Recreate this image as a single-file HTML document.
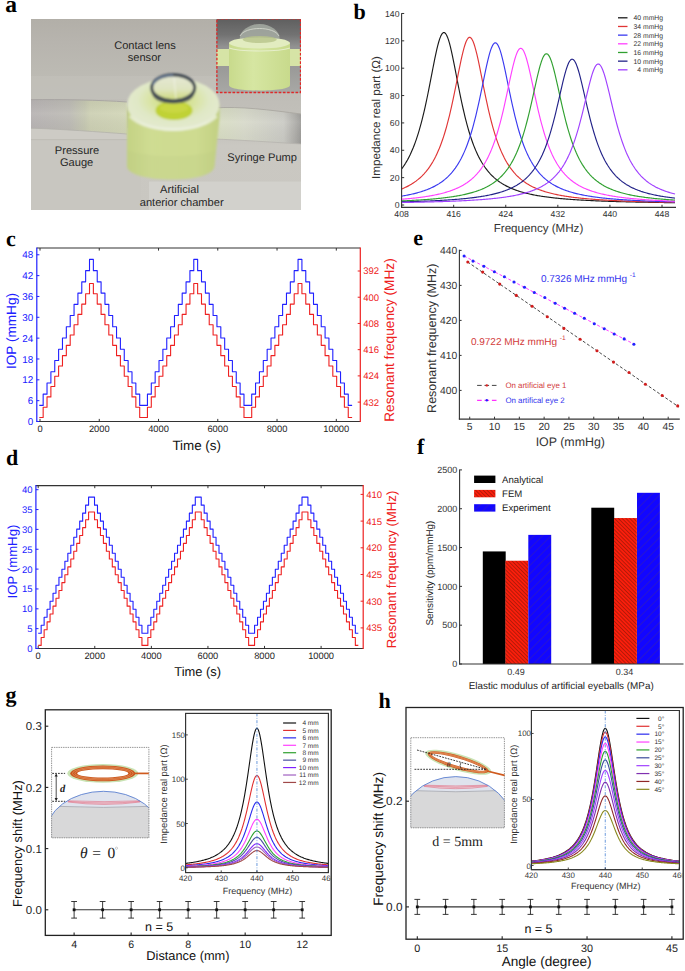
<!DOCTYPE html><html><head><meta charset="utf-8"><style>html,body{margin:0;padding:0;background:#fff;overflow:hidden}svg{display:block}</style></head><body>
<svg width="685" height="971" viewBox="0 0 685 971" text-rendering="geometricPrecision">
<rect x="0" y="0" width="685" height="971" fill="#fff"/>
<text x="5.3" y="12.3" font-size="23.5" text-anchor="start" fill="#000" font-weight="bold" font-family='"Liberation Serif", serif'>a</text>
<defs>
<linearGradient id="abg" x1="0" y1="0" x2="0" y2="1">
 <stop offset="0" stop-color="#b2afa8"/><stop offset="0.12" stop-color="#b7b4ae"/><stop offset="0.28" stop-color="#bcbab3"/><stop offset="0.4" stop-color="#bfbdb7"/>
 <stop offset="0.6" stop-color="#c4c2bc"/><stop offset="0.66" stop-color="#cac8c2"/><stop offset="1" stop-color="#c9c7c1"/></linearGradient>
<linearGradient id="atubeL" x1="0" y1="0" x2="1" y2="0">
 <stop offset="0" stop-color="#b8b4b4"/><stop offset="0.4" stop-color="#bdbbb5"/><stop offset="0.56" stop-color="#c6c8b2"/><stop offset="0.62" stop-color="#cdd0b4"/><stop offset="1" stop-color="#d2d6b8"/></linearGradient>
<linearGradient id="atubeR" x1="0" y1="0" x2="1" y2="0">
 <stop offset="0" stop-color="#d8dec2"/><stop offset="0.35" stop-color="#d8dacb"/><stop offset="0.8" stop-color="#cbcbc5"/><stop offset="0.93" stop-color="#b0afab"/><stop offset="1" stop-color="#9e9d9a"/></linearGradient>
<linearGradient id="atubeV" x1="0" y1="0" x2="0" y2="1">
 <stop offset="0" stop-color="#000" stop-opacity="0.04"/><stop offset="0.4" stop-color="#fff" stop-opacity="0.06"/><stop offset="1" stop-color="#000" stop-opacity="0.03"/></linearGradient>
<linearGradient id="acyl" x1="0" y1="0" x2="1" y2="0">
 <stop offset="0" stop-color="#c4d284"/><stop offset="0.25" stop-color="#cfdc92"/><stop offset="0.75" stop-color="#cedb90"/><stop offset="1" stop-color="#c2d082"/></linearGradient>
<radialGradient id="atop" cx="0.5" cy="0.42" r="0.6">
 <stop offset="0" stop-color="#cadb60"/><stop offset="0.3" stop-color="#d6e294"/><stop offset="0.65" stop-color="#e0e8c6"/><stop offset="1" stop-color="#e4ead2"/></radialGradient>
<linearGradient id="ainbg" x1="0" y1="0" x2="0" y2="1">
 <stop offset="0" stop-color="#5e5e5e"/><stop offset="0.22" stop-color="#727272"/><stop offset="0.38" stop-color="#929292"/><stop offset="0.7" stop-color="#9c9c9a"/><stop offset="1" stop-color="#a9a9a6"/></linearGradient>
<linearGradient id="aincyl" x1="0" y1="0" x2="1" y2="0">
 <stop offset="0" stop-color="#c8da8c"/><stop offset="0.4" stop-color="#d6e6a2"/><stop offset="1" stop-color="#c8da8c"/></linearGradient>
<linearGradient id="alens" x1="0" y1="0" x2="0" y2="1">
 <stop offset="0" stop-color="#e4e7d4"/><stop offset="0.55" stop-color="#dfe4c0"/><stop offset="1" stop-color="#ccd978"/></linearGradient>
<filter id="asoft" x="-5%" y="-5%" width="110%" height="110%"><feGaussianBlur stdDeviation="0.8"/></filter>
<filter id="asoft2" x="-5%" y="-5%" width="110%" height="110%"><feGaussianBlur stdDeviation="0.5"/></filter>
<clipPath id="aclip"><rect x="31" y="19" width="270" height="191"/></clipPath>
<clipPath id="aclip2"><rect x="216.5" y="18.5" width="84.5" height="74.5"/></clipPath>
</defs>
<g clip-path="url(#aclip)">
<rect x="31" y="19" width="270" height="191" fill="url(#abg)"/>
<rect x="31" y="129" width="110" height="81" fill="#c8c6c0"/>
<rect x="31" y="128" width="100" height="11.6" fill="#cdcbc5"/>
<rect x="31" y="139.3" width="100" height="0.8" fill="#bbb9b3"/>
<rect x="31" y="76" width="186" height="23" fill="#c3c1bb" opacity="0.6"/>
<g filter="url(#asoft2)">
<path d="M31,99.7 C60,99.3 100,100 127,102 L127,134 C100,132 60,129 31,128.2 Z" fill="url(#atubeL)"/>
<path d="M31,99.7 C60,99.3 100,100 127,102 L127,134 C100,132 60,129 31,128.2 Z" fill="url(#atubeV)"/>
<path d="M31,99.7 C60,99.3 100,100 127,102" fill="none" stroke="#a6a3a0" stroke-width="0.9"/>
<path d="M31,128.2 C60,129 100,132 127,134" fill="none" stroke="#b4b2ac" stroke-width="0.8"/>
<path d="M214,108 C240,106 270,110 301,114 L301,144 C270,142 240,140 214,139 Z" fill="url(#atubeR)"/>
<path d="M214,108 C240,106 270,110 301,114 L301,144 C270,142 240,140 214,139 Z" fill="url(#atubeV)"/>
<path d="M214,108 C240,106 270,110 301,114" fill="none" stroke="#aaa8a2" stroke-width="0.9"/>
<path d="M214,139 C240,140 270,142 301,144" fill="none" stroke="#b6b4ae" stroke-width="0.8"/>
</g>
<g filter="url(#asoft)">
<path d="M127,104 L127,166 C127,175 150,179.5 172,179.5 C194,179.5 214,175 214.5,166 L219.5,118 L219.5,104 Z" fill="url(#acyl)"/>
<path d="M127,150 L127,166 C127,175 150,179.5 172,179.5 C194,179.5 214,175 214.5,166 L215.5,150 C200,158 146,158 127,150 Z" fill="#b8c880" opacity="0.2"/>
<ellipse cx="173.3" cy="104.5" rx="46.2" ry="26.5" fill="url(#atop)"/>
<path d="M130,116 C146,134 200,134 216.5,116" fill="none" stroke="#eef2e0" stroke-width="3" opacity="0.75"/>
<ellipse cx="174" cy="110.5" rx="18.5" ry="9.5" fill="#c0d234"/>
<ellipse cx="174" cy="108" rx="14" ry="5" fill="#cad846" opacity="0.8"/>
<path d="M151.8,89 C152,97 160,103 173.2,103 C186.4,103 194.4,97 194.6,89 Z" fill="#c6d65a"/>
<ellipse cx="173.2" cy="87.8" rx="21.4" ry="12.8" fill="url(#alens)"/>
<path d="M151.9,91 C153.5,99.5 162,102.6 173.2,102.6 C184.4,102.6 192.9,99.5 194.5,91" fill="none" stroke="#5a6062" stroke-width="1.7"/>
<ellipse cx="173.2" cy="87.8" rx="21.5" ry="12.9" fill="none" stroke="#3e4650" stroke-width="3.1"/>
<path d="M153,85 C155,78 165,75.3 173,75.3" fill="none" stroke="#7088a8" stroke-width="1.6" opacity="0.9"/>
<path d="M174,77 L176,99" stroke="#f6f8f0" stroke-width="0.8" opacity="0.85"/>
</g>
<g filter="url(#asoft2)">
<rect x="149" y="181.6" width="152" height="29" fill="#d2d1cc"/>
</g>
<g clip-path="url(#aclip2)">
<rect x="216" y="18" width="86" height="76" fill="url(#ainbg)"/>
<g filter="url(#asoft2)">
<rect x="216" y="49" width="14" height="17" fill="#d6e4a6"/>
<rect x="288" y="49" width="14" height="17" fill="#d6e4a6"/>
<ellipse cx="259.7" cy="39" rx="20" ry="15" fill="#a6aba2" opacity="0.85"/>
<path d="M240,36 C245,26 274,26 279,36" fill="none" stroke="#d8dcd2" stroke-width="0.8"/>
<path d="M229,43 L229,85 C229,89 245,90.5 259.5,90.5 C274,90.5 290,89 290,85 L290,43 Z" fill="url(#aincyl)"/>
<ellipse cx="259.5" cy="43" rx="30.5" ry="5.5" fill="#e2ecc0"/>
<ellipse cx="259.7" cy="39.5" rx="17" ry="3.5" fill="#b8c48a" opacity="0.8"/>
<path d="M229,48 C240,52 279,52 290,48" fill="none" stroke="#f0f4e0" stroke-width="1.2" opacity="0.7"/>
</g></g>
<rect x="216.9" y="18.9" width="83.6" height="73.6" fill="none" stroke="#e02828" stroke-width="1.3" stroke-dasharray="2.6,1.6"/>
</g>
<text x="145" y="48.8" font-size="11.1" text-anchor="middle" fill="#262626" font-family='"Liberation Sans", sans-serif'>Contact lens</text>
<text x="144.4" y="60.8" font-size="11.1" text-anchor="middle" fill="#262626" font-family='"Liberation Sans", sans-serif'>sensor</text>
<text x="77" y="154.4" font-size="11.1" text-anchor="middle" fill="#262626" font-family='"Liberation Sans", sans-serif'>Pressure</text>
<text x="76.6" y="166" font-size="11.1" text-anchor="middle" fill="#262626" font-family='"Liberation Sans", sans-serif'>Gauge</text>
<text x="262.2" y="160.9" font-size="11.1" text-anchor="middle" fill="#262626" font-family='"Liberation Sans", sans-serif'>Syringe Pump</text>
<text x="179.5" y="193.3" font-size="11.1" text-anchor="middle" fill="#262626" font-family='"Liberation Sans", sans-serif'>Artificial</text>
<text x="181.7" y="206.3" font-size="11.1" text-anchor="middle" fill="#262626" font-family='"Liberation Sans", sans-serif'>anterior chamber</text>
<text x="353.5" y="19" font-size="22" text-anchor="start" fill="#000" font-weight="bold" font-family='"Liberation Serif", serif'>b</text>
<line x1="401.6" y1="13.3" x2="401.6" y2="207.6" stroke="#333" stroke-width="1.1"/>
<line x1="401" y1="207.4" x2="676" y2="207.4" stroke="#333" stroke-width="1.1"/>
<line x1="401.6" y1="205" x2="404.2" y2="205" stroke="#333" stroke-width="1"/>
<text x="399.5" y="208.1" font-size="8.7" text-anchor="end" fill="#333" font-family='"Liberation Sans", sans-serif'>0</text>
<line x1="401.6" y1="177.64" x2="404.2" y2="177.64" stroke="#333" stroke-width="1"/>
<text x="399.5" y="180.74" font-size="8.7" text-anchor="end" fill="#333" font-family='"Liberation Sans", sans-serif'>20</text>
<line x1="401.6" y1="150.28" x2="404.2" y2="150.28" stroke="#333" stroke-width="1"/>
<text x="399.5" y="153.38" font-size="8.7" text-anchor="end" fill="#333" font-family='"Liberation Sans", sans-serif'>40</text>
<line x1="401.6" y1="122.92" x2="404.2" y2="122.92" stroke="#333" stroke-width="1"/>
<text x="399.5" y="126.02" font-size="8.7" text-anchor="end" fill="#333" font-family='"Liberation Sans", sans-serif'>60</text>
<line x1="401.6" y1="95.56" x2="404.2" y2="95.56" stroke="#333" stroke-width="1"/>
<text x="399.5" y="98.66" font-size="8.7" text-anchor="end" fill="#333" font-family='"Liberation Sans", sans-serif'>80</text>
<line x1="401.6" y1="68.2" x2="404.2" y2="68.2" stroke="#333" stroke-width="1"/>
<text x="399.5" y="71.3" font-size="8.7" text-anchor="end" fill="#333" font-family='"Liberation Sans", sans-serif'>100</text>
<line x1="401.6" y1="40.84" x2="404.2" y2="40.84" stroke="#333" stroke-width="1"/>
<text x="399.5" y="43.94" font-size="8.7" text-anchor="end" fill="#333" font-family='"Liberation Sans", sans-serif'>120</text>
<line x1="401.6" y1="13.48" x2="404.2" y2="13.48" stroke="#333" stroke-width="1"/>
<text x="399.5" y="16.58" font-size="8.7" text-anchor="end" fill="#333" font-family='"Liberation Sans", sans-serif'>140</text>
<line x1="401.6" y1="207.4" x2="401.6" y2="204.8" stroke="#333" stroke-width="1"/>
<text x="401.6" y="217.2" font-size="8.7" text-anchor="middle" fill="#333" font-family='"Liberation Sans", sans-serif'>408</text>
<line x1="453.68" y1="207.4" x2="453.68" y2="204.8" stroke="#333" stroke-width="1"/>
<text x="453.68" y="217.2" font-size="8.7" text-anchor="middle" fill="#333" font-family='"Liberation Sans", sans-serif'>416</text>
<line x1="505.76" y1="207.4" x2="505.76" y2="204.8" stroke="#333" stroke-width="1"/>
<text x="505.76" y="217.2" font-size="8.7" text-anchor="middle" fill="#333" font-family='"Liberation Sans", sans-serif'>424</text>
<line x1="557.84" y1="207.4" x2="557.84" y2="204.8" stroke="#333" stroke-width="1"/>
<text x="557.84" y="217.2" font-size="8.7" text-anchor="middle" fill="#333" font-family='"Liberation Sans", sans-serif'>432</text>
<line x1="609.92" y1="207.4" x2="609.92" y2="204.8" stroke="#333" stroke-width="1"/>
<text x="609.92" y="217.2" font-size="8.7" text-anchor="middle" fill="#333" font-family='"Liberation Sans", sans-serif'>440</text>
<line x1="662" y1="207.4" x2="662" y2="204.8" stroke="#333" stroke-width="1"/>
<text x="662" y="217.2" font-size="8.7" text-anchor="middle" fill="#333" font-family='"Liberation Sans", sans-serif'>448</text>
<text x="538.5" y="231.9" font-size="11.6" text-anchor="middle" fill="#333" font-family='"Liberation Sans", sans-serif'>Frequency (MHz)</text>
<text x="379.5" y="117.5" font-size="11.6" text-anchor="middle" fill="#333" transform="rotate(-90 379.5 117.5)" font-family='"Liberation Sans", sans-serif'>Impedance real part (&#937;)</text>
<clipPath id="bclip"><rect x="402" y="10" width="274" height="197"/></clipPath>
<g clip-path="url(#bclip)">
<polyline points="401.6,169 402.58,167.67 403.55,166.28 404.53,164.81 405.51,163.27 406.48,161.64 407.46,159.93 408.44,158.12 409.41,156.22 410.39,154.21 411.36,152.09 412.34,149.85 413.32,147.49 414.29,145 415.27,142.37 416.25,139.6 417.22,136.68 418.2,133.61 419.18,130.37 420.15,126.96 421.13,123.38 422.11,119.63 423.08,115.7 424.06,111.59 425.04,107.31 426.01,102.86 426.99,98.25 427.97,93.5 428.94,88.63 429.92,83.65 430.89,78.62 431.87,73.55 432.85,68.5 433.82,63.53 434.8,58.68 435.78,54.04 436.75,49.66 437.73,45.63 438.71,42.02 439.68,38.91 440.66,36.35 441.64,34.4 442.61,33.12 443.59,32.53 444.57,32.65 445.54,33.47 446.52,34.98 447.5,37.14 448.47,39.89 449.45,43.18 450.42,46.93 451.4,51.09 452.38,55.56 453.35,60.28 454.33,65.17 455.31,70.18 456.28,75.24 457.26,80.3 458.24,85.32 459.21,90.26 460.19,95.1 461.17,99.8 462.14,104.36 463.12,108.75 464.1,112.98 465.07,117.03 466.05,120.9 467.03,124.59 468,128.12 468.98,131.47 469.95,134.65 470.93,137.67 471.91,140.54 472.88,143.26 473.86,145.84 474.84,148.29 475.81,150.61 476.79,152.8 477.77,154.89 478.74,156.86 479.72,158.73 480.7,160.51 481.67,162.19 482.65,163.79 483.63,165.31 484.6,166.75 485.58,168.12 486.56,169.42 487.53,170.66 488.51,171.84 489.48,172.96 490.46,174.03 491.44,175.05 492.41,176.02 493.39,176.94 494.37,177.83 495.34,178.67 496.32,179.48 497.3,180.25 498.27,180.99 499.25,181.69 500.23,182.37 501.2,183.01 502.18,183.63 503.16,184.23 504.13,184.8 505.11,185.34 506.09,185.87 507.06,186.37 508.04,186.85 509.01,187.32 509.99,187.77 510.97,188.2 511.94,188.61 512.92,189.01 513.9,189.39 514.87,189.76 515.85,190.12 516.83,190.47 517.8,190.8 518.78,191.12 519.76,191.43 520.73,191.73 521.71,192.01 522.69,192.29 523.66,192.56 524.64,192.82 525.62,193.08 526.59,193.32 527.57,193.56 528.54,193.79 529.52,194.01 530.5,194.22 531.47,194.43 532.45,194.63 533.43,194.83 534.4,195.02 535.38,195.2 536.36,195.38 537.33,195.56 538.31,195.72 539.29,195.89 540.26,196.05 541.24,196.2 542.22,196.35 543.19,196.5 544.17,196.64 545.15,196.78 546.12,196.92 547.1,197.05 548.07,197.17 549.05,197.3 550.03,197.42 551,197.54 551.98,197.65 552.96,197.76 553.93,197.87 554.91,197.98 555.89,198.08 556.86,198.19 557.84,198.28 558.82,198.38 559.79,198.47 560.77,198.57 561.75,198.66 562.72,198.74 563.7,198.83 564.68,198.91 565.65,198.99 566.63,199.07 567.6,199.15 568.58,199.23 569.56,199.3 570.53,199.38 571.51,199.45 572.49,199.52 573.46,199.58 574.44,199.65 575.42,199.72 576.39,199.78 577.37,199.84 578.35,199.9 579.32,199.96 580.3,200.02 581.28,200.08 582.25,200.14 583.23,200.19 584.21,200.25 585.18,200.3 586.16,200.35 587.13,200.4 588.11,200.45 589.09,200.5 590.06,200.55 591.04,200.6 592.02,200.64 592.99,200.69 593.97,200.73 594.95,200.77 595.92,200.82 596.9,200.86 597.88,200.9 598.85,200.94 599.83,200.98 600.81,201.02 601.78,201.06 602.76,201.1 603.74,201.13 604.71,201.17 605.69,201.2 606.66,201.24 607.64,201.27 608.62,201.31 609.59,201.34 610.57,201.37 611.55,201.41 612.52,201.44 613.5,201.47 614.48,201.5 615.45,201.53 616.43,201.56 617.41,201.59 618.38,201.61 619.36,201.64 620.34,201.67 621.31,201.7 622.29,201.72 623.27,201.75 624.24,201.78 625.22,201.8 626.19,201.83 627.17,201.85 628.15,201.88 629.12,201.9 630.1,201.92 631.08,201.95 632.05,201.97 633.03,201.99 634.01,202.01 634.98,202.04 635.96,202.06 636.94,202.08 637.91,202.1 638.89,202.12 639.87,202.14 640.84,202.16 641.82,202.18 642.8,202.2 643.77,202.22 644.75,202.24 645.72,202.26 646.7,202.27 647.68,202.29 648.65,202.31 649.63,202.33 650.61,202.34 651.58,202.36 652.56,202.38 653.54,202.39 654.51,202.41 655.49,202.43 656.47,202.44 657.44,202.46 658.42,202.47 659.4,202.49 660.37,202.5 661.35,202.52 662.33,202.53 663.3,202.55 664.28,202.56 665.25,202.58 666.23,202.59 667.21,202.6 668.18,202.62 669.16,202.63 670.14,202.64 671.11,202.66 672.09,202.67 673.07,202.68 674.04,202.7 675.02,202.71" fill="none" stroke="#1a1a1a" stroke-width="1.15" stroke-linejoin="round"/>
<polyline points="401.6,189.05 402.58,188.64 403.55,188.22 404.53,187.79 405.51,187.34 406.48,186.87 407.46,186.38 408.44,185.87 409.41,185.34 410.39,184.78 411.36,184.21 412.34,183.6 413.32,182.97 414.29,182.32 415.27,181.63 416.25,180.92 417.22,180.17 418.2,179.38 419.18,178.56 420.15,177.7 421.13,176.8 422.11,175.86 423.08,174.87 424.06,173.83 425.04,172.74 426.01,171.6 426.99,170.39 427.97,169.13 428.94,167.79 429.92,166.39 430.89,164.92 431.87,163.36 432.85,161.73 433.82,160 434.8,158.18 435.78,156.26 436.75,154.24 437.73,152.1 438.71,149.85 439.68,147.47 440.66,144.96 441.64,142.32 442.61,139.53 443.59,136.59 444.57,133.49 445.54,130.24 446.52,126.81 447.5,123.22 448.47,119.46 449.45,115.52 450.42,111.41 451.4,107.14 452.38,102.71 453.35,98.14 454.33,93.44 455.31,88.64 456.28,83.76 457.26,78.83 458.24,73.92 459.21,69.05 460.19,64.29 461.17,59.7 462.14,55.36 463.12,51.32 464.1,47.67 465.07,44.47 466.05,41.79 467.03,39.7 468,38.24 468.98,37.44 469.95,37.32 470.93,37.89 471.91,39.14 472.88,41.03 473.86,43.52 474.84,46.55 475.81,50.06 476.79,53.97 477.77,58.22 478.74,62.74 479.72,67.45 480.7,72.29 481.67,77.19 482.65,82.12 483.63,87.02 484.6,91.85 485.58,96.59 486.56,101.2 487.53,105.68 488.51,110.01 489.48,114.17 490.46,118.16 491.44,121.99 492.41,125.64 493.39,129.11 494.37,132.43 495.34,135.57 496.32,138.57 497.3,141.4 498.27,144.1 499.25,146.65 500.23,149.07 501.2,151.36 502.18,153.54 503.16,155.6 504.13,157.55 505.11,159.4 506.09,161.16 507.06,162.83 508.04,164.41 509.01,165.91 509.99,167.34 510.97,168.69 511.94,169.98 512.92,171.2 513.9,172.37 514.87,173.47 515.85,174.53 516.83,175.54 517.8,176.49 518.78,177.41 519.76,178.28 520.73,179.11 521.71,179.91 522.69,180.67 523.66,181.4 524.64,182.09 525.62,182.76 526.59,183.4 527.57,184.01 528.54,184.59 529.52,185.15 530.5,185.69 531.47,186.21 532.45,186.71 533.43,187.18 534.4,187.64 535.38,188.08 536.36,188.5 537.33,188.91 538.31,189.31 539.29,189.68 540.26,190.05 541.24,190.4 542.22,190.74 543.19,191.06 544.17,191.38 545.15,191.68 546.12,191.98 547.1,192.26 548.07,192.54 549.05,192.8 550.03,193.06 551,193.31 551.98,193.55 552.96,193.78 553.93,194 554.91,194.22 555.89,194.43 556.86,194.64 557.84,194.83 558.82,195.03 559.79,195.21 560.77,195.39 561.75,195.57 562.72,195.74 563.7,195.91 564.68,196.07 565.65,196.22 566.63,196.38 567.6,196.52 568.58,196.67 569.56,196.81 570.53,196.94 571.51,197.07 572.49,197.2 573.46,197.33 574.44,197.45 575.42,197.57 576.39,197.68 577.37,197.8 578.35,197.91 579.32,198.01 580.3,198.12 581.28,198.22 582.25,198.32 583.23,198.42 584.21,198.51 585.18,198.6 586.16,198.69 587.13,198.78 588.11,198.87 589.09,198.95 590.06,199.03 591.04,199.11 592.02,199.19 592.99,199.27 593.97,199.34 594.95,199.41 595.92,199.49 596.9,199.56 597.88,199.62 598.85,199.69 599.83,199.76 600.81,199.82 601.78,199.88 602.76,199.94 603.74,200 604.71,200.06 605.69,200.12 606.66,200.18 607.64,200.23 608.62,200.28 609.59,200.34 610.57,200.39 611.55,200.44 612.52,200.49 613.5,200.54 614.48,200.59 615.45,200.63 616.43,200.68 617.41,200.73 618.38,200.77 619.36,200.81 620.34,200.86 621.31,200.9 622.29,200.94 623.27,200.98 624.24,201.02 625.22,201.06 626.19,201.09 627.17,201.13 628.15,201.17 629.12,201.21 630.1,201.24 631.08,201.28 632.05,201.31 633.03,201.34 634.01,201.38 634.98,201.41 635.96,201.44 636.94,201.47 637.91,201.5 638.89,201.53 639.87,201.56 640.84,201.59 641.82,201.62 642.8,201.65 643.77,201.68 644.75,201.7 645.72,201.73 646.7,201.76 647.68,201.78 648.65,201.81 649.63,201.84 650.61,201.86 651.58,201.88 652.56,201.91 653.54,201.93 654.51,201.96 655.49,201.98 656.47,202 657.44,202.02 658.42,202.05 659.4,202.07 660.37,202.09 661.35,202.11 662.33,202.13 663.3,202.15 664.28,202.17 665.25,202.19 666.23,202.21 667.21,202.23 668.18,202.25 669.16,202.27 670.14,202.29 671.11,202.3 672.09,202.32 673.07,202.34 674.04,202.36 675.02,202.37" fill="none" stroke="#e03535" stroke-width="1.15" stroke-linejoin="round"/>
<polyline points="401.6,196.12 402.58,195.96 403.55,195.8 404.53,195.62 405.51,195.45 406.48,195.27 407.46,195.08 408.44,194.88 409.41,194.68 410.39,194.48 411.36,194.26 412.34,194.04 413.32,193.82 414.29,193.58 415.27,193.34 416.25,193.09 417.22,192.83 418.2,192.56 419.18,192.28 420.15,192 421.13,191.7 422.11,191.39 423.08,191.07 424.06,190.74 425.04,190.39 426.01,190.04 426.99,189.67 427.97,189.28 428.94,188.88 429.92,188.47 430.89,188.04 431.87,187.59 432.85,187.12 433.82,186.63 434.8,186.13 435.78,185.6 436.75,185.05 437.73,184.47 438.71,183.88 439.68,183.25 440.66,182.6 441.64,181.91 442.61,181.2 443.59,180.45 444.57,179.67 445.54,178.85 446.52,178 447.5,177.1 448.47,176.16 449.45,175.17 450.42,174.13 451.4,173.04 452.38,171.89 453.35,170.69 454.33,169.42 455.31,168.09 456.28,166.69 457.26,165.21 458.24,163.66 459.21,162.02 460.19,160.29 461.17,158.46 462.14,156.54 463.12,154.51 464.1,152.37 465.07,150.11 466.05,147.73 467.03,145.21 468,142.56 468.98,139.77 469.95,136.83 470.93,133.73 471.91,130.47 472.88,127.05 473.86,123.47 474.84,119.72 475.81,115.8 476.79,111.72 477.77,107.48 478.74,103.11 479.72,98.6 480.7,93.98 481.67,89.28 482.65,84.53 483.63,79.77 484.6,75.04 485.58,70.4 486.56,65.9 487.53,61.61 488.51,57.6 489.48,53.93 490.46,50.68 491.44,47.92 492.41,45.7 493.39,44.08 494.37,43.09 495.34,42.76 496.32,43.09 497.3,44.08 498.27,45.7 499.25,47.92 500.23,50.68 501.2,53.93 502.18,57.6 503.16,61.61 504.13,65.9 505.11,70.4 506.09,75.04 507.06,79.77 508.04,84.53 509.01,89.28 509.99,93.98 510.97,98.6 511.94,103.11 512.92,107.48 513.9,111.72 514.87,115.8 515.85,119.72 516.83,123.47 517.8,127.05 518.78,130.47 519.76,133.73 520.73,136.83 521.71,139.77 522.69,142.56 523.66,145.21 524.64,147.73 525.62,150.11 526.59,152.37 527.57,154.51 528.54,156.54 529.52,158.46 530.5,160.29 531.47,162.02 532.45,163.66 533.43,165.21 534.4,166.69 535.38,168.09 536.36,169.42 537.33,170.69 538.31,171.89 539.29,173.04 540.26,174.13 541.24,175.17 542.22,176.16 543.19,177.1 544.17,178 545.15,178.85 546.12,179.67 547.1,180.45 548.07,181.2 549.05,181.91 550.03,182.6 551,183.25 551.98,183.88 552.96,184.47 553.93,185.05 554.91,185.6 555.89,186.13 556.86,186.63 557.84,187.12 558.82,187.59 559.79,188.04 560.77,188.47 561.75,188.88 562.72,189.28 563.7,189.67 564.68,190.04 565.65,190.39 566.63,190.74 567.6,191.07 568.58,191.39 569.56,191.7 570.53,192 571.51,192.28 572.49,192.56 573.46,192.83 574.44,193.09 575.42,193.34 576.39,193.58 577.37,193.82 578.35,194.04 579.32,194.26 580.3,194.48 581.28,194.68 582.25,194.88 583.23,195.08 584.21,195.27 585.18,195.45 586.16,195.62 587.13,195.8 588.11,195.96 589.09,196.12 590.06,196.28 591.04,196.43 592.02,196.58 592.99,196.73 593.97,196.87 594.95,197 595.92,197.14 596.9,197.27 597.88,197.39 598.85,197.51 599.83,197.63 600.81,197.75 601.78,197.86 602.76,197.97 603.74,198.08 604.71,198.18 605.69,198.28 606.66,198.38 607.64,198.48 608.62,198.57 609.59,198.67 610.57,198.76 611.55,198.84 612.52,198.93 613.5,199.01 614.48,199.1 615.45,199.18 616.43,199.25 617.41,199.33 618.38,199.4 619.36,199.48 620.34,199.55 621.31,199.62 622.29,199.68 623.27,199.75 624.24,199.82 625.22,199.88 626.19,199.94 627.17,200 628.15,200.06 629.12,200.12 630.1,200.18 631.08,200.23 632.05,200.29 633.03,200.34 634.01,200.4 634.98,200.45 635.96,200.5 636.94,200.55 637.91,200.6 638.89,200.64 639.87,200.69 640.84,200.74 641.82,200.78 642.8,200.82 643.77,200.87 644.75,200.91 645.72,200.95 646.7,200.99 647.68,201.03 648.65,201.07 649.63,201.11 650.61,201.15 651.58,201.18 652.56,201.22 653.54,201.26 654.51,201.29 655.49,201.33 656.47,201.36 657.44,201.39 658.42,201.43 659.4,201.46 660.37,201.49 661.35,201.52 662.33,201.55 663.3,201.58 664.28,201.61 665.25,201.64 666.23,201.67 667.21,201.7 668.18,201.72 669.16,201.75 670.14,201.78 671.11,201.8 672.09,201.83 673.07,201.85 674.04,201.88 675.02,201.9" fill="none" stroke="#3a3af0" stroke-width="1.15" stroke-linejoin="round"/>
<polyline points="401.6,199.27 402.58,199.19 403.55,199.11 404.53,199.03 405.51,198.94 406.48,198.85 407.46,198.76 408.44,198.67 409.41,198.58 410.39,198.48 411.36,198.39 412.34,198.28 413.32,198.18 414.29,198.07 415.27,197.97 416.25,197.85 417.22,197.74 418.2,197.62 419.18,197.5 420.15,197.37 421.13,197.25 422.11,197.12 423.08,196.98 424.06,196.84 425.04,196.7 426.01,196.55 426.99,196.4 427.97,196.24 428.94,196.08 429.92,195.91 430.89,195.74 431.87,195.57 432.85,195.39 433.82,195.2 434.8,195.01 435.78,194.81 436.75,194.6 437.73,194.39 438.71,194.17 439.68,193.94 440.66,193.71 441.64,193.47 442.61,193.21 443.59,192.96 444.57,192.69 445.54,192.41 446.52,192.12 447.5,191.82 448.47,191.51 449.45,191.19 450.42,190.86 451.4,190.52 452.38,190.16 453.35,189.79 454.33,189.4 455.31,189 456.28,188.58 457.26,188.15 458.24,187.7 459.21,187.23 460.19,186.74 461.17,186.23 462.14,185.7 463.12,185.14 464.1,184.56 465.07,183.96 466.05,183.33 467.03,182.67 468,181.98 468.98,181.26 469.95,180.5 470.93,179.71 471.91,178.88 472.88,178.02 473.86,177.11 474.84,176.15 475.81,175.15 476.79,174.1 477.77,172.99 478.74,171.83 479.72,170.6 480.7,169.32 481.67,167.96 482.65,166.53 483.63,165.03 484.6,163.44 485.58,161.77 486.56,160.01 487.53,158.15 488.51,156.19 489.48,154.13 490.46,151.94 491.44,149.64 492.41,147.21 493.39,144.65 494.37,141.95 495.34,139.11 496.32,136.12 497.3,132.97 498.27,129.67 499.25,126.2 500.23,122.58 501.2,118.79 502.18,114.85 503.16,110.76 504.13,106.53 505.11,102.18 506.09,97.72 507.06,93.18 508.04,88.59 509.01,83.99 509.99,79.42 510.97,74.93 511.94,70.58 512.92,66.44 513.9,62.56 514.87,59.02 515.85,55.89 516.83,53.22 517.8,51.07 518.78,49.51 519.76,48.55 520.73,48.23 521.71,48.55 522.69,49.51 523.66,51.07 524.64,53.22 525.62,55.89 526.59,59.02 527.57,62.56 528.54,66.44 529.52,70.58 530.5,74.93 531.47,79.42 532.45,83.99 533.43,88.59 534.4,93.18 535.38,97.72 536.36,102.18 537.33,106.53 538.31,110.76 539.29,114.85 540.26,118.79 541.24,122.58 542.22,126.2 543.19,129.67 544.17,132.97 545.15,136.12 546.12,139.11 547.1,141.95 548.07,144.65 549.05,147.21 550.03,149.64 551,151.94 551.98,154.13 552.96,156.19 553.93,158.15 554.91,160.01 555.89,161.77 556.86,163.44 557.84,165.03 558.82,166.53 559.79,167.96 560.77,169.32 561.75,170.6 562.72,171.83 563.7,172.99 564.68,174.1 565.65,175.15 566.63,176.15 567.6,177.11 568.58,178.02 569.56,178.88 570.53,179.71 571.51,180.5 572.49,181.26 573.46,181.98 574.44,182.67 575.42,183.33 576.39,183.96 577.37,184.56 578.35,185.14 579.32,185.7 580.3,186.23 581.28,186.74 582.25,187.23 583.23,187.7 584.21,188.15 585.18,188.58 586.16,189 587.13,189.4 588.11,189.79 589.09,190.16 590.06,190.52 591.04,190.86 592.02,191.19 592.99,191.51 593.97,191.82 594.95,192.12 595.92,192.41 596.9,192.69 597.88,192.96 598.85,193.21 599.83,193.47 600.81,193.71 601.78,193.94 602.76,194.17 603.74,194.39 604.71,194.6 605.69,194.81 606.66,195.01 607.64,195.2 608.62,195.39 609.59,195.57 610.57,195.74 611.55,195.91 612.52,196.08 613.5,196.24 614.48,196.4 615.45,196.55 616.43,196.7 617.41,196.84 618.38,196.98 619.36,197.12 620.34,197.25 621.31,197.37 622.29,197.5 623.27,197.62 624.24,197.74 625.22,197.85 626.19,197.97 627.17,198.07 628.15,198.18 629.12,198.28 630.1,198.39 631.08,198.48 632.05,198.58 633.03,198.67 634.01,198.76 634.98,198.85 635.96,198.94 636.94,199.03 637.91,199.11 638.89,199.19 639.87,199.27 640.84,199.34 641.82,199.42 642.8,199.49 643.77,199.57 644.75,199.64 645.72,199.7 646.7,199.77 647.68,199.84 648.65,199.9 649.63,199.96 650.61,200.03 651.58,200.09 652.56,200.14 653.54,200.2 654.51,200.26 655.49,200.31 656.47,200.37 657.44,200.42 658.42,200.47 659.4,200.52 660.37,200.57 661.35,200.62 662.33,200.67 663.3,200.72 664.28,200.76 665.25,200.81 666.23,200.85 667.21,200.9 668.18,200.94 669.16,200.98 670.14,201.02 671.11,201.06 672.09,201.1 673.07,201.14 674.04,201.18 675.02,201.21" fill="none" stroke="#ff40ff" stroke-width="1.15" stroke-linejoin="round"/>
<polyline points="401.6,200.94 402.58,200.9 403.55,200.85 404.53,200.81 405.51,200.76 406.48,200.72 407.46,200.67 408.44,200.62 409.41,200.57 410.39,200.52 411.36,200.47 412.34,200.41 413.32,200.36 414.29,200.3 415.27,200.25 416.25,200.19 417.22,200.13 418.2,200.07 419.18,200.01 420.15,199.95 421.13,199.88 422.11,199.82 423.08,199.75 424.06,199.68 425.04,199.61 426.01,199.54 426.99,199.46 427.97,199.39 428.94,199.31 429.92,199.23 430.89,199.15 431.87,199.07 432.85,198.98 433.82,198.9 434.8,198.81 435.78,198.71 436.75,198.62 437.73,198.52 438.71,198.43 439.68,198.32 440.66,198.22 441.64,198.11 442.61,198 443.59,197.89 444.57,197.77 445.54,197.65 446.52,197.53 447.5,197.41 448.47,197.28 449.45,197.14 450.42,197.01 451.4,196.87 452.38,196.72 453.35,196.57 454.33,196.42 455.31,196.26 456.28,196.1 457.26,195.93 458.24,195.75 459.21,195.57 460.19,195.39 461.17,195.2 462.14,195 463.12,194.8 464.1,194.59 465.07,194.37 466.05,194.15 467.03,193.92 468,193.68 468.98,193.43 469.95,193.18 470.93,192.91 471.91,192.64 472.88,192.35 473.86,192.06 474.84,191.75 475.81,191.44 476.79,191.11 477.77,190.77 478.74,190.41 479.72,190.05 480.7,189.66 481.67,189.27 482.65,188.85 483.63,188.42 484.6,187.98 485.58,187.51 486.56,187.03 487.53,186.52 488.51,185.99 489.48,185.44 490.46,184.87 491.44,184.27 492.41,183.64 493.39,182.98 494.37,182.3 495.34,181.58 496.32,180.83 497.3,180.04 498.27,179.22 499.25,178.35 500.23,177.45 501.2,176.49 502.18,175.5 503.16,174.44 504.13,173.34 505.11,172.18 506.09,170.96 507.06,169.67 508.04,168.32 509.01,166.9 509.99,165.39 510.97,163.81 511.94,162.14 512.92,160.38 513.9,158.52 514.87,156.56 515.85,154.49 516.83,152.31 517.8,150.01 518.78,147.58 519.76,145.02 520.73,142.32 521.71,139.48 522.69,136.5 523.66,133.36 524.64,130.07 525.62,126.62 526.59,123.02 527.57,119.27 528.54,115.37 529.52,111.33 530.5,107.17 531.47,102.9 532.45,98.54 533.43,94.12 534.4,89.68 535.38,85.26 536.36,80.9 537.33,76.65 538.31,72.58 539.29,68.75 540.26,65.22 541.24,62.05 542.22,59.32 543.19,57.08 544.17,55.37 545.15,54.25 546.12,53.73 547.1,53.84 548.07,54.56 549.05,55.88 550.03,57.77 551,60.18 551.98,63.06 552.96,66.36 553.93,69.99 554.91,73.91 555.89,78.05 556.86,82.34 557.84,86.73 558.82,91.16 559.79,95.6 560.77,100 561.75,104.33 562.72,108.57 563.7,112.69 564.68,116.69 565.65,120.54 566.63,124.24 567.6,127.79 568.58,131.18 569.56,134.42 570.53,137.51 571.51,140.45 572.49,143.24 573.46,145.89 574.44,148.4 575.42,150.79 576.39,153.05 577.37,155.19 578.35,157.22 579.32,159.15 580.3,160.98 581.28,162.71 582.25,164.35 583.23,165.9 584.21,167.38 585.18,168.78 586.16,170.11 587.13,171.37 588.11,172.57 589.09,173.72 590.06,174.8 591.04,175.83 592.02,176.82 592.99,177.75 593.97,178.65 594.95,179.5 595.92,180.31 596.9,181.08 597.88,181.82 598.85,182.53 599.83,183.2 600.81,183.85 601.78,184.47 602.76,185.06 603.74,185.63 604.71,186.17 605.69,186.69 606.66,187.19 607.64,187.67 608.62,188.13 609.59,188.57 610.57,188.99 611.55,189.4 612.52,189.79 613.5,190.17 614.48,190.53 615.45,190.88 616.43,191.22 617.41,191.54 618.38,191.86 619.36,192.16 620.34,192.45 621.31,192.73 622.29,193 623.27,193.26 624.24,193.52 625.22,193.76 626.19,194 627.17,194.23 628.15,194.45 629.12,194.66 630.1,194.87 631.08,195.07 632.05,195.26 633.03,195.45 634.01,195.63 634.98,195.81 635.96,195.98 636.94,196.15 637.91,196.31 638.89,196.47 639.87,196.62 640.84,196.77 641.82,196.91 642.8,197.05 643.77,197.19 644.75,197.32 645.72,197.45 646.7,197.57 647.68,197.69 648.65,197.81 649.63,197.93 650.61,198.04 651.58,198.15 652.56,198.25 653.54,198.36 654.51,198.46 655.49,198.56 656.47,198.65 657.44,198.75 658.42,198.84 659.4,198.93 660.37,199.01 661.35,199.1 662.33,199.18 663.3,199.26 664.28,199.34 665.25,199.41 666.23,199.49 667.21,199.56 668.18,199.63 669.16,199.7 670.14,199.77 671.11,199.84 672.09,199.9 673.07,199.97 674.04,200.03 675.02,200.09" fill="none" stroke="#30a030" stroke-width="1.15" stroke-linejoin="round"/>
<polyline points="401.6,201.91 402.58,201.89 403.55,201.86 404.53,201.84 405.51,201.81 406.48,201.78 407.46,201.75 408.44,201.72 409.41,201.7 410.39,201.67 411.36,201.64 412.34,201.61 413.32,201.57 414.29,201.54 415.27,201.51 416.25,201.48 417.22,201.44 418.2,201.41 419.18,201.38 420.15,201.34 421.13,201.3 422.11,201.27 423.08,201.23 424.06,201.19 425.04,201.15 426.01,201.11 426.99,201.07 427.97,201.03 428.94,200.99 429.92,200.95 430.89,200.9 431.87,200.86 432.85,200.81 433.82,200.76 434.8,200.72 435.78,200.67 436.75,200.62 437.73,200.57 438.71,200.52 439.68,200.46 440.66,200.41 441.64,200.35 442.61,200.3 443.59,200.24 444.57,200.18 445.54,200.12 446.52,200.06 447.5,200 448.47,199.93 449.45,199.87 450.42,199.8 451.4,199.73 452.38,199.66 453.35,199.59 454.33,199.51 455.31,199.44 456.28,199.36 457.26,199.28 458.24,199.2 459.21,199.12 460.19,199.03 461.17,198.94 462.14,198.85 463.12,198.76 464.1,198.67 465.07,198.57 466.05,198.47 467.03,198.37 468,198.26 468.98,198.15 469.95,198.04 470.93,197.93 471.91,197.81 472.88,197.69 473.86,197.57 474.84,197.44 475.81,197.31 476.79,197.18 477.77,197.04 478.74,196.9 479.72,196.75 480.7,196.6 481.67,196.44 482.65,196.28 483.63,196.12 484.6,195.95 485.58,195.77 486.56,195.59 487.53,195.4 488.51,195.21 489.48,195.01 490.46,194.8 491.44,194.59 492.41,194.37 493.39,194.14 494.37,193.9 495.34,193.66 496.32,193.41 497.3,193.15 498.27,192.88 499.25,192.6 500.23,192.31 501.2,192 502.18,191.69 503.16,191.37 504.13,191.03 505.11,190.68 506.09,190.32 507.06,189.94 508.04,189.55 509.01,189.14 509.99,188.71 510.97,188.27 511.94,187.81 512.92,187.33 513.9,186.82 514.87,186.3 515.85,185.76 516.83,185.19 517.8,184.59 518.78,183.97 519.76,183.32 520.73,182.64 521.71,181.92 522.69,181.18 523.66,180.39 524.64,179.57 525.62,178.71 526.59,177.81 527.57,176.86 528.54,175.87 529.52,174.82 530.5,173.72 531.47,172.57 532.45,171.35 533.43,170.07 534.4,168.72 535.38,167.29 536.36,165.79 537.33,164.21 538.31,162.55 539.29,160.79 540.26,158.93 541.24,156.97 542.22,154.91 543.19,152.73 544.17,150.43 545.15,148.01 546.12,145.45 547.1,142.76 548.07,139.93 549.05,136.96 550.03,133.84 551,130.57 551.98,127.15 552.96,123.58 553.93,119.87 554.91,116.02 555.89,112.05 556.86,107.96 557.84,103.79 558.82,99.55 559.79,95.27 560.77,91 561.75,86.77 562.72,82.64 563.7,78.65 564.68,74.87 565.65,71.37 566.63,68.19 567.6,65.41 568.58,63.09 569.56,61.27 570.53,60 571.51,59.3 572.49,59.2 573.46,59.7 574.44,60.78 575.42,62.43 576.39,64.59 577.37,67.22 578.35,70.27 579.32,73.67 580.3,77.37 581.28,81.29 582.25,85.38 583.23,89.58 584.21,93.85 585.18,98.13 586.16,102.38 587.13,106.58 588.11,110.7 589.09,114.71 590.06,118.6 591.04,122.36 592.02,125.98 592.99,129.44 593.97,132.77 594.95,135.94 595.92,138.96 596.9,141.84 597.88,144.57 598.85,147.17 599.83,149.64 600.81,151.98 601.78,154.19 602.76,156.3 603.74,158.29 604.71,160.18 605.69,161.97 606.66,163.67 607.64,165.28 608.62,166.8 609.59,168.25 610.57,169.62 611.55,170.93 612.52,172.17 613.5,173.34 614.48,174.46 615.45,175.53 616.43,176.54 617.41,177.5 618.38,178.42 619.36,179.29 620.34,180.13 621.31,180.92 622.29,181.68 623.27,182.4 624.24,183.09 625.22,183.75 626.19,184.39 627.17,184.99 628.15,185.57 629.12,186.12 630.1,186.65 631.08,187.16 632.05,187.65 633.03,188.12 634.01,188.57 634.98,189 635.96,189.41 636.94,189.81 637.91,190.19 638.89,190.56 639.87,190.91 640.84,191.26 641.82,191.58 642.8,191.9 643.77,192.21 644.75,192.5 645.72,192.78 646.7,193.06 647.68,193.32 648.65,193.58 649.63,193.82 650.61,194.06 651.58,194.29 652.56,194.52 653.54,194.73 654.51,194.94 655.49,195.14 656.47,195.34 657.44,195.53 658.42,195.71 659.4,195.89 660.37,196.06 661.35,196.23 662.33,196.39 663.3,196.55 664.28,196.7 665.25,196.85 666.23,196.99 667.21,197.13 668.18,197.27 669.16,197.4 670.14,197.53 671.11,197.65 672.09,197.77 673.07,197.89 674.04,198.01 675.02,198.12" fill="none" stroke="#222288" stroke-width="1.15" stroke-linejoin="round"/>
<polyline points="401.6,202.52 402.58,202.51 403.55,202.49 404.53,202.47 405.51,202.46 406.48,202.44 407.46,202.42 408.44,202.4 409.41,202.39 410.39,202.37 411.36,202.35 412.34,202.33 413.32,202.31 414.29,202.29 415.27,202.27 416.25,202.25 417.22,202.23 418.2,202.21 419.18,202.19 420.15,202.17 421.13,202.15 422.11,202.12 423.08,202.1 424.06,202.08 425.04,202.05 426.01,202.03 426.99,202.01 427.97,201.98 428.94,201.96 429.92,201.93 430.89,201.9 431.87,201.88 432.85,201.85 433.82,201.82 434.8,201.8 435.78,201.77 436.75,201.74 437.73,201.71 438.71,201.68 439.68,201.65 440.66,201.62 441.64,201.59 442.61,201.56 443.59,201.52 444.57,201.49 445.54,201.46 446.52,201.42 447.5,201.39 448.47,201.35 449.45,201.31 450.42,201.28 451.4,201.24 452.38,201.2 453.35,201.16 454.33,201.12 455.31,201.08 456.28,201.04 457.26,201 458.24,200.95 459.21,200.91 460.19,200.86 461.17,200.82 462.14,200.77 463.12,200.72 464.1,200.67 465.07,200.62 466.05,200.57 467.03,200.52 468,200.46 468.98,200.41 469.95,200.35 470.93,200.29 471.91,200.24 472.88,200.18 473.86,200.11 474.84,200.05 475.81,199.99 476.79,199.92 477.77,199.86 478.74,199.79 479.72,199.72 480.7,199.64 481.67,199.57 482.65,199.49 483.63,199.42 484.6,199.34 485.58,199.26 486.56,199.17 487.53,199.09 488.51,199 489.48,198.91 490.46,198.82 491.44,198.72 492.41,198.63 493.39,198.53 494.37,198.42 495.34,198.32 496.32,198.21 497.3,198.1 498.27,197.98 499.25,197.87 500.23,197.75 501.2,197.62 502.18,197.5 503.16,197.36 504.13,197.23 505.11,197.09 506.09,196.95 507.06,196.8 508.04,196.65 509.01,196.49 509.99,196.33 510.97,196.16 511.94,195.99 512.92,195.81 513.9,195.63 514.87,195.44 515.85,195.24 516.83,195.04 517.8,194.83 518.78,194.62 519.76,194.4 520.73,194.17 521.71,193.93 522.69,193.68 523.66,193.43 524.64,193.16 525.62,192.89 526.59,192.6 527.57,192.31 528.54,192 529.52,191.68 530.5,191.35 531.47,191.01 532.45,190.65 533.43,190.28 534.4,189.9 535.38,189.5 536.36,189.08 537.33,188.65 538.31,188.19 539.29,187.72 540.26,187.23 541.24,186.72 542.22,186.18 543.19,185.62 544.17,185.04 545.15,184.43 546.12,183.79 547.1,183.12 548.07,182.42 549.05,181.69 550.03,180.92 551,180.11 551.98,179.27 552.96,178.38 553.93,177.45 554.91,176.47 555.89,175.44 556.86,174.36 557.84,173.22 558.82,172.03 559.79,170.77 560.77,169.44 561.75,168.04 562.72,166.56 563.7,165.01 564.68,163.36 565.65,161.63 566.63,159.81 567.6,157.88 568.58,155.85 569.56,153.7 570.53,151.44 571.51,149.05 572.49,146.54 573.46,143.9 574.44,141.11 575.42,138.19 576.39,135.12 577.37,131.91 578.35,128.56 579.32,125.06 580.3,121.43 581.28,117.66 582.25,113.78 583.23,109.8 584.21,105.74 585.18,101.63 586.16,97.49 587.13,93.37 588.11,89.3 589.09,85.35 590.06,81.55 591.04,77.98 592.02,74.69 592.99,71.74 593.97,69.2 594.95,67.11 595.92,65.52 596.9,64.47 597.88,63.99 598.85,64.09 599.83,64.76 600.81,65.99 601.78,67.75 602.76,70 603.74,72.68 604.71,75.75 605.69,79.14 606.66,82.8 607.64,86.65 608.62,90.65 609.59,94.74 610.57,98.87 611.55,103 612.52,107.1 613.5,111.14 614.48,115.09 615.45,118.93 616.43,122.65 617.41,126.24 618.38,129.69 619.36,133 620.34,136.16 621.31,139.18 622.29,142.06 623.27,144.79 624.24,147.39 625.22,149.86 626.19,152.21 627.17,154.43 628.15,156.54 629.12,158.53 630.1,160.43 631.08,162.22 632.05,163.92 633.03,165.53 634.01,167.06 634.98,168.51 635.96,169.89 636.94,171.19 637.91,172.43 638.89,173.61 639.87,174.73 640.84,175.79 641.82,176.8 642.8,177.77 643.77,178.68 644.75,179.56 645.72,180.39 646.7,181.18 647.68,181.94 648.65,182.66 649.63,183.35 650.61,184.01 651.58,184.63 652.56,185.24 653.54,185.81 654.51,186.36 655.49,186.89 656.47,187.4 657.44,187.88 658.42,188.35 659.4,188.79 660.37,189.22 661.35,189.63 662.33,190.03 663.3,190.41 664.28,190.77 665.25,191.13 666.23,191.46 667.21,191.79 668.18,192.1 669.16,192.41 670.14,192.7 671.11,192.98 672.09,193.25 673.07,193.51 674.04,193.76 675.02,194.01" fill="none" stroke="#a040ff" stroke-width="1.15" stroke-linejoin="round"/>
</g>
<line x1="618" y1="17.8" x2="627.5" y2="17.8" stroke="#1a1a1a" stroke-width="1.3"/>
<text x="663" y="20.2" font-size="6.8" text-anchor="end" fill="#333" font-family='"Liberation Sans", sans-serif'>40 mmHg</text>
<line x1="618" y1="26.47" x2="627.5" y2="26.47" stroke="#e03535" stroke-width="1.3"/>
<text x="663" y="28.87" font-size="6.8" text-anchor="end" fill="#333" font-family='"Liberation Sans", sans-serif'>34 mmHg</text>
<line x1="618" y1="35.14" x2="627.5" y2="35.14" stroke="#3a3af0" stroke-width="1.3"/>
<text x="663" y="37.54" font-size="6.8" text-anchor="end" fill="#333" font-family='"Liberation Sans", sans-serif'>28 mmHg</text>
<line x1="618" y1="43.81" x2="627.5" y2="43.81" stroke="#ff40ff" stroke-width="1.3"/>
<text x="663" y="46.21" font-size="6.8" text-anchor="end" fill="#333" font-family='"Liberation Sans", sans-serif'>22 mmHg</text>
<line x1="618" y1="52.48" x2="627.5" y2="52.48" stroke="#30a030" stroke-width="1.3"/>
<text x="663" y="54.88" font-size="6.8" text-anchor="end" fill="#333" font-family='"Liberation Sans", sans-serif'>16 mmHg</text>
<line x1="618" y1="61.15" x2="627.5" y2="61.15" stroke="#222288" stroke-width="1.3"/>
<text x="663" y="63.55" font-size="6.8" text-anchor="end" fill="#333" font-family='"Liberation Sans", sans-serif'>10 mmHg</text>
<line x1="618" y1="69.82" x2="627.5" y2="69.82" stroke="#a040ff" stroke-width="1.3"/>
<text x="663" y="72.22" font-size="6.8" text-anchor="end" fill="#333" font-family='"Liberation Sans", sans-serif'>4 mmHg</text>
<text x="6" y="245.5" font-size="22" text-anchor="start" fill="#000" font-weight="bold" font-family='"Liberation Serif", serif'>c</text>
<polyline points="39.3,405.4 43.16,405.4 43.16,394.17 47.02,394.17 47.02,382.94 50.89,382.94 50.89,371.71 54.75,371.71 54.75,360.48 58.61,360.48 58.61,349.25 62.47,349.25 62.47,338.02 66.33,338.02 66.33,326.79 70.2,326.79 70.2,315.56 74.06,315.56 74.06,304.33 77.92,304.33 77.92,293.1 81.78,293.1 81.78,281.87 85.64,281.87 85.64,270.64 89.51,270.64 89.51,259.41 93.37,259.41 93.37,270.64 97.23,270.64 97.23,281.87 101.09,281.87 101.09,293.1 104.95,293.1 104.95,304.33 108.82,304.33 108.82,315.56 112.68,315.56 112.68,326.79 116.54,326.79 116.54,338.02 120.4,338.02 120.4,349.25 124.26,349.25 124.26,360.48 128.13,360.48 128.13,371.71 131.99,371.71 131.99,382.94 135.85,382.94 135.85,394.17 139.71,394.17 139.71,405.4 147.44,405.4 147.44,394.17 151.3,394.17 151.3,382.94 155.16,382.94 155.16,371.71 159.02,371.71 159.02,360.48 162.88,360.48 162.88,349.25 166.75,349.25 166.75,338.02 170.61,338.02 170.61,326.79 174.47,326.79 174.47,315.56 178.33,315.56 178.33,304.33 182.19,304.33 182.19,293.1 186.06,293.1 186.06,281.87 189.92,281.87 189.92,270.64 193.78,270.64 193.78,259.41 197.64,259.41 197.64,270.64 201.5,270.64 201.5,281.87 205.37,281.87 205.37,293.1 209.23,293.1 209.23,304.33 213.09,304.33 213.09,315.56 216.95,315.56 216.95,326.79 220.81,326.79 220.81,338.02 224.68,338.02 224.68,349.25 228.54,349.25 228.54,360.48 232.4,360.48 232.4,371.71 236.26,371.71 236.26,382.94 240.12,382.94 240.12,394.17 243.99,394.17 243.99,405.4 251.71,405.4 251.71,394.17 255.57,394.17 255.57,382.94 259.43,382.94 259.43,371.71 263.3,371.71 263.3,360.48 267.16,360.48 267.16,349.25 271.02,349.25 271.02,338.02 274.88,338.02 274.88,326.79 278.74,326.79 278.74,315.56 282.61,315.56 282.61,304.33 286.47,304.33 286.47,293.1 290.33,293.1 290.33,281.87 294.19,281.87 294.19,270.64 298.05,270.64 298.05,259.41 301.92,259.41 301.92,270.64 305.78,270.64 305.78,281.87 309.64,281.87 309.64,293.1 313.5,293.1 313.5,304.33 317.36,304.33 317.36,315.56 321.23,315.56 321.23,326.79 325.09,326.79 325.09,338.02 328.95,338.02 328.95,349.25 332.81,349.25 332.81,360.48 336.67,360.48 336.67,371.71 340.54,371.71 340.54,382.94 344.4,382.94 344.4,394.17 348.26,394.17 348.26,405.4 352.12,405.4" fill="none" stroke="#2020ff" stroke-width="1.1" stroke-linejoin="round" stroke-linejoin="miter"/>
<polyline points="39.3,417.5 43.16,417.5 43.16,407.19 47.02,407.19 47.02,396.88 50.89,396.88 50.89,386.57 54.75,386.57 54.75,376.26 58.61,376.26 58.61,365.95 62.47,365.95 62.47,355.64 66.33,355.64 66.33,345.33 70.2,345.33 70.2,335.02 74.06,335.02 74.06,324.71 77.92,324.71 77.92,314.4 81.78,314.4 81.78,304.09 85.64,304.09 85.64,293.78 89.51,293.78 89.51,283.47 93.37,283.47 93.37,293.78 97.23,293.78 97.23,304.09 101.09,304.09 101.09,314.4 104.95,314.4 104.95,324.71 108.82,324.71 108.82,335.02 112.68,335.02 112.68,345.33 116.54,345.33 116.54,355.64 120.4,355.64 120.4,365.95 124.26,365.95 124.26,376.26 128.13,376.26 128.13,386.57 131.99,386.57 131.99,396.88 135.85,396.88 135.85,407.19 139.71,407.19 139.71,417.5 147.44,417.5 147.44,407.19 151.3,407.19 151.3,396.88 155.16,396.88 155.16,386.57 159.02,386.57 159.02,376.26 162.88,376.26 162.88,365.95 166.75,365.95 166.75,355.64 170.61,355.64 170.61,345.33 174.47,345.33 174.47,335.02 178.33,335.02 178.33,324.71 182.19,324.71 182.19,314.4 186.06,314.4 186.06,304.09 189.92,304.09 189.92,293.78 193.78,293.78 193.78,283.47 197.64,283.47 197.64,293.78 201.5,293.78 201.5,304.09 205.37,304.09 205.37,314.4 209.23,314.4 209.23,324.71 213.09,324.71 213.09,335.02 216.95,335.02 216.95,345.33 220.81,345.33 220.81,355.64 224.68,355.64 224.68,365.95 228.54,365.95 228.54,376.26 232.4,376.26 232.4,386.57 236.26,386.57 236.26,396.88 240.12,396.88 240.12,407.19 243.99,407.19 243.99,417.5 251.71,417.5 251.71,407.19 255.57,407.19 255.57,396.88 259.43,396.88 259.43,386.57 263.3,386.57 263.3,376.26 267.16,376.26 267.16,365.95 271.02,365.95 271.02,355.64 274.88,355.64 274.88,345.33 278.74,345.33 278.74,335.02 282.61,335.02 282.61,324.71 286.47,324.71 286.47,314.4 290.33,314.4 290.33,304.09 294.19,304.09 294.19,293.78 298.05,293.78 298.05,283.47 301.92,283.47 301.92,293.78 305.78,293.78 305.78,304.09 309.64,304.09 309.64,314.4 313.5,314.4 313.5,324.71 317.36,324.71 317.36,335.02 321.23,335.02 321.23,345.33 325.09,345.33 325.09,355.64 328.95,355.64 328.95,365.95 332.81,365.95 332.81,376.26 336.67,376.26 336.67,386.57 340.54,386.57 340.54,396.88 344.4,396.88 344.4,407.19 348.26,407.19 348.26,417.5 352.12,417.5" fill="none" stroke="#ee2020" stroke-width="1.1" stroke-linejoin="round" stroke-linejoin="miter"/>
<line x1="36.8" y1="248" x2="360.3" y2="248" stroke="#333" stroke-width="1.1"/>
<line x1="36.8" y1="421.5" x2="360.3" y2="421.5" stroke="#333" stroke-width="1.1"/>
<line x1="36.8" y1="247.5" x2="36.8" y2="422" stroke="#2020ff" stroke-width="1.2"/>
<line x1="360.3" y1="247.5" x2="360.3" y2="422" stroke="#ee2020" stroke-width="1.2"/>
<line x1="40" y1="421.5" x2="40" y2="418.9" stroke="#333" stroke-width="1"/>
<line x1="40" y1="248" x2="40" y2="250.6" stroke="#333" stroke-width="1"/>
<text x="40" y="432.2" font-size="9.3" text-anchor="middle" fill="#222" font-family='"Liberation Sans", sans-serif'>0</text>
<line x1="99.26" y1="421.5" x2="99.26" y2="418.9" stroke="#333" stroke-width="1"/>
<line x1="99.26" y1="248" x2="99.26" y2="250.6" stroke="#333" stroke-width="1"/>
<text x="99.26" y="432.2" font-size="9.3" text-anchor="middle" fill="#222" font-family='"Liberation Sans", sans-serif'>2000</text>
<line x1="158.52" y1="421.5" x2="158.52" y2="418.9" stroke="#333" stroke-width="1"/>
<line x1="158.52" y1="248" x2="158.52" y2="250.6" stroke="#333" stroke-width="1"/>
<text x="158.52" y="432.2" font-size="9.3" text-anchor="middle" fill="#222" font-family='"Liberation Sans", sans-serif'>4000</text>
<line x1="217.78" y1="421.5" x2="217.78" y2="418.9" stroke="#333" stroke-width="1"/>
<line x1="217.78" y1="248" x2="217.78" y2="250.6" stroke="#333" stroke-width="1"/>
<text x="217.78" y="432.2" font-size="9.3" text-anchor="middle" fill="#222" font-family='"Liberation Sans", sans-serif'>6000</text>
<line x1="277.04" y1="421.5" x2="277.04" y2="418.9" stroke="#333" stroke-width="1"/>
<line x1="277.04" y1="248" x2="277.04" y2="250.6" stroke="#333" stroke-width="1"/>
<text x="277.04" y="432.2" font-size="9.3" text-anchor="middle" fill="#222" font-family='"Liberation Sans", sans-serif'>8000</text>
<line x1="336.3" y1="421.5" x2="336.3" y2="418.9" stroke="#333" stroke-width="1"/>
<line x1="336.3" y1="248" x2="336.3" y2="250.6" stroke="#333" stroke-width="1"/>
<text x="336.3" y="432.2" font-size="9.3" text-anchor="middle" fill="#222" font-family='"Liberation Sans", sans-serif'>10000</text>
<line x1="36.8" y1="421.5" x2="39.4" y2="421.5" stroke="#2020ff" stroke-width="1"/>
<text x="33.3" y="425.05" font-size="9.9" text-anchor="end" fill="#2020ff" font-family='"Liberation Sans", sans-serif'>0</text>
<line x1="36.8" y1="400.66" x2="39.4" y2="400.66" stroke="#2020ff" stroke-width="1"/>
<text x="33.3" y="404.21" font-size="9.9" text-anchor="end" fill="#2020ff" font-family='"Liberation Sans", sans-serif'>6</text>
<line x1="36.8" y1="379.82" x2="39.4" y2="379.82" stroke="#2020ff" stroke-width="1"/>
<text x="33.3" y="383.37" font-size="9.9" text-anchor="end" fill="#2020ff" font-family='"Liberation Sans", sans-serif'>12</text>
<line x1="36.8" y1="358.98" x2="39.4" y2="358.98" stroke="#2020ff" stroke-width="1"/>
<text x="33.3" y="362.53" font-size="9.9" text-anchor="end" fill="#2020ff" font-family='"Liberation Sans", sans-serif'>18</text>
<line x1="36.8" y1="338.14" x2="39.4" y2="338.14" stroke="#2020ff" stroke-width="1"/>
<text x="33.3" y="341.69" font-size="9.9" text-anchor="end" fill="#2020ff" font-family='"Liberation Sans", sans-serif'>24</text>
<line x1="36.8" y1="317.3" x2="39.4" y2="317.3" stroke="#2020ff" stroke-width="1"/>
<text x="33.3" y="320.85" font-size="9.9" text-anchor="end" fill="#2020ff" font-family='"Liberation Sans", sans-serif'>30</text>
<line x1="36.8" y1="296.46" x2="39.4" y2="296.46" stroke="#2020ff" stroke-width="1"/>
<text x="33.3" y="300.01" font-size="9.9" text-anchor="end" fill="#2020ff" font-family='"Liberation Sans", sans-serif'>36</text>
<line x1="36.8" y1="275.62" x2="39.4" y2="275.62" stroke="#2020ff" stroke-width="1"/>
<text x="33.3" y="279.17" font-size="9.9" text-anchor="end" fill="#2020ff" font-family='"Liberation Sans", sans-serif'>42</text>
<line x1="36.8" y1="254.78" x2="39.4" y2="254.78" stroke="#2020ff" stroke-width="1"/>
<text x="33.3" y="258.33" font-size="9.9" text-anchor="end" fill="#2020ff" font-family='"Liberation Sans", sans-serif'>48</text>
<line x1="360.3" y1="271" x2="357.7" y2="271" stroke="#ee2020" stroke-width="1"/>
<text x="363.3" y="274.4" font-size="9.5" text-anchor="start" fill="#ee2020" font-family='"Liberation Sans", sans-serif'>392</text>
<line x1="360.3" y1="297.22" x2="357.7" y2="297.22" stroke="#ee2020" stroke-width="1"/>
<text x="363.3" y="300.62" font-size="9.5" text-anchor="start" fill="#ee2020" font-family='"Liberation Sans", sans-serif'>400</text>
<line x1="360.3" y1="323.44" x2="357.7" y2="323.44" stroke="#ee2020" stroke-width="1"/>
<text x="363.3" y="326.84" font-size="9.5" text-anchor="start" fill="#ee2020" font-family='"Liberation Sans", sans-serif'>408</text>
<line x1="360.3" y1="349.66" x2="357.7" y2="349.66" stroke="#ee2020" stroke-width="1"/>
<text x="363.3" y="353.06" font-size="9.5" text-anchor="start" fill="#ee2020" font-family='"Liberation Sans", sans-serif'>416</text>
<line x1="360.3" y1="375.88" x2="357.7" y2="375.88" stroke="#ee2020" stroke-width="1"/>
<text x="363.3" y="379.28" font-size="9.5" text-anchor="start" fill="#ee2020" font-family='"Liberation Sans", sans-serif'>424</text>
<line x1="360.3" y1="402.1" x2="357.7" y2="402.1" stroke="#ee2020" stroke-width="1"/>
<text x="363.3" y="405.5" font-size="9.5" text-anchor="start" fill="#ee2020" font-family='"Liberation Sans", sans-serif'>432</text>
<text x="196.7" y="450.4" font-size="13.4" text-anchor="middle" fill="#111" font-family='"Liberation Sans", sans-serif'>Time (s)</text>
<text x="16.2" y="331" font-size="13.6" text-anchor="middle" fill="#2020ff" transform="rotate(-90 16.2 331)" font-family='"Liberation Sans", sans-serif'>IOP (mmHg)</text>
<text x="393.8" y="340" font-size="13.7" text-anchor="middle" fill="#ee2020" transform="rotate(-90 393.8 340)" font-family='"Liberation Sans", sans-serif'>Resonant frequency (MHz)</text>
<text x="6" y="465" font-size="22" text-anchor="start" fill="#000" font-weight="bold" font-family='"Liberation Serif", serif'>d</text>
<polyline points="38.2,633.3 41.16,633.3 41.16,625.29 44.13,625.29 44.13,617.28 47.09,617.28 47.09,609.27 50.06,609.27 50.06,601.26 53.02,601.26 53.02,593.25 55.98,593.25 55.98,585.24 58.95,585.24 58.95,577.23 61.91,577.23 61.91,569.22 64.88,569.22 64.88,561.21 67.84,561.21 67.84,553.2 70.8,553.2 70.8,545.19 73.77,545.19 73.77,537.18 76.73,537.18 76.73,529.17 79.7,529.17 79.7,521.16 82.66,521.16 82.66,513.15 85.62,513.15 85.62,505.14 88.59,505.14 88.59,497.13 94.52,497.13 94.52,505.14 97.48,505.14 97.48,513.15 100.44,513.15 100.44,521.16 103.41,521.16 103.41,529.17 106.37,529.17 106.37,537.18 109.34,537.18 109.34,545.19 112.3,545.19 112.3,553.2 115.26,553.2 115.26,561.21 118.23,561.21 118.23,569.22 121.19,569.22 121.19,577.23 124.16,577.23 124.16,585.24 127.12,585.24 127.12,593.25 130.08,593.25 130.08,601.26 133.05,601.26 133.05,609.27 136.01,609.27 136.01,617.28 138.98,617.28 138.98,625.29 141.94,625.29 141.94,633.3 147.87,633.3 147.87,625.29 150.83,625.29 150.83,617.28 153.8,617.28 153.8,609.27 156.76,609.27 156.76,601.26 159.72,601.26 159.72,593.25 162.69,593.25 162.69,585.24 165.65,585.24 165.65,577.23 168.62,577.23 168.62,569.22 171.58,569.22 171.58,561.21 174.54,561.21 174.54,553.2 177.51,553.2 177.51,545.19 180.47,545.19 180.47,537.18 183.44,537.18 183.44,529.17 186.4,529.17 186.4,521.16 189.36,521.16 189.36,513.15 192.33,513.15 192.33,505.14 195.29,505.14 195.29,497.13 201.22,497.13 201.22,505.14 204.18,505.14 204.18,513.15 207.15,513.15 207.15,521.16 210.11,521.16 210.11,529.17 213.08,529.17 213.08,537.18 216.04,537.18 216.04,545.19 219,545.19 219,553.2 221.97,553.2 221.97,561.21 224.93,561.21 224.93,569.22 227.9,569.22 227.9,577.23 230.86,577.23 230.86,585.24 233.82,585.24 233.82,593.25 236.79,593.25 236.79,601.26 239.75,601.26 239.75,609.27 242.72,609.27 242.72,617.28 245.68,617.28 245.68,625.29 248.64,625.29 248.64,633.3 254.57,633.3 254.57,625.29 257.54,625.29 257.54,617.28 260.5,617.28 260.5,609.27 263.46,609.27 263.46,601.26 266.43,601.26 266.43,593.25 269.39,593.25 269.39,585.24 272.36,585.24 272.36,577.23 275.32,577.23 275.32,569.22 278.28,569.22 278.28,561.21 281.25,561.21 281.25,553.2 284.21,553.2 284.21,545.19 287.18,545.19 287.18,537.18 290.14,537.18 290.14,529.17 293.1,529.17 293.1,521.16 296.07,521.16 296.07,513.15 299.03,513.15 299.03,505.14 302,505.14 302,497.13 307.92,497.13 307.92,505.14 310.89,505.14 310.89,513.15 313.85,513.15 313.85,521.16 316.82,521.16 316.82,529.17 319.78,529.17 319.78,537.18 322.74,537.18 322.74,545.19 325.71,545.19 325.71,553.2 328.67,553.2 328.67,561.21 331.64,561.21 331.64,569.22 334.6,569.22 334.6,577.23 337.56,577.23 337.56,585.24 340.53,585.24 340.53,593.25 343.49,593.25 343.49,601.26 346.46,601.26 346.46,609.27 349.42,609.27 349.42,617.28 352.38,617.28 352.38,625.29 355.35,625.29 355.35,633.3 358.31,633.3" fill="none" stroke="#2020ff" stroke-width="1.1" stroke-linejoin="round" stroke-linejoin="miter"/>
<polyline points="38.2,645.4 41.16,645.4 41.16,637.55 44.13,637.55 44.13,629.7 47.09,629.7 47.09,621.85 50.06,621.85 50.06,614 53.02,614 53.02,606.15 55.98,606.15 55.98,598.3 58.95,598.3 58.95,590.45 61.91,590.45 61.91,582.6 64.88,582.6 64.88,574.75 67.84,574.75 67.84,566.9 70.8,566.9 70.8,559.05 73.77,559.05 73.77,551.2 76.73,551.2 76.73,543.35 79.7,543.35 79.7,535.5 82.66,535.5 82.66,527.65 85.62,527.65 85.62,519.8 88.59,519.8 88.59,511.95 94.52,511.95 94.52,519.8 97.48,519.8 97.48,527.65 100.44,527.65 100.44,535.5 103.41,535.5 103.41,543.35 106.37,543.35 106.37,551.2 109.34,551.2 109.34,559.05 112.3,559.05 112.3,566.9 115.26,566.9 115.26,574.75 118.23,574.75 118.23,582.6 121.19,582.6 121.19,590.45 124.16,590.45 124.16,598.3 127.12,598.3 127.12,606.15 130.08,606.15 130.08,614 133.05,614 133.05,621.85 136.01,621.85 136.01,629.7 138.98,629.7 138.98,637.55 141.94,637.55 141.94,645.4 147.87,645.4 147.87,637.55 150.83,637.55 150.83,629.7 153.8,629.7 153.8,621.85 156.76,621.85 156.76,614 159.72,614 159.72,606.15 162.69,606.15 162.69,598.3 165.65,598.3 165.65,590.45 168.62,590.45 168.62,582.6 171.58,582.6 171.58,574.75 174.54,574.75 174.54,566.9 177.51,566.9 177.51,559.05 180.47,559.05 180.47,551.2 183.44,551.2 183.44,543.35 186.4,543.35 186.4,535.5 189.36,535.5 189.36,527.65 192.33,527.65 192.33,519.8 195.29,519.8 195.29,511.95 201.22,511.95 201.22,519.8 204.18,519.8 204.18,527.65 207.15,527.65 207.15,535.5 210.11,535.5 210.11,543.35 213.08,543.35 213.08,551.2 216.04,551.2 216.04,559.05 219,559.05 219,566.9 221.97,566.9 221.97,574.75 224.93,574.75 224.93,582.6 227.9,582.6 227.9,590.45 230.86,590.45 230.86,598.3 233.82,598.3 233.82,606.15 236.79,606.15 236.79,614 239.75,614 239.75,621.85 242.72,621.85 242.72,629.7 245.68,629.7 245.68,637.55 248.64,637.55 248.64,645.4 254.57,645.4 254.57,637.55 257.54,637.55 257.54,629.7 260.5,629.7 260.5,621.85 263.46,621.85 263.46,614 266.43,614 266.43,606.15 269.39,606.15 269.39,598.3 272.36,598.3 272.36,590.45 275.32,590.45 275.32,582.6 278.28,582.6 278.28,574.75 281.25,574.75 281.25,566.9 284.21,566.9 284.21,559.05 287.18,559.05 287.18,551.2 290.14,551.2 290.14,543.35 293.1,543.35 293.1,535.5 296.07,535.5 296.07,527.65 299.03,527.65 299.03,519.8 302,519.8 302,511.95 307.92,511.95 307.92,519.8 310.89,519.8 310.89,527.65 313.85,527.65 313.85,535.5 316.82,535.5 316.82,543.35 319.78,543.35 319.78,551.2 322.74,551.2 322.74,559.05 325.71,559.05 325.71,566.9 328.67,566.9 328.67,574.75 331.64,574.75 331.64,582.6 334.6,582.6 334.6,590.45 337.56,590.45 337.56,598.3 340.53,598.3 340.53,606.15 343.49,606.15 343.49,614 346.46,614 346.46,621.85 349.42,621.85 349.42,629.7 352.38,629.7 352.38,637.55 355.35,637.55 355.35,645.4 358.31,645.4" fill="none" stroke="#ee2020" stroke-width="1.1" stroke-linejoin="round" stroke-linejoin="miter"/>
<line x1="35.9" y1="485.6" x2="363.2" y2="485.6" stroke="#333" stroke-width="1.1"/>
<line x1="35.9" y1="648.5" x2="363.2" y2="648.5" stroke="#333" stroke-width="1.1"/>
<line x1="35.9" y1="485.1" x2="35.9" y2="649" stroke="#2020ff" stroke-width="1.2"/>
<line x1="363.2" y1="485.1" x2="363.2" y2="649" stroke="#ee2020" stroke-width="1.2"/>
<line x1="38.2" y1="648.5" x2="38.2" y2="645.9" stroke="#333" stroke-width="1"/>
<line x1="38.2" y1="485.6" x2="38.2" y2="488.2" stroke="#333" stroke-width="1"/>
<text x="38.2" y="659.2" font-size="9.3" text-anchor="middle" fill="#222" font-family='"Liberation Sans", sans-serif'>0</text>
<line x1="94.78" y1="648.5" x2="94.78" y2="645.9" stroke="#333" stroke-width="1"/>
<line x1="94.78" y1="485.6" x2="94.78" y2="488.2" stroke="#333" stroke-width="1"/>
<text x="94.78" y="659.2" font-size="9.3" text-anchor="middle" fill="#222" font-family='"Liberation Sans", sans-serif'>2000</text>
<line x1="151.36" y1="648.5" x2="151.36" y2="645.9" stroke="#333" stroke-width="1"/>
<line x1="151.36" y1="485.6" x2="151.36" y2="488.2" stroke="#333" stroke-width="1"/>
<text x="151.36" y="659.2" font-size="9.3" text-anchor="middle" fill="#222" font-family='"Liberation Sans", sans-serif'>4000</text>
<line x1="207.94" y1="648.5" x2="207.94" y2="645.9" stroke="#333" stroke-width="1"/>
<line x1="207.94" y1="485.6" x2="207.94" y2="488.2" stroke="#333" stroke-width="1"/>
<text x="207.94" y="659.2" font-size="9.3" text-anchor="middle" fill="#222" font-family='"Liberation Sans", sans-serif'>6000</text>
<line x1="264.52" y1="648.5" x2="264.52" y2="645.9" stroke="#333" stroke-width="1"/>
<line x1="264.52" y1="485.6" x2="264.52" y2="488.2" stroke="#333" stroke-width="1"/>
<text x="264.52" y="659.2" font-size="9.3" text-anchor="middle" fill="#222" font-family='"Liberation Sans", sans-serif'>8000</text>
<line x1="321.1" y1="648.5" x2="321.1" y2="645.9" stroke="#333" stroke-width="1"/>
<line x1="321.1" y1="485.6" x2="321.1" y2="488.2" stroke="#333" stroke-width="1"/>
<text x="321.1" y="659.2" font-size="9.3" text-anchor="middle" fill="#222" font-family='"Liberation Sans", sans-serif'>10000</text>
<line x1="35.9" y1="648.5" x2="38.5" y2="648.5" stroke="#2020ff" stroke-width="1"/>
<text x="32.6" y="651.9" font-size="9.5" text-anchor="end" fill="#2020ff" font-family='"Liberation Sans", sans-serif'>0</text>
<line x1="35.9" y1="628.65" x2="38.5" y2="628.65" stroke="#2020ff" stroke-width="1"/>
<text x="32.6" y="632.05" font-size="9.5" text-anchor="end" fill="#2020ff" font-family='"Liberation Sans", sans-serif'>5</text>
<line x1="35.9" y1="608.8" x2="38.5" y2="608.8" stroke="#2020ff" stroke-width="1"/>
<text x="32.6" y="612.2" font-size="9.5" text-anchor="end" fill="#2020ff" font-family='"Liberation Sans", sans-serif'>10</text>
<line x1="35.9" y1="588.95" x2="38.5" y2="588.95" stroke="#2020ff" stroke-width="1"/>
<text x="32.6" y="592.35" font-size="9.5" text-anchor="end" fill="#2020ff" font-family='"Liberation Sans", sans-serif'>15</text>
<line x1="35.9" y1="569.1" x2="38.5" y2="569.1" stroke="#2020ff" stroke-width="1"/>
<text x="32.6" y="572.5" font-size="9.5" text-anchor="end" fill="#2020ff" font-family='"Liberation Sans", sans-serif'>20</text>
<line x1="35.9" y1="549.25" x2="38.5" y2="549.25" stroke="#2020ff" stroke-width="1"/>
<text x="32.6" y="552.65" font-size="9.5" text-anchor="end" fill="#2020ff" font-family='"Liberation Sans", sans-serif'>25</text>
<line x1="35.9" y1="529.4" x2="38.5" y2="529.4" stroke="#2020ff" stroke-width="1"/>
<text x="32.6" y="532.8" font-size="9.5" text-anchor="end" fill="#2020ff" font-family='"Liberation Sans", sans-serif'>30</text>
<line x1="35.9" y1="509.55" x2="38.5" y2="509.55" stroke="#2020ff" stroke-width="1"/>
<text x="32.6" y="512.95" font-size="9.5" text-anchor="end" fill="#2020ff" font-family='"Liberation Sans", sans-serif'>35</text>
<line x1="35.9" y1="489.7" x2="38.5" y2="489.7" stroke="#2020ff" stroke-width="1"/>
<text x="32.6" y="493.1" font-size="9.5" text-anchor="end" fill="#2020ff" font-family='"Liberation Sans", sans-serif'>40</text>
<line x1="363.2" y1="494.4" x2="360.6" y2="494.4" stroke="#ee2020" stroke-width="1"/>
<text x="366.3" y="497.8" font-size="9.5" text-anchor="start" fill="#ee2020" font-family='"Liberation Sans", sans-serif'>410</text>
<line x1="363.2" y1="521.1" x2="360.6" y2="521.1" stroke="#ee2020" stroke-width="1"/>
<text x="366.3" y="524.5" font-size="9.5" text-anchor="start" fill="#ee2020" font-family='"Liberation Sans", sans-serif'>415</text>
<line x1="363.2" y1="547.8" x2="360.6" y2="547.8" stroke="#ee2020" stroke-width="1"/>
<text x="366.3" y="551.2" font-size="9.5" text-anchor="start" fill="#ee2020" font-family='"Liberation Sans", sans-serif'>420</text>
<line x1="363.2" y1="574.5" x2="360.6" y2="574.5" stroke="#ee2020" stroke-width="1"/>
<text x="366.3" y="577.9" font-size="9.5" text-anchor="start" fill="#ee2020" font-family='"Liberation Sans", sans-serif'>425</text>
<line x1="363.2" y1="601.2" x2="360.6" y2="601.2" stroke="#ee2020" stroke-width="1"/>
<text x="366.3" y="604.6" font-size="9.5" text-anchor="start" fill="#ee2020" font-family='"Liberation Sans", sans-serif'>430</text>
<line x1="363.2" y1="627.9" x2="360.6" y2="627.9" stroke="#ee2020" stroke-width="1"/>
<text x="366.3" y="631.3" font-size="9.5" text-anchor="start" fill="#ee2020" font-family='"Liberation Sans", sans-serif'>435</text>
<text x="197.7" y="675.6" font-size="12.9" text-anchor="middle" fill="#111" font-family='"Liberation Sans", sans-serif'>Time (s)</text>
<text x="16.6" y="561.5" font-size="13.2" text-anchor="middle" fill="#2020ff" transform="rotate(-90 16.6 561.5)" font-family='"Liberation Sans", sans-serif'>IOP (mmHg)</text>
<text x="395.7" y="569.5" font-size="13.2" text-anchor="middle" fill="#ee2020" transform="rotate(-90 395.7 569.5)" font-family='"Liberation Sans", sans-serif'>Resonant frequency (MHz)</text>
<text x="413.3" y="245.3" font-size="22" text-anchor="start" fill="#000" font-weight="bold" font-family='"Liberation Serif", serif'>e</text>
<line x1="459.4" y1="249.7" x2="459.4" y2="419.6" stroke="#333" stroke-width="1.1"/>
<line x1="458.9" y1="419.1" x2="679.8" y2="419.1" stroke="#333" stroke-width="1.1"/>
<line x1="469.71" y1="419.1" x2="469.71" y2="416.7" stroke="#333" stroke-width="1"/>
<text x="469.71" y="430.2" font-size="10.3" text-anchor="middle" fill="#333" font-family='"Liberation Sans", sans-serif'>5</text>
<line x1="494.52" y1="419.1" x2="494.52" y2="416.7" stroke="#333" stroke-width="1"/>
<text x="494.52" y="430.2" font-size="10.3" text-anchor="middle" fill="#333" font-family='"Liberation Sans", sans-serif'>10</text>
<line x1="519.33" y1="419.1" x2="519.33" y2="416.7" stroke="#333" stroke-width="1"/>
<text x="519.33" y="430.2" font-size="10.3" text-anchor="middle" fill="#333" font-family='"Liberation Sans", sans-serif'>15</text>
<line x1="544.14" y1="419.1" x2="544.14" y2="416.7" stroke="#333" stroke-width="1"/>
<text x="544.14" y="430.2" font-size="10.3" text-anchor="middle" fill="#333" font-family='"Liberation Sans", sans-serif'>20</text>
<line x1="568.95" y1="419.1" x2="568.95" y2="416.7" stroke="#333" stroke-width="1"/>
<text x="568.95" y="430.2" font-size="10.3" text-anchor="middle" fill="#333" font-family='"Liberation Sans", sans-serif'>25</text>
<line x1="593.76" y1="419.1" x2="593.76" y2="416.7" stroke="#333" stroke-width="1"/>
<text x="593.76" y="430.2" font-size="10.3" text-anchor="middle" fill="#333" font-family='"Liberation Sans", sans-serif'>30</text>
<line x1="618.57" y1="419.1" x2="618.57" y2="416.7" stroke="#333" stroke-width="1"/>
<text x="618.57" y="430.2" font-size="10.3" text-anchor="middle" fill="#333" font-family='"Liberation Sans", sans-serif'>35</text>
<line x1="643.38" y1="419.1" x2="643.38" y2="416.7" stroke="#333" stroke-width="1"/>
<text x="643.38" y="430.2" font-size="10.3" text-anchor="middle" fill="#333" font-family='"Liberation Sans", sans-serif'>40</text>
<line x1="668.19" y1="419.1" x2="668.19" y2="416.7" stroke="#333" stroke-width="1"/>
<text x="668.19" y="430.2" font-size="10.3" text-anchor="middle" fill="#333" font-family='"Liberation Sans", sans-serif'>45</text>
<line x1="459.4" y1="390.4" x2="461.6" y2="390.4" stroke="#333" stroke-width="1"/>
<text x="457.2" y="394.1" font-size="10.3" text-anchor="end" fill="#333" font-family='"Liberation Sans", sans-serif'>400</text>
<line x1="459.4" y1="355.4" x2="461.6" y2="355.4" stroke="#333" stroke-width="1"/>
<text x="457.2" y="359.1" font-size="10.3" text-anchor="end" fill="#333" font-family='"Liberation Sans", sans-serif'>410</text>
<line x1="459.4" y1="320.4" x2="461.6" y2="320.4" stroke="#333" stroke-width="1"/>
<text x="457.2" y="324.1" font-size="10.3" text-anchor="end" fill="#333" font-family='"Liberation Sans", sans-serif'>420</text>
<line x1="459.4" y1="285.4" x2="461.6" y2="285.4" stroke="#333" stroke-width="1"/>
<text x="457.2" y="289.1" font-size="10.3" text-anchor="end" fill="#333" font-family='"Liberation Sans", sans-serif'>430</text>
<line x1="459.4" y1="250.4" x2="461.6" y2="250.4" stroke="#333" stroke-width="1"/>
<text x="457.2" y="254.1" font-size="10.3" text-anchor="end" fill="#333" font-family='"Liberation Sans", sans-serif'>440</text>
<text x="570.3" y="445.5" font-size="12.4" text-anchor="middle" fill="#333" font-family='"Liberation Sans", sans-serif'>IOP (mmHg)</text>
<text x="436.2" y="338.2" font-size="12.5" text-anchor="middle" fill="#333" transform="rotate(-90 436.2 338.2)" font-family='"Liberation Sans", sans-serif'>Resonant frequency (MHz)</text>
<line x1="467.5" y1="261.92" x2="679" y2="407.06" stroke="#333" stroke-width="0.9" stroke-dasharray="3,2"/>
<line x1="464" y1="255.99" x2="635" y2="344.64" stroke="#ff30ff" stroke-width="0.9" stroke-dasharray="3,2"/>
<circle cx="467.8" cy="262" r="1.55" fill="#d01c1c"/>
<circle cx="482.7" cy="272.1" r="1.55" fill="#d01c1c"/>
<circle cx="499.7" cy="284.1" r="1.55" fill="#d01c1c"/>
<circle cx="516.3" cy="295.4" r="1.55" fill="#d01c1c"/>
<circle cx="532.1" cy="306.3" r="1.55" fill="#d01c1c"/>
<circle cx="547.3" cy="316.8" r="1.55" fill="#d01c1c"/>
<circle cx="563.9" cy="328.4" r="1.55" fill="#d01c1c"/>
<circle cx="580.1" cy="339.3" r="1.55" fill="#d01c1c"/>
<circle cx="597" cy="350.8" r="1.55" fill="#d01c1c"/>
<circle cx="613.5" cy="362.1" r="1.55" fill="#d01c1c"/>
<circle cx="629" cy="372.5" r="1.55" fill="#d01c1c"/>
<circle cx="645.4" cy="384.3" r="1.55" fill="#d01c1c"/>
<circle cx="662.2" cy="395.5" r="1.55" fill="#d01c1c"/>
<circle cx="677.7" cy="405.9" r="1.55" fill="#d01c1c"/>
<circle cx="464.1" cy="256" r="1.55" fill="#2222ff"/>
<circle cx="473" cy="261.1" r="1.55" fill="#2222ff"/>
<circle cx="483.9" cy="266.2" r="1.55" fill="#2222ff"/>
<circle cx="494.4" cy="271.8" r="1.55" fill="#2222ff"/>
<circle cx="504.4" cy="276.7" r="1.55" fill="#2222ff"/>
<circle cx="514" cy="282" r="1.55" fill="#2222ff"/>
<circle cx="524.5" cy="287.2" r="1.55" fill="#2222ff"/>
<circle cx="534.3" cy="292.5" r="1.55" fill="#2222ff"/>
<circle cx="544.8" cy="297.5" r="1.55" fill="#2222ff"/>
<circle cx="555.2" cy="303.3" r="1.55" fill="#2222ff"/>
<circle cx="564.6" cy="308.2" r="1.55" fill="#2222ff"/>
<circle cx="574.6" cy="313.2" r="1.55" fill="#2222ff"/>
<circle cx="584.3" cy="318.3" r="1.55" fill="#2222ff"/>
<circle cx="594.3" cy="323.8" r="1.55" fill="#2222ff"/>
<circle cx="604.3" cy="328.7" r="1.55" fill="#2222ff"/>
<circle cx="614.2" cy="334" r="1.55" fill="#2222ff"/>
<circle cx="624.2" cy="338.9" r="1.55" fill="#2222ff"/>
<circle cx="633.9" cy="344.2" r="1.55" fill="#2222ff"/>
<text x="540.9" y="281.9" font-size="10" text-anchor="start" fill="#3333ee" font-family='"Liberation Sans", sans-serif'>0.7326 MHz mmHg</text>
<text x="629.8" y="277.4" font-size="6.6" text-anchor="start" fill="#3333ee" font-family='"Liberation Sans", sans-serif'>-1</text>
<text x="470.9" y="344.9" font-size="10" text-anchor="start" fill="#d23a3a" font-family='"Liberation Sans", sans-serif'>0.9722 MHz mmHg</text>
<text x="559.8" y="340.4" font-size="6.6" text-anchor="start" fill="#d23a3a" font-family='"Liberation Sans", sans-serif'>-1</text>
<line x1="477.1" y1="385.4" x2="497" y2="385.4" stroke="#444" stroke-width="1" stroke-dasharray="4.6,2.8"/>
<circle cx="486.8" cy="385.4" r="1.2" fill="#dd2222"/>
<line x1="477.1" y1="400.3" x2="497" y2="400.3" stroke="#ff30ff" stroke-width="1.2" stroke-dasharray="4.6,2.8"/>
<circle cx="486.8" cy="400.3" r="1.2" fill="#2222ff"/>
<text x="505.4" y="388.2" font-size="7.9" text-anchor="start" fill="#d23a3a" font-family='"Liberation Sans", sans-serif'>On artificial eye 1</text>
<text x="505.4" y="403.2" font-size="7.9" text-anchor="start" fill="#3333ee" font-family='"Liberation Sans", sans-serif'>On artifical eye 2</text>
<text x="417" y="454.4" font-size="22" text-anchor="start" fill="#000" font-weight="bold" font-family='"Liberation Serif", serif'>f</text>
<defs><pattern id="fhr" patternUnits="userSpaceOnUse" width="2.7" height="2.7" patternTransform="rotate(-45)">
<rect width="2.7" height="2.7" fill="#fa1e0c"/><rect width="0.9" height="2.7" fill="#b01a08"/></pattern>
<pattern id="fhb" patternUnits="userSpaceOnUse" width="6" height="6" patternTransform="rotate(45)">
<rect width="6" height="6" fill="#1206ff"/><rect width="0.8" height="6" fill="#2a18c8"/></pattern></defs>
<rect x="482.8" y="551.42" width="22.9" height="112.58" fill="#000"/>
<rect x="505.4" y="560.74" width="22.9" height="103.26" fill="url(#fhr)"/>
<rect x="528.3" y="534.88" width="22.9" height="129.12" fill="url(#fhb)"/>
<rect x="591.3" y="507.71" width="22.9" height="156.29" fill="#000"/>
<rect x="614" y="518.04" width="22.9" height="145.96" fill="url(#fhr)"/>
<rect x="637" y="492.8" width="22.9" height="171.2" fill="url(#fhb)"/>
<line x1="459.6" y1="469.5" x2="459.6" y2="664.5" stroke="#333" stroke-width="1.1"/>
<line x1="459.1" y1="664" x2="683.5" y2="664" stroke="#333" stroke-width="1.1"/>
<line x1="459.6" y1="664" x2="462" y2="664" stroke="#333" stroke-width="1"/>
<text x="457.2" y="667.2" font-size="9" text-anchor="end" fill="#333" font-family='"Liberation Sans", sans-serif'>0</text>
<line x1="459.6" y1="625.18" x2="462" y2="625.18" stroke="#333" stroke-width="1"/>
<text x="457.2" y="628.38" font-size="9" text-anchor="end" fill="#333" font-family='"Liberation Sans", sans-serif'>500</text>
<line x1="459.6" y1="586.36" x2="462" y2="586.36" stroke="#333" stroke-width="1"/>
<text x="457.2" y="589.56" font-size="9" text-anchor="end" fill="#333" font-family='"Liberation Sans", sans-serif'>1000</text>
<line x1="459.6" y1="547.54" x2="462" y2="547.54" stroke="#333" stroke-width="1"/>
<text x="457.2" y="550.74" font-size="9" text-anchor="end" fill="#333" font-family='"Liberation Sans", sans-serif'>1500</text>
<line x1="459.6" y1="508.72" x2="462" y2="508.72" stroke="#333" stroke-width="1"/>
<text x="457.2" y="511.92" font-size="9" text-anchor="end" fill="#333" font-family='"Liberation Sans", sans-serif'>2000</text>
<line x1="459.6" y1="469.9" x2="462" y2="469.9" stroke="#333" stroke-width="1"/>
<text x="457.2" y="473.1" font-size="9" text-anchor="end" fill="#333" font-family='"Liberation Sans", sans-serif'>2500</text>
<text x="516" y="675.3" font-size="9" text-anchor="middle" fill="#333" font-family='"Liberation Sans", sans-serif'>0.49</text>
<text x="624.4" y="675.3" font-size="9" text-anchor="middle" fill="#333" font-family='"Liberation Sans", sans-serif'>0.34</text>
<text x="561.2" y="688.6" font-size="9.9" text-anchor="middle" fill="#222" font-family='"Liberation Sans", sans-serif'>Elastic modulus of artificial eyeballs (MPa)</text>
<text x="432.6" y="573.1" font-size="9.9" text-anchor="middle" fill="#222" transform="rotate(-90 432.6 573.1)" font-family='"Liberation Sans", sans-serif'>Sensitivity (ppm/mmHg)</text>
<rect x="474.1" y="475.6" width="21.3" height="7.4" fill="#000"/>
<text x="502.1" y="482.7" font-size="9.6" text-anchor="start" fill="#222" font-family='"Liberation Sans", sans-serif'>Analytical</text>
<rect x="474.1" y="489.9" width="21.3" height="7.4" fill="url(#fhr)"/>
<text x="502.1" y="497" font-size="9.6" text-anchor="start" fill="#222" font-family='"Liberation Sans", sans-serif'>FEM</text>
<rect x="474.1" y="504.2" width="21.3" height="7.4" fill="url(#fhb)"/>
<text x="502.1" y="511.3" font-size="9.6" text-anchor="start" fill="#222" font-family='"Liberation Sans", sans-serif'>Experiment</text>
<text x="5.5" y="701.5" font-size="22" text-anchor="start" fill="#000" font-weight="bold" font-family='"Liberation Serif", serif'>g</text>
<rect x="45.3" y="709.8" width="285.9" height="225.6" fill="none" stroke="#222" stroke-width="1.3"/>
<line x1="45.3" y1="909.8" x2="48.3" y2="909.8" stroke="#222" stroke-width="1.1"/>
<text x="41.8" y="913.9" font-size="11.5" text-anchor="end" fill="#222" font-family='"Liberation Sans", sans-serif'>0.0</text>
<line x1="45.3" y1="848.6" x2="48.3" y2="848.6" stroke="#222" stroke-width="1.1"/>
<text x="41.8" y="852.7" font-size="11.5" text-anchor="end" fill="#222" font-family='"Liberation Sans", sans-serif'>0.1</text>
<line x1="45.3" y1="787.4" x2="48.3" y2="787.4" stroke="#222" stroke-width="1.1"/>
<text x="41.8" y="791.5" font-size="11.5" text-anchor="end" fill="#222" font-family='"Liberation Sans", sans-serif'>0.2</text>
<line x1="45.3" y1="726.2" x2="48.3" y2="726.2" stroke="#222" stroke-width="1.1"/>
<text x="41.8" y="730.3" font-size="11.5" text-anchor="end" fill="#222" font-family='"Liberation Sans", sans-serif'>0.3</text>
<line x1="74.11" y1="935.4" x2="74.11" y2="932.4" stroke="#222" stroke-width="1.1"/>
<text x="74.11" y="948" font-size="10.6" text-anchor="middle" fill="#222" font-family='"Liberation Sans", sans-serif'>4</text>
<line x1="131.13" y1="935.4" x2="131.13" y2="932.4" stroke="#222" stroke-width="1.1"/>
<text x="131.13" y="948" font-size="10.6" text-anchor="middle" fill="#222" font-family='"Liberation Sans", sans-serif'>6</text>
<line x1="188.15" y1="935.4" x2="188.15" y2="932.4" stroke="#222" stroke-width="1.1"/>
<text x="188.15" y="948" font-size="10.6" text-anchor="middle" fill="#222" font-family='"Liberation Sans", sans-serif'>8</text>
<line x1="245.17" y1="935.4" x2="245.17" y2="932.4" stroke="#222" stroke-width="1.1"/>
<text x="245.17" y="948" font-size="10.6" text-anchor="middle" fill="#222" font-family='"Liberation Sans", sans-serif'>10</text>
<line x1="302.19" y1="935.4" x2="302.19" y2="932.4" stroke="#222" stroke-width="1.1"/>
<text x="302.19" y="948" font-size="10.6" text-anchor="middle" fill="#222" font-family='"Liberation Sans", sans-serif'>12</text>
<text x="187.9" y="959.7" font-size="12.8" text-anchor="middle" fill="#111" font-family='"Liberation Sans", sans-serif'>Distance (mm)</text>
<text x="21.9" y="843.5" font-size="12.9" text-anchor="middle" fill="#111" transform="rotate(-90 21.9 843.5)" font-family='"Liberation Sans", sans-serif'>Frequency shift (MHz)</text>
<line x1="74.11" y1="909.8" x2="302.19" y2="909.8" stroke="#333" stroke-width="1.1"/>
<line x1="74.11" y1="901.5" x2="74.11" y2="918.1" stroke="#222" stroke-width="0.9"/>
<line x1="71.21" y1="901.5" x2="77.01" y2="901.5" stroke="#222" stroke-width="0.9"/>
<line x1="71.21" y1="918.1" x2="77.01" y2="918.1" stroke="#222" stroke-width="0.9"/>
<rect x="72.71" y="908.4" width="2.8" height="2.8" fill="#111"/>
<line x1="102.62" y1="901.5" x2="102.62" y2="918.1" stroke="#222" stroke-width="0.9"/>
<line x1="99.72" y1="901.5" x2="105.52" y2="901.5" stroke="#222" stroke-width="0.9"/>
<line x1="99.72" y1="918.1" x2="105.52" y2="918.1" stroke="#222" stroke-width="0.9"/>
<rect x="101.22" y="908.4" width="2.8" height="2.8" fill="#111"/>
<line x1="131.13" y1="901.5" x2="131.13" y2="918.1" stroke="#222" stroke-width="0.9"/>
<line x1="128.23" y1="901.5" x2="134.03" y2="901.5" stroke="#222" stroke-width="0.9"/>
<line x1="128.23" y1="918.1" x2="134.03" y2="918.1" stroke="#222" stroke-width="0.9"/>
<rect x="129.73" y="908.4" width="2.8" height="2.8" fill="#111"/>
<line x1="159.64" y1="901.5" x2="159.64" y2="918.1" stroke="#222" stroke-width="0.9"/>
<line x1="156.74" y1="901.5" x2="162.54" y2="901.5" stroke="#222" stroke-width="0.9"/>
<line x1="156.74" y1="918.1" x2="162.54" y2="918.1" stroke="#222" stroke-width="0.9"/>
<rect x="158.24" y="908.4" width="2.8" height="2.8" fill="#111"/>
<line x1="188.15" y1="901.5" x2="188.15" y2="918.1" stroke="#222" stroke-width="0.9"/>
<line x1="185.25" y1="901.5" x2="191.05" y2="901.5" stroke="#222" stroke-width="0.9"/>
<line x1="185.25" y1="918.1" x2="191.05" y2="918.1" stroke="#222" stroke-width="0.9"/>
<rect x="186.75" y="908.4" width="2.8" height="2.8" fill="#111"/>
<line x1="216.66" y1="901.5" x2="216.66" y2="918.1" stroke="#222" stroke-width="0.9"/>
<line x1="213.76" y1="901.5" x2="219.56" y2="901.5" stroke="#222" stroke-width="0.9"/>
<line x1="213.76" y1="918.1" x2="219.56" y2="918.1" stroke="#222" stroke-width="0.9"/>
<rect x="215.26" y="908.4" width="2.8" height="2.8" fill="#111"/>
<line x1="245.17" y1="901.5" x2="245.17" y2="918.1" stroke="#222" stroke-width="0.9"/>
<line x1="242.27" y1="901.5" x2="248.07" y2="901.5" stroke="#222" stroke-width="0.9"/>
<line x1="242.27" y1="918.1" x2="248.07" y2="918.1" stroke="#222" stroke-width="0.9"/>
<rect x="243.77" y="908.4" width="2.8" height="2.8" fill="#111"/>
<line x1="273.68" y1="901.5" x2="273.68" y2="918.1" stroke="#222" stroke-width="0.9"/>
<line x1="270.78" y1="901.5" x2="276.58" y2="901.5" stroke="#222" stroke-width="0.9"/>
<line x1="270.78" y1="918.1" x2="276.58" y2="918.1" stroke="#222" stroke-width="0.9"/>
<rect x="272.28" y="908.4" width="2.8" height="2.8" fill="#111"/>
<line x1="302.19" y1="901.5" x2="302.19" y2="918.1" stroke="#222" stroke-width="0.9"/>
<line x1="299.29" y1="901.5" x2="305.09" y2="901.5" stroke="#222" stroke-width="0.9"/>
<line x1="299.29" y1="918.1" x2="305.09" y2="918.1" stroke="#222" stroke-width="0.9"/>
<rect x="300.79" y="908.4" width="2.8" height="2.8" fill="#111"/>
<text x="159.2" y="931.2" font-size="12.5" text-anchor="middle" fill="#111" font-family='"Liberation Sans", sans-serif'>n = 5</text>
<clipPath id="gdg"><rect x="51.4" y="747.2" width="97.7" height="90.8"/></clipPath>
<g clip-path="url(#gdg)">
<rect x="51.4" y="747.2" width="97.7" height="90.8" fill="#fff"/>
<ellipse cx="103.5" cy="834.5" rx="58" ry="43.2" fill="#dfe3ed"/>
<clipPath id="gdgc"><ellipse cx="103.5" cy="834.5" rx="58" ry="43.2"/></clipPath>
<path clip-path="url(#gdgc)" d="M40.5,806.4 L59.45,806.4 Q103.5,808.4 147.55,806.4 L166.5,806.4 L166.5,843 L40.5,843 Z" fill="#d8d8d9"/>
<path d="M59.45,806.4 Q103.5,808.4 147.55,806.4" fill="none" stroke="#a4a6ac" stroke-width="0.8"/>
<path d="M67.9,800.8 Q104.05,802.5 140.2,800.8 L140.2,802 Q104.05,806.9 67.9,802 Z" fill="#f0c0c8" opacity="0.55"/>
<path d="M67.9,800.8 Q104.05,802.5 140.2,800.8" fill="none" stroke="#e2687e" stroke-width="0.55"/>
<path d="M67.9,801.4 Q104.05,804.7 140.2,801.4" fill="none" stroke="#e2687e" stroke-width="0.55"/>
<path d="M67.9,802 Q104.05,806.9 140.2,802" fill="none" stroke="#e2687e" stroke-width="0.55"/>
<ellipse cx="103.5" cy="834.5" rx="58" ry="43.2" fill="none" stroke="#5b80d0" stroke-width="0.9"/>
</g>
<rect x="51.6" y="747.4" width="97.3" height="90.4" fill="none" stroke="#888" stroke-width="0.9" stroke-dasharray="1.4,0.9"/>
<g transform="rotate(0 102.8 773.4)">
<ellipse cx="102.8" cy="773.4" rx="35.5" ry="9.4" fill="#c9e3b4"/>
<ellipse cx="102.8" cy="773.4" rx="32.6" ry="7.9" fill="#c9561c"/>
<ellipse cx="102.8" cy="773.4" rx="30.29" ry="6.65" fill="none" stroke="#f0a878" stroke-width="0.5"/>
<ellipse cx="102.8" cy="773.4" rx="27.98" ry="5.39" fill="none" stroke="#f0a878" stroke-width="0.5"/>
<ellipse cx="102.8" cy="773.4" rx="25.6" ry="4.1" fill="#ffffff"/>
</g>
<line x1="134.5" y1="773.4" x2="148.8" y2="773.4" stroke="#cf5a1e" stroke-width="1.7"/>
<line x1="52.2" y1="773.4" x2="65.1" y2="773.4" stroke="#222" stroke-width="0.9" stroke-dasharray="1.8,1.1"/>
<line x1="52.2" y1="801.3" x2="65.1" y2="801.3" stroke="#222" stroke-width="0.9" stroke-dasharray="1.8,1.1"/>
<line x1="56.2" y1="774.5" x2="56.2" y2="800.2" stroke="#222" stroke-width="0.8"/>
<path d="M54.6,776.6 L56.2,773.8 L57.8,776.6 Z" fill="#222"/>
<path d="M54.6,798.1 L56.2,800.9 L57.8,798.1 Z" fill="#222"/>
<text x="60.1" y="792.2" font-size="10.5" text-anchor="start" fill="#222" font-weight="bold" font-style="italic" font-family='"Liberation Serif", serif'>d</text>
<text x="80" y="857.9" font-size="15.5" text-anchor="start" fill="#222" font-style="italic" font-family='"Liberation Serif", serif'>&#952;</text>
<text x="92.3" y="857.9" font-size="15.5" text-anchor="start" fill="#333" font-family='"Liberation Serif", serif'>=</text>
<text x="107.5" y="857.9" font-size="15.5" text-anchor="start" fill="#222" font-family='"Liberation Serif", serif'>0</text>
<circle cx="116.5" cy="848.2" r="1.1" fill="none" stroke="#aaa" stroke-width="0.6"/>
<rect x="185.6" y="713.4" width="142.8" height="159.2" fill="#fff" stroke="#333" stroke-width="1"/>
<clipPath id="ic185"><rect x="185.6" y="713.4" width="142.8" height="159.2"/></clipPath>
<g clip-path="url(#ic185)">
<polyline points="185.5,863.42 186.21,863.34 186.93,863.25 187.64,863.16 188.36,863.06 189.07,862.97 189.79,862.87 190.5,862.76 191.22,862.66 191.93,862.55 192.64,862.44 193.36,862.32 194.07,862.2 194.79,862.08 195.5,861.95 196.22,861.81 196.93,861.68 197.64,861.54 198.36,861.39 199.07,861.24 199.79,861.08 200.5,860.92 201.22,860.75 201.93,860.57 202.65,860.39 203.36,860.2 204.07,860.01 204.79,859.81 205.5,859.6 206.22,859.38 206.93,859.15 207.65,858.91 208.36,858.67 209.08,858.41 209.79,858.15 210.5,857.87 211.22,857.58 211.93,857.27 212.65,856.96 213.36,856.63 214.08,856.29 214.79,855.93 215.5,855.55 216.22,855.15 216.93,854.74 217.65,854.31 218.36,853.85 219.08,853.38 219.79,852.88 220.51,852.35 221.22,851.8 221.93,851.22 222.65,850.61 223.36,849.96 224.08,849.28 224.79,848.56 225.51,847.81 226.22,847.01 226.94,846.16 227.65,845.26 228.36,844.32 229.08,843.31 229.79,842.24 230.51,841.11 231.22,839.91 231.94,838.63 232.65,837.27 233.36,835.82 234.08,834.28 234.79,832.64 235.51,830.89 236.22,829.02 236.94,827.02 237.65,824.89 238.37,822.62 239.08,820.19 239.79,817.6 240.51,814.83 241.22,811.88 241.94,808.74 242.65,805.39 243.37,801.84 244.08,798.07 244.8,794.09 245.51,789.9 246.22,785.5 246.94,780.91 247.65,776.15 248.37,771.25 249.08,766.26 249.8,761.23 250.51,756.23 251.22,751.35 251.94,746.66 252.65,742.29 253.37,738.33 254.08,734.91 254.8,732.11 255.51,730.04 256.23,728.77 256.94,728.34 257.65,728.77 258.37,730.04 259.08,732.11 259.8,734.91 260.51,738.33 261.23,742.29 261.94,746.66 262.66,751.35 263.37,756.23 264.08,761.23 264.8,766.26 265.51,771.25 266.23,776.15 266.94,780.91 267.66,785.5 268.37,789.9 269.08,794.09 269.8,798.07 270.51,801.84 271.23,805.39 271.94,808.74 272.66,811.88 273.37,814.83 274.09,817.6 274.8,820.19 275.51,822.62 276.23,824.89 276.94,827.02 277.66,829.02 278.37,830.89 279.09,832.64 279.8,834.28 280.52,835.82 281.23,837.27 281.94,838.63 282.66,839.91 283.37,841.11 284.09,842.24 284.8,843.31 285.52,844.32 286.23,845.26 286.94,846.16 287.66,847.01 288.37,847.81 289.09,848.56 289.8,849.28 290.52,849.96 291.23,850.61 291.95,851.22 292.66,851.8 293.37,852.35 294.09,852.88 294.8,853.38 295.52,853.85 296.23,854.31 296.95,854.74 297.66,855.15 298.38,855.55 299.09,855.93 299.8,856.29 300.52,856.63 301.23,856.96 301.95,857.27 302.66,857.58 303.38,857.87 304.09,858.15 304.8,858.41 305.52,858.67 306.23,858.91 306.95,859.15 307.66,859.38 308.38,859.6 309.09,859.81 309.81,860.01 310.52,860.2 311.23,860.39 311.95,860.57 312.66,860.75 313.38,860.92 314.09,861.08 314.81,861.24 315.52,861.39 316.24,861.54 316.95,861.68 317.66,861.81 318.38,861.95 319.09,862.08 319.81,862.2 320.52,862.32 321.24,862.44 321.95,862.55 322.66,862.66 323.38,862.76 324.09,862.87 324.81,862.97 325.52,863.06 326.24,863.16 326.95,863.25 327.67,863.34 328.38,863.42" fill="none" stroke="#111" stroke-width="1.1" stroke-linejoin="round"/>
<polyline points="185.5,864.9 186.21,864.85 186.93,864.79 187.64,864.73 188.36,864.66 189.07,864.6 189.79,864.53 190.5,864.47 191.22,864.4 191.93,864.32 192.64,864.25 193.36,864.17 194.07,864.09 194.79,864.01 195.5,863.93 196.22,863.84 196.93,863.75 197.64,863.65 198.36,863.56 199.07,863.46 199.79,863.35 200.5,863.24 201.22,863.13 201.93,863.02 202.65,862.9 203.36,862.77 204.07,862.64 204.79,862.51 205.5,862.37 206.22,862.22 206.93,862.07 207.65,861.92 208.36,861.75 209.08,861.59 209.79,861.41 210.5,861.22 211.22,861.03 211.93,860.83 212.65,860.62 213.36,860.41 214.08,860.18 214.79,859.94 215.5,859.69 216.22,859.43 216.93,859.15 217.65,858.87 218.36,858.57 219.08,858.25 219.79,857.92 220.51,857.57 221.22,857.21 221.93,856.82 222.65,856.42 223.36,855.99 224.08,855.54 224.79,855.07 225.51,854.56 226.22,854.03 226.94,853.47 227.65,852.88 228.36,852.25 229.08,851.59 229.79,850.88 230.51,850.13 231.22,849.34 231.94,848.49 232.65,847.59 233.36,846.63 234.08,845.61 234.79,844.52 235.51,843.36 236.22,842.12 236.94,840.8 237.65,839.39 238.37,837.89 239.08,836.28 239.79,834.56 240.51,832.73 241.22,830.78 241.94,828.7 242.65,826.48 243.37,824.13 244.08,821.64 244.8,819 245.51,816.23 246.22,813.32 246.94,810.28 247.65,807.13 248.37,803.89 249.08,800.58 249.8,797.25 250.51,793.94 251.22,790.71 251.94,787.61 252.65,784.71 253.37,782.09 254.08,779.82 254.8,777.97 255.51,776.6 256.23,775.76 256.94,775.48 257.65,775.76 258.37,776.6 259.08,777.97 259.8,779.82 260.51,782.09 261.23,784.71 261.94,787.61 262.66,790.71 263.37,793.94 264.08,797.25 264.8,800.58 265.51,803.89 266.23,807.13 266.94,810.28 267.66,813.32 268.37,816.23 269.08,819 269.8,821.64 270.51,824.13 271.23,826.48 271.94,828.7 272.66,830.78 273.37,832.73 274.09,834.56 274.8,836.28 275.51,837.89 276.23,839.39 276.94,840.8 277.66,842.12 278.37,843.36 279.09,844.52 279.8,845.61 280.52,846.63 281.23,847.59 281.94,848.49 282.66,849.34 283.37,850.13 284.09,850.88 284.8,851.59 285.52,852.25 286.23,852.88 286.94,853.47 287.66,854.03 288.37,854.56 289.09,855.07 289.8,855.54 290.52,855.99 291.23,856.42 291.95,856.82 292.66,857.21 293.37,857.57 294.09,857.92 294.8,858.25 295.52,858.57 296.23,858.87 296.95,859.15 297.66,859.43 298.38,859.69 299.09,859.94 299.8,860.18 300.52,860.41 301.23,860.62 301.95,860.83 302.66,861.03 303.38,861.22 304.09,861.41 304.8,861.59 305.52,861.75 306.23,861.92 306.95,862.07 307.66,862.22 308.38,862.37 309.09,862.51 309.81,862.64 310.52,862.77 311.23,862.9 311.95,863.02 312.66,863.13 313.38,863.24 314.09,863.35 314.81,863.46 315.52,863.56 316.24,863.65 316.95,863.75 317.66,863.84 318.38,863.93 319.09,864.01 319.81,864.09 320.52,864.17 321.24,864.25 321.95,864.32 322.66,864.4 323.38,864.47 324.09,864.53 324.81,864.6 325.52,864.66 326.24,864.73 326.95,864.79 327.67,864.85 328.38,864.9" fill="none" stroke="#e03030" stroke-width="1.1" stroke-linejoin="round"/>
<polyline points="185.5,865.74 186.21,865.7 186.93,865.65 187.64,865.61 188.36,865.57 189.07,865.52 189.79,865.47 190.5,865.43 191.22,865.38 191.93,865.32 192.64,865.27 193.36,865.22 194.07,865.16 194.79,865.1 195.5,865.04 196.22,864.98 196.93,864.91 197.64,864.85 198.36,864.78 199.07,864.71 199.79,864.63 200.5,864.56 201.22,864.48 201.93,864.39 202.65,864.31 203.36,864.22 204.07,864.13 204.79,864.03 205.5,863.93 206.22,863.83 206.93,863.72 207.65,863.61 208.36,863.5 209.08,863.37 209.79,863.25 210.5,863.12 211.22,862.98 211.93,862.84 212.65,862.69 213.36,862.53 214.08,862.37 214.79,862.2 215.5,862.02 216.22,861.84 216.93,861.64 217.65,861.44 218.36,861.23 219.08,861 219.79,860.77 220.51,860.52 221.22,860.26 221.93,859.98 222.65,859.69 223.36,859.39 224.08,859.07 224.79,858.73 225.51,858.38 226.22,858 226.94,857.6 227.65,857.18 228.36,856.73 229.08,856.26 229.79,855.75 230.51,855.22 231.22,854.65 231.94,854.05 232.65,853.41 233.36,852.73 234.08,852 234.79,851.22 235.51,850.4 236.22,849.52 236.94,848.58 237.65,847.57 238.37,846.5 239.08,845.36 239.79,844.13 240.51,842.83 241.22,841.44 241.94,839.96 242.65,838.38 243.37,836.7 244.08,834.93 244.8,833.05 245.51,831.08 246.22,829 246.94,826.84 247.65,824.59 248.37,822.29 249.08,819.93 249.8,817.56 250.51,815.21 251.22,812.9 251.94,810.7 252.65,808.63 253.37,806.77 254.08,805.15 254.8,803.84 255.51,802.86 256.23,802.26 256.94,802.06 257.65,802.26 258.37,802.86 259.08,803.84 259.8,805.15 260.51,806.77 261.23,808.63 261.94,810.7 262.66,812.9 263.37,815.21 264.08,817.56 264.8,819.93 265.51,822.29 266.23,824.59 266.94,826.84 267.66,829 268.37,831.08 269.08,833.05 269.8,834.93 270.51,836.7 271.23,838.38 271.94,839.96 272.66,841.44 273.37,842.83 274.09,844.13 274.8,845.36 275.51,846.5 276.23,847.57 276.94,848.58 277.66,849.52 278.37,850.4 279.09,851.22 279.8,852 280.52,852.73 281.23,853.41 281.94,854.05 282.66,854.65 283.37,855.22 284.09,855.75 284.8,856.26 285.52,856.73 286.23,857.18 286.94,857.6 287.66,858 288.37,858.38 289.09,858.73 289.8,859.07 290.52,859.39 291.23,859.69 291.95,859.98 292.66,860.26 293.37,860.52 294.09,860.77 294.8,861 295.52,861.23 296.23,861.44 296.95,861.64 297.66,861.84 298.38,862.02 299.09,862.2 299.8,862.37 300.52,862.53 301.23,862.69 301.95,862.84 302.66,862.98 303.38,863.12 304.09,863.25 304.8,863.37 305.52,863.5 306.23,863.61 306.95,863.72 307.66,863.83 308.38,863.93 309.09,864.03 309.81,864.13 310.52,864.22 311.23,864.31 311.95,864.39 312.66,864.48 313.38,864.56 314.09,864.63 314.81,864.71 315.52,864.78 316.24,864.85 316.95,864.91 317.66,864.98 318.38,865.04 319.09,865.1 319.81,865.16 320.52,865.22 321.24,865.27 321.95,865.32 322.66,865.38 323.38,865.43 324.09,865.47 324.81,865.52 325.52,865.57 326.24,865.61 326.95,865.65 327.67,865.7 328.38,865.74" fill="none" stroke="#2a2aee" stroke-width="1.1" stroke-linejoin="round"/>
<polyline points="185.5,866.28 186.21,866.25 186.93,866.22 187.64,866.18 188.36,866.15 189.07,866.12 189.79,866.08 190.5,866.05 191.22,866.01 191.93,865.97 192.64,865.93 193.36,865.89 194.07,865.85 194.79,865.81 195.5,865.76 196.22,865.72 196.93,865.67 197.64,865.62 198.36,865.57 199.07,865.52 199.79,865.46 200.5,865.4 201.22,865.35 201.93,865.28 202.65,865.22 203.36,865.16 204.07,865.09 204.79,865.02 205.5,864.94 206.22,864.87 206.93,864.79 207.65,864.71 208.36,864.62 209.08,864.53 209.79,864.44 210.5,864.34 211.22,864.24 211.93,864.14 212.65,864.03 213.36,863.91 214.08,863.79 214.79,863.67 215.5,863.53 216.22,863.4 216.93,863.25 217.65,863.1 218.36,862.94 219.08,862.78 219.79,862.6 220.51,862.42 221.22,862.23 221.93,862.03 222.65,861.81 223.36,861.59 224.08,861.35 224.79,861.1 225.51,860.84 226.22,860.56 226.94,860.27 227.65,859.95 228.36,859.62 229.08,859.27 229.79,858.9 230.51,858.51 231.22,858.09 231.94,857.64 232.65,857.17 233.36,856.67 234.08,856.13 234.79,855.56 235.51,854.95 236.22,854.3 236.94,853.6 237.65,852.86 238.37,852.07 239.08,851.22 239.79,850.32 240.51,849.36 241.22,848.33 241.94,847.24 242.65,846.07 243.37,844.83 244.08,843.52 244.8,842.14 245.51,840.68 246.22,839.15 246.94,837.55 247.65,835.89 248.37,834.19 249.08,832.45 249.8,830.7 250.51,828.96 251.22,827.26 251.94,825.63 252.65,824.1 253.37,822.73 254.08,821.53 254.8,820.56 255.51,819.84 256.23,819.4 256.94,819.25 257.65,819.4 258.37,819.84 259.08,820.56 259.8,821.53 260.51,822.73 261.23,824.1 261.94,825.63 262.66,827.26 263.37,828.96 264.08,830.7 264.8,832.45 265.51,834.19 266.23,835.89 266.94,837.55 267.66,839.15 268.37,840.68 269.08,842.14 269.8,843.52 270.51,844.83 271.23,846.07 271.94,847.24 272.66,848.33 273.37,849.36 274.09,850.32 274.8,851.22 275.51,852.07 276.23,852.86 276.94,853.6 277.66,854.3 278.37,854.95 279.09,855.56 279.8,856.13 280.52,856.67 281.23,857.17 281.94,857.64 282.66,858.09 283.37,858.51 284.09,858.9 284.8,859.27 285.52,859.62 286.23,859.95 286.94,860.27 287.66,860.56 288.37,860.84 289.09,861.1 289.8,861.35 290.52,861.59 291.23,861.81 291.95,862.03 292.66,862.23 293.37,862.42 294.09,862.6 294.8,862.78 295.52,862.94 296.23,863.1 296.95,863.25 297.66,863.4 298.38,863.53 299.09,863.67 299.8,863.79 300.52,863.91 301.23,864.03 301.95,864.14 302.66,864.24 303.38,864.34 304.09,864.44 304.8,864.53 305.52,864.62 306.23,864.71 306.95,864.79 307.66,864.87 308.38,864.94 309.09,865.02 309.81,865.09 310.52,865.16 311.23,865.22 311.95,865.28 312.66,865.35 313.38,865.4 314.09,865.46 314.81,865.52 315.52,865.57 316.24,865.62 316.95,865.67 317.66,865.72 318.38,865.76 319.09,865.81 319.81,865.85 320.52,865.89 321.24,865.93 321.95,865.97 322.66,866.01 323.38,866.05 324.09,866.08 324.81,866.12 325.52,866.15 326.24,866.18 326.95,866.22 327.67,866.25 328.38,866.28" fill="none" stroke="#ff40ff" stroke-width="1.1" stroke-linejoin="round"/>
<polyline points="185.5,866.64 186.21,866.62 186.93,866.6 187.64,866.57 188.36,866.55 189.07,866.52 189.79,866.5 190.5,866.47 191.22,866.44 191.93,866.41 192.64,866.38 193.36,866.35 194.07,866.32 194.79,866.29 195.5,866.25 196.22,866.22 196.93,866.18 197.64,866.14 198.36,866.11 199.07,866.07 199.79,866.02 200.5,865.98 201.22,865.94 201.93,865.89 202.65,865.84 203.36,865.79 204.07,865.74 204.79,865.69 205.5,865.63 206.22,865.57 206.93,865.51 207.65,865.45 208.36,865.39 209.08,865.32 209.79,865.25 210.5,865.17 211.22,865.1 211.93,865.02 212.65,864.93 213.36,864.85 214.08,864.76 214.79,864.66 215.5,864.56 216.22,864.46 216.93,864.35 217.65,864.23 218.36,864.11 219.08,863.99 219.79,863.86 220.51,863.72 221.22,863.57 221.93,863.42 222.65,863.26 223.36,863.09 224.08,862.91 224.79,862.72 225.51,862.52 226.22,862.3 226.94,862.08 227.65,861.84 228.36,861.59 229.08,861.33 229.79,861.05 230.51,860.75 231.22,860.43 231.94,860.09 232.65,859.73 233.36,859.35 234.08,858.94 234.79,858.51 235.51,858.04 236.22,857.55 236.94,857.02 237.65,856.46 238.37,855.86 239.08,855.22 239.79,854.53 240.51,853.8 241.22,853.02 241.94,852.19 242.65,851.31 243.37,850.37 244.08,849.37 244.8,848.32 245.51,847.21 246.22,846.05 246.94,844.83 247.65,843.58 248.37,842.28 249.08,840.96 249.8,839.64 250.51,838.31 251.22,837.02 251.94,835.78 252.65,834.63 253.37,833.58 254.08,832.68 254.8,831.94 255.51,831.39 256.23,831.06 256.94,830.94 257.65,831.06 258.37,831.39 259.08,831.94 259.8,832.68 260.51,833.58 261.23,834.63 261.94,835.78 262.66,837.02 263.37,838.31 264.08,839.64 264.8,840.96 265.51,842.28 266.23,843.58 266.94,844.83 267.66,846.05 268.37,847.21 269.08,848.32 269.8,849.37 270.51,850.37 271.23,851.31 271.94,852.19 272.66,853.02 273.37,853.8 274.09,854.53 274.8,855.22 275.51,855.86 276.23,856.46 276.94,857.02 277.66,857.55 278.37,858.04 279.09,858.51 279.8,858.94 280.52,859.35 281.23,859.73 281.94,860.09 282.66,860.43 283.37,860.75 284.09,861.05 284.8,861.33 285.52,861.59 286.23,861.84 286.94,862.08 287.66,862.3 288.37,862.52 289.09,862.72 289.8,862.91 290.52,863.09 291.23,863.26 291.95,863.42 292.66,863.57 293.37,863.72 294.09,863.86 294.8,863.99 295.52,864.11 296.23,864.23 296.95,864.35 297.66,864.46 298.38,864.56 299.09,864.66 299.8,864.76 300.52,864.85 301.23,864.93 301.95,865.02 302.66,865.1 303.38,865.17 304.09,865.25 304.8,865.32 305.52,865.39 306.23,865.45 306.95,865.51 307.66,865.57 308.38,865.63 309.09,865.69 309.81,865.74 310.52,865.79 311.23,865.84 311.95,865.89 312.66,865.94 313.38,865.98 314.09,866.02 314.81,866.07 315.52,866.11 316.24,866.14 316.95,866.18 317.66,866.22 318.38,866.25 319.09,866.29 319.81,866.32 320.52,866.35 321.24,866.38 321.95,866.41 322.66,866.44 323.38,866.47 324.09,866.5 324.81,866.52 325.52,866.55 326.24,866.57 326.95,866.6 327.67,866.62 328.38,866.64" fill="none" stroke="#2ea02e" stroke-width="1.1" stroke-linejoin="round"/>
<polyline points="185.5,866.84 186.21,866.82 186.93,866.81 187.64,866.79 188.36,866.76 189.07,866.74 189.79,866.72 190.5,866.7 191.22,866.68 191.93,866.65 192.64,866.63 193.36,866.6 194.07,866.58 194.79,866.55 195.5,866.52 196.22,866.49 196.93,866.46 197.64,866.43 198.36,866.4 199.07,866.37 199.79,866.33 200.5,866.3 201.22,866.26 201.93,866.22 202.65,866.18 203.36,866.14 204.07,866.1 204.79,866.05 205.5,866.01 206.22,865.96 206.93,865.91 207.65,865.86 208.36,865.8 209.08,865.75 209.79,865.69 210.5,865.63 211.22,865.57 211.93,865.5 212.65,865.43 213.36,865.36 214.08,865.28 214.79,865.2 215.5,865.12 216.22,865.04 216.93,864.95 217.65,864.85 218.36,864.75 219.08,864.65 219.79,864.54 220.51,864.42 221.22,864.3 221.93,864.18 222.65,864.04 223.36,863.9 224.08,863.75 224.79,863.6 225.51,863.43 226.22,863.26 226.94,863.07 227.65,862.87 228.36,862.67 229.08,862.45 229.79,862.21 230.51,861.97 231.22,861.7 231.94,861.42 232.65,861.13 233.36,860.81 234.08,860.47 234.79,860.12 235.51,859.73 236.22,859.32 236.94,858.89 237.65,858.42 238.37,857.92 239.08,857.39 239.79,856.83 240.51,856.22 241.22,855.58 241.94,854.89 242.65,854.16 243.37,853.38 244.08,852.56 244.8,851.69 245.51,850.77 246.22,849.81 246.94,848.81 247.65,847.77 248.37,846.7 249.08,845.61 249.8,844.51 250.51,843.42 251.22,842.35 251.94,841.33 252.65,840.37 253.37,839.5 254.08,838.76 254.8,838.15 255.51,837.69 256.23,837.42 256.94,837.32 257.65,837.42 258.37,837.69 259.08,838.15 259.8,838.76 260.51,839.5 261.23,840.37 261.94,841.33 262.66,842.35 263.37,843.42 264.08,844.51 264.8,845.61 265.51,846.7 266.23,847.77 266.94,848.81 267.66,849.81 268.37,850.77 269.08,851.69 269.8,852.56 270.51,853.38 271.23,854.16 271.94,854.89 272.66,855.58 273.37,856.22 274.09,856.83 274.8,857.39 275.51,857.92 276.23,858.42 276.94,858.89 277.66,859.32 278.37,859.73 279.09,860.12 279.8,860.47 280.52,860.81 281.23,861.13 281.94,861.42 282.66,861.7 283.37,861.97 284.09,862.21 284.8,862.45 285.52,862.67 286.23,862.87 286.94,863.07 287.66,863.26 288.37,863.43 289.09,863.6 289.8,863.75 290.52,863.9 291.23,864.04 291.95,864.18 292.66,864.3 293.37,864.42 294.09,864.54 294.8,864.65 295.52,864.75 296.23,864.85 296.95,864.95 297.66,865.04 298.38,865.12 299.09,865.2 299.8,865.28 300.52,865.36 301.23,865.43 301.95,865.5 302.66,865.57 303.38,865.63 304.09,865.69 304.8,865.75 305.52,865.8 306.23,865.86 306.95,865.91 307.66,865.96 308.38,866.01 309.09,866.05 309.81,866.1 310.52,866.14 311.23,866.18 311.95,866.22 312.66,866.26 313.38,866.3 314.09,866.33 314.81,866.37 315.52,866.4 316.24,866.43 316.95,866.46 317.66,866.49 318.38,866.52 319.09,866.55 319.81,866.58 320.52,866.6 321.24,866.63 321.95,866.65 322.66,866.68 323.38,866.7 324.09,866.72 324.81,866.74 325.52,866.76 326.24,866.79 326.95,866.81 327.67,866.82 328.38,866.84" fill="none" stroke="#4a50a0" stroke-width="1.1" stroke-linejoin="round"/>
<polyline points="185.5,867.04 186.21,867.03 186.93,867.01 187.64,867 188.36,866.98 189.07,866.96 189.79,866.95 190.5,866.93 191.22,866.91 191.93,866.89 192.64,866.87 193.36,866.85 194.07,866.83 194.79,866.81 195.5,866.79 196.22,866.77 196.93,866.74 197.64,866.72 198.36,866.69 199.07,866.67 199.79,866.64 200.5,866.61 201.22,866.58 201.93,866.55 202.65,866.52 203.36,866.49 204.07,866.45 204.79,866.42 205.5,866.38 206.22,866.34 206.93,866.31 207.65,866.26 208.36,866.22 209.08,866.18 209.79,866.13 210.5,866.08 211.22,866.03 211.93,865.98 212.65,865.93 213.36,865.87 214.08,865.81 214.79,865.75 215.5,865.68 216.22,865.61 216.93,865.54 217.65,865.47 218.36,865.39 219.08,865.31 219.79,865.22 220.51,865.13 221.22,865.04 221.93,864.93 222.65,864.83 223.36,864.72 224.08,864.6 224.79,864.48 225.51,864.35 226.22,864.21 226.94,864.06 227.65,863.91 228.36,863.74 229.08,863.57 229.79,863.38 230.51,863.19 231.22,862.98 231.94,862.76 232.65,862.52 233.36,862.27 234.08,862.01 234.79,861.72 235.51,861.42 236.22,861.1 236.94,860.75 237.65,860.38 238.37,859.99 239.08,859.57 239.79,859.12 240.51,858.65 241.22,858.14 241.94,857.59 242.65,857.02 243.37,856.4 244.08,855.75 244.8,855.06 245.51,854.34 246.22,853.58 246.94,852.78 247.65,851.96 248.37,851.12 249.08,850.25 249.8,849.38 250.51,848.52 251.22,847.68 251.94,846.87 252.65,846.11 253.37,845.43 254.08,844.83 254.8,844.35 255.51,843.99 256.23,843.77 256.94,843.7 257.65,843.77 258.37,843.99 259.08,844.35 259.8,844.83 260.51,845.43 261.23,846.11 261.94,846.87 262.66,847.68 263.37,848.52 264.08,849.38 264.8,850.25 265.51,851.12 266.23,851.96 266.94,852.78 267.66,853.58 268.37,854.34 269.08,855.06 269.8,855.75 270.51,856.4 271.23,857.02 271.94,857.59 272.66,858.14 273.37,858.65 274.09,859.12 274.8,859.57 275.51,859.99 276.23,860.38 276.94,860.75 277.66,861.1 278.37,861.42 279.09,861.72 279.8,862.01 280.52,862.27 281.23,862.52 281.94,862.76 282.66,862.98 283.37,863.19 284.09,863.38 284.8,863.57 285.52,863.74 286.23,863.91 286.94,864.06 287.66,864.21 288.37,864.35 289.09,864.48 289.8,864.6 290.52,864.72 291.23,864.83 291.95,864.93 292.66,865.04 293.37,865.13 294.09,865.22 294.8,865.31 295.52,865.39 296.23,865.47 296.95,865.54 297.66,865.61 298.38,865.68 299.09,865.75 299.8,865.81 300.52,865.87 301.23,865.93 301.95,865.98 302.66,866.03 303.38,866.08 304.09,866.13 304.8,866.18 305.52,866.22 306.23,866.26 306.95,866.31 307.66,866.34 308.38,866.38 309.09,866.42 309.81,866.45 310.52,866.49 311.23,866.52 311.95,866.55 312.66,866.58 313.38,866.61 314.09,866.64 314.81,866.67 315.52,866.69 316.24,866.72 316.95,866.74 317.66,866.77 318.38,866.79 319.09,866.81 319.81,866.83 320.52,866.85 321.24,866.87 321.95,866.89 322.66,866.91 323.38,866.93 324.09,866.95 324.81,866.96 325.52,866.98 326.24,867 326.95,867.01 327.67,867.03 328.38,867.04" fill="none" stroke="#8020ff" stroke-width="1.1" stroke-linejoin="round"/>
<polyline points="185.5,867.15 186.21,867.13 186.93,867.12 187.64,867.11 188.36,867.09 189.07,867.08 189.79,867.06 190.5,867.05 191.22,867.03 191.93,867.02 192.64,867 193.36,866.98 194.07,866.96 194.79,866.95 195.5,866.93 196.22,866.91 196.93,866.89 197.64,866.86 198.36,866.84 199.07,866.82 199.79,866.8 200.5,866.77 201.22,866.75 201.93,866.72 202.65,866.69 203.36,866.67 204.07,866.64 204.79,866.61 205.5,866.58 206.22,866.54 206.93,866.51 207.65,866.47 208.36,866.44 209.08,866.4 209.79,866.36 210.5,866.32 211.22,866.27 211.93,866.23 212.65,866.18 213.36,866.13 214.08,866.08 214.79,866.03 215.5,865.97 216.22,865.91 216.93,865.85 217.65,865.79 218.36,865.72 219.08,865.65 219.79,865.57 220.51,865.49 221.22,865.41 221.93,865.32 222.65,865.23 223.36,865.14 224.08,865.04 224.79,864.93 225.51,864.82 226.22,864.7 226.94,864.57 227.65,864.44 228.36,864.29 229.08,864.14 229.79,863.98 230.51,863.82 231.22,863.64 231.94,863.44 232.65,863.24 233.36,863.03 234.08,862.8 234.79,862.55 235.51,862.29 236.22,862.01 236.94,861.71 237.65,861.39 238.37,861.05 239.08,860.69 239.79,860.3 240.51,859.89 241.22,859.45 241.94,858.98 242.65,858.48 243.37,857.95 244.08,857.39 244.8,856.8 245.51,856.17 246.22,855.51 246.94,854.83 247.65,854.12 248.37,853.39 249.08,852.64 249.8,851.89 250.51,851.14 251.22,850.41 251.94,849.71 252.65,849.06 253.37,848.47 254.08,847.96 254.8,847.54 255.51,847.23 256.23,847.04 256.94,846.98 257.65,847.04 258.37,847.23 259.08,847.54 259.8,847.96 260.51,848.47 261.23,849.06 261.94,849.71 262.66,850.41 263.37,851.14 264.08,851.89 264.8,852.64 265.51,853.39 266.23,854.12 266.94,854.83 267.66,855.51 268.37,856.17 269.08,856.8 269.8,857.39 270.51,857.95 271.23,858.48 271.94,858.98 272.66,859.45 273.37,859.89 274.09,860.3 274.8,860.69 275.51,861.05 276.23,861.39 276.94,861.71 277.66,862.01 278.37,862.29 279.09,862.55 279.8,862.8 280.52,863.03 281.23,863.24 281.94,863.44 282.66,863.64 283.37,863.82 284.09,863.98 284.8,864.14 285.52,864.29 286.23,864.44 286.94,864.57 287.66,864.7 288.37,864.82 289.09,864.93 289.8,865.04 290.52,865.14 291.23,865.23 291.95,865.32 292.66,865.41 293.37,865.49 294.09,865.57 294.8,865.65 295.52,865.72 296.23,865.79 296.95,865.85 297.66,865.91 298.38,865.97 299.09,866.03 299.8,866.08 300.52,866.13 301.23,866.18 301.95,866.23 302.66,866.27 303.38,866.32 304.09,866.36 304.8,866.4 305.52,866.44 306.23,866.47 306.95,866.51 307.66,866.54 308.38,866.58 309.09,866.61 309.81,866.64 310.52,866.67 311.23,866.69 311.95,866.72 312.66,866.75 313.38,866.77 314.09,866.8 314.81,866.82 315.52,866.84 316.24,866.86 316.95,866.89 317.66,866.91 318.38,866.93 319.09,866.95 319.81,866.96 320.52,866.98 321.24,867 321.95,867.02 322.66,867.03 323.38,867.05 324.09,867.06 324.81,867.08 325.52,867.09 326.24,867.11 326.95,867.12 327.67,867.13 328.38,867.15" fill="none" stroke="#a060c0" stroke-width="1.1" stroke-linejoin="round"/>
<polyline points="185.5,867.26 186.21,867.25 186.93,867.24 187.64,867.23 188.36,867.22 189.07,867.2 189.79,867.19 190.5,867.18 191.22,867.17 191.93,867.15 192.64,867.14 193.36,867.12 194.07,867.11 194.79,867.09 195.5,867.08 196.22,867.06 196.93,867.05 197.64,867.03 198.36,867.01 199.07,866.99 199.79,866.97 200.5,866.95 201.22,866.93 201.93,866.91 202.65,866.89 203.36,866.86 204.07,866.84 204.79,866.81 205.5,866.79 206.22,866.76 206.93,866.73 207.65,866.7 208.36,866.67 209.08,866.64 209.79,866.61 210.5,866.58 211.22,866.54 211.93,866.5 212.65,866.46 213.36,866.42 214.08,866.38 214.79,866.34 215.5,866.29 216.22,866.24 216.93,866.19 217.65,866.14 218.36,866.08 219.08,866.02 219.79,865.96 220.51,865.9 221.22,865.83 221.93,865.76 222.65,865.68 223.36,865.6 224.08,865.52 224.79,865.43 225.51,865.34 226.22,865.24 226.94,865.13 227.65,865.02 228.36,864.91 229.08,864.78 229.79,864.65 230.51,864.51 231.22,864.36 231.94,864.2 232.65,864.04 233.36,863.86 234.08,863.67 234.79,863.47 235.51,863.25 236.22,863.02 236.94,862.77 237.65,862.51 238.37,862.23 239.08,861.93 239.79,861.61 240.51,861.27 241.22,860.91 241.94,860.52 242.65,860.11 243.37,859.67 244.08,859.21 244.8,858.72 245.51,858.2 246.22,857.66 246.94,857.09 247.65,856.5 248.37,855.9 249.08,855.29 249.8,854.67 250.51,854.05 251.22,853.45 251.94,852.87 252.65,852.33 253.37,851.84 254.08,851.42 254.8,851.08 255.51,850.82 256.23,850.66 256.94,850.61 257.65,850.66 258.37,850.82 259.08,851.08 259.8,851.42 260.51,851.84 261.23,852.33 261.94,852.87 262.66,853.45 263.37,854.05 264.08,854.67 264.8,855.29 265.51,855.9 266.23,856.5 266.94,857.09 267.66,857.66 268.37,858.2 269.08,858.72 269.8,859.21 270.51,859.67 271.23,860.11 271.94,860.52 272.66,860.91 273.37,861.27 274.09,861.61 274.8,861.93 275.51,862.23 276.23,862.51 276.94,862.77 277.66,863.02 278.37,863.25 279.09,863.47 279.8,863.67 280.52,863.86 281.23,864.04 281.94,864.2 282.66,864.36 283.37,864.51 284.09,864.65 284.8,864.78 285.52,864.91 286.23,865.02 286.94,865.13 287.66,865.24 288.37,865.34 289.09,865.43 289.8,865.52 290.52,865.6 291.23,865.68 291.95,865.76 292.66,865.83 293.37,865.9 294.09,865.96 294.8,866.02 295.52,866.08 296.23,866.14 296.95,866.19 297.66,866.24 298.38,866.29 299.09,866.34 299.8,866.38 300.52,866.42 301.23,866.46 301.95,866.5 302.66,866.54 303.38,866.58 304.09,866.61 304.8,866.64 305.52,866.67 306.23,866.7 306.95,866.73 307.66,866.76 308.38,866.79 309.09,866.81 309.81,866.84 310.52,866.86 311.23,866.89 311.95,866.91 312.66,866.93 313.38,866.95 314.09,866.97 314.81,866.99 315.52,867.01 316.24,867.03 316.95,867.05 317.66,867.06 318.38,867.08 319.09,867.09 319.81,867.11 320.52,867.12 321.24,867.14 321.95,867.15 322.66,867.17 323.38,867.18 324.09,867.19 324.81,867.2 325.52,867.22 326.24,867.23 326.95,867.24 327.67,867.25 328.38,867.26" fill="none" stroke="#a04848" stroke-width="1.1" stroke-linejoin="round"/>
<line x1="256.94" y1="713.4" x2="256.94" y2="872.6" stroke="#5b8fd8" stroke-width="0.9" stroke-dasharray="3,1.5,0.8,1.5"/>
</g>
<rect x="185.6" y="713.4" width="142.8" height="159.2" fill="none" stroke="#333" stroke-width="1"/>
<line x1="185.6" y1="867.8" x2="187.8" y2="867.8" stroke="#333" stroke-width="0.9"/>
<text x="185" y="870.8" font-size="7.9" text-anchor="end" fill="#333" font-family='"Liberation Sans", sans-serif'>0</text>
<line x1="185.6" y1="823.5" x2="187.8" y2="823.5" stroke="#333" stroke-width="0.9"/>
<text x="185" y="826.5" font-size="7.9" text-anchor="end" fill="#333" font-family='"Liberation Sans", sans-serif'>50</text>
<line x1="185.6" y1="779.2" x2="187.8" y2="779.2" stroke="#333" stroke-width="0.9"/>
<text x="185" y="782.2" font-size="7.9" text-anchor="end" fill="#333" font-family='"Liberation Sans", sans-serif'>100</text>
<line x1="185.6" y1="734.9" x2="187.8" y2="734.9" stroke="#333" stroke-width="0.9"/>
<text x="185" y="737.9" font-size="7.9" text-anchor="end" fill="#333" font-family='"Liberation Sans", sans-serif'>150</text>
<line x1="185.5" y1="872.6" x2="185.5" y2="870.4" stroke="#333" stroke-width="0.9"/>
<text x="185.5" y="880.6" font-size="7.9" text-anchor="middle" fill="#333" font-family='"Liberation Sans", sans-serif'>420</text>
<line x1="221.22" y1="872.6" x2="221.22" y2="870.4" stroke="#333" stroke-width="0.9"/>
<text x="221.22" y="880.6" font-size="7.9" text-anchor="middle" fill="#333" font-family='"Liberation Sans", sans-serif'>430</text>
<line x1="256.94" y1="872.6" x2="256.94" y2="870.4" stroke="#333" stroke-width="0.9"/>
<text x="256.94" y="880.6" font-size="7.9" text-anchor="middle" fill="#333" font-family='"Liberation Sans", sans-serif'>440</text>
<line x1="292.66" y1="872.6" x2="292.66" y2="870.4" stroke="#333" stroke-width="0.9"/>
<text x="292.66" y="880.6" font-size="7.9" text-anchor="middle" fill="#333" font-family='"Liberation Sans", sans-serif'>450</text>
<line x1="328.38" y1="872.6" x2="328.38" y2="870.4" stroke="#333" stroke-width="0.9"/>
<clipPath id="icx185"><rect x="0" y="0" width="330.6" height="971"/></clipPath>
<g clip-path="url(#icx185)">
<text x="328.38" y="880.6" font-size="7.9" text-anchor="middle" fill="#333" font-family='"Liberation Sans", sans-serif'>460</text>
</g>
<text x="257.5" y="893.8" font-size="9" text-anchor="middle" fill="#333" font-family='"Liberation Sans", sans-serif'>Frequency (MHz)</text>
<text x="167.2" y="794" font-size="9.4" text-anchor="middle" fill="#333" transform="rotate(-90 167.2 794)" font-family='"Liberation Sans", sans-serif'>Impedance real part (&#937;)</text>
<line x1="283.1" y1="723" x2="296.1" y2="723" stroke="#111" stroke-width="1.2"/>
<text x="318.7" y="725.3" font-size="6.5" text-anchor="end" fill="#333" font-family='"Liberation Sans", sans-serif'>4 mm</text>
<line x1="283.1" y1="730.43" x2="296.1" y2="730.43" stroke="#e03030" stroke-width="1.2"/>
<text x="318.7" y="732.73" font-size="6.5" text-anchor="end" fill="#333" font-family='"Liberation Sans", sans-serif'>5 mm</text>
<line x1="283.1" y1="737.86" x2="296.1" y2="737.86" stroke="#2a2aee" stroke-width="1.2"/>
<text x="318.7" y="740.16" font-size="6.5" text-anchor="end" fill="#333" font-family='"Liberation Sans", sans-serif'>6 mm</text>
<line x1="283.1" y1="745.29" x2="296.1" y2="745.29" stroke="#ff40ff" stroke-width="1.2"/>
<text x="318.7" y="747.59" font-size="6.5" text-anchor="end" fill="#333" font-family='"Liberation Sans", sans-serif'>7 mm</text>
<line x1="283.1" y1="752.72" x2="296.1" y2="752.72" stroke="#2ea02e" stroke-width="1.2"/>
<text x="318.7" y="755.02" font-size="6.5" text-anchor="end" fill="#333" font-family='"Liberation Sans", sans-serif'>8 mm</text>
<line x1="283.1" y1="760.15" x2="296.1" y2="760.15" stroke="#4a50a0" stroke-width="1.2"/>
<text x="318.7" y="762.45" font-size="6.5" text-anchor="end" fill="#333" font-family='"Liberation Sans", sans-serif'>9 mm</text>
<line x1="283.1" y1="767.58" x2="296.1" y2="767.58" stroke="#8020ff" stroke-width="1.2"/>
<text x="318.7" y="769.88" font-size="6.5" text-anchor="end" fill="#333" font-family='"Liberation Sans", sans-serif'>10 mm</text>
<line x1="283.1" y1="775.01" x2="296.1" y2="775.01" stroke="#a060c0" stroke-width="1.2"/>
<text x="318.7" y="777.31" font-size="6.5" text-anchor="end" fill="#333" font-family='"Liberation Sans", sans-serif'>11 mm</text>
<line x1="283.1" y1="782.44" x2="296.1" y2="782.44" stroke="#a04848" stroke-width="1.2"/>
<text x="318.7" y="784.74" font-size="6.5" text-anchor="end" fill="#333" font-family='"Liberation Sans", sans-serif'>12 mm</text>
<text x="378.6" y="708.3" font-size="22" text-anchor="start" fill="#000" font-weight="bold" font-family='"Liberation Serif", serif'>h</text>
<rect x="406" y="707.5" width="277.2" height="231.7" fill="none" stroke="#222" stroke-width="1.3"/>
<line x1="406" y1="906.9" x2="409" y2="906.9" stroke="#222" stroke-width="1.1"/>
<text x="402.5" y="911.1" font-size="11.8" text-anchor="end" fill="#222" font-family='"Liberation Sans", sans-serif'>0.0</text>
<line x1="406" y1="801.2" x2="409" y2="801.2" stroke="#222" stroke-width="1.1"/>
<text x="402.5" y="805.4" font-size="11.8" text-anchor="end" fill="#222" font-family='"Liberation Sans", sans-serif'>0.2</text>
<line x1="417.3" y1="939.2" x2="417.3" y2="936.2" stroke="#222" stroke-width="1.1"/>
<text x="417.3" y="952" font-size="10.8" text-anchor="middle" fill="#222" font-family='"Liberation Sans", sans-serif'>0</text>
<line x1="502.17" y1="939.2" x2="502.17" y2="936.2" stroke="#222" stroke-width="1.1"/>
<text x="502.17" y="952" font-size="10.8" text-anchor="middle" fill="#222" font-family='"Liberation Sans", sans-serif'>15</text>
<line x1="587.04" y1="939.2" x2="587.04" y2="936.2" stroke="#222" stroke-width="1.1"/>
<text x="587.04" y="952" font-size="10.8" text-anchor="middle" fill="#222" font-family='"Liberation Sans", sans-serif'>30</text>
<line x1="671.91" y1="939.2" x2="671.91" y2="936.2" stroke="#222" stroke-width="1.1"/>
<text x="671.91" y="952" font-size="10.8" text-anchor="middle" fill="#222" font-family='"Liberation Sans", sans-serif'>45</text>
<text x="546.6" y="965.9" font-size="13.6" text-anchor="middle" fill="#111" font-family='"Liberation Sans", sans-serif'>Angle (degree)</text>
<text x="383.3" y="838.9" font-size="13.6" text-anchor="middle" fill="#111" transform="rotate(-90 383.3 838.9)" font-family='"Liberation Sans", sans-serif'>Frequency shift (MHz)</text>
<line x1="417.3" y1="906.9" x2="671.91" y2="906.9" stroke="#333" stroke-width="1.1"/>
<line x1="417.3" y1="899.4" x2="417.3" y2="914.4" stroke="#222" stroke-width="0.9"/>
<line x1="414.4" y1="899.4" x2="420.2" y2="899.4" stroke="#222" stroke-width="0.9"/>
<line x1="414.4" y1="914.4" x2="420.2" y2="914.4" stroke="#222" stroke-width="0.9"/>
<rect x="415.9" y="905.5" width="2.8" height="2.8" fill="#111"/>
<line x1="445.59" y1="899.4" x2="445.59" y2="914.4" stroke="#222" stroke-width="0.9"/>
<line x1="442.69" y1="899.4" x2="448.49" y2="899.4" stroke="#222" stroke-width="0.9"/>
<line x1="442.69" y1="914.4" x2="448.49" y2="914.4" stroke="#222" stroke-width="0.9"/>
<rect x="444.19" y="905.5" width="2.8" height="2.8" fill="#111"/>
<line x1="473.88" y1="899.4" x2="473.88" y2="914.4" stroke="#222" stroke-width="0.9"/>
<line x1="470.98" y1="899.4" x2="476.78" y2="899.4" stroke="#222" stroke-width="0.9"/>
<line x1="470.98" y1="914.4" x2="476.78" y2="914.4" stroke="#222" stroke-width="0.9"/>
<rect x="472.48" y="905.5" width="2.8" height="2.8" fill="#111"/>
<line x1="502.17" y1="899.4" x2="502.17" y2="914.4" stroke="#222" stroke-width="0.9"/>
<line x1="499.27" y1="899.4" x2="505.07" y2="899.4" stroke="#222" stroke-width="0.9"/>
<line x1="499.27" y1="914.4" x2="505.07" y2="914.4" stroke="#222" stroke-width="0.9"/>
<rect x="500.77" y="905.5" width="2.8" height="2.8" fill="#111"/>
<line x1="530.46" y1="899.4" x2="530.46" y2="914.4" stroke="#222" stroke-width="0.9"/>
<line x1="527.56" y1="899.4" x2="533.36" y2="899.4" stroke="#222" stroke-width="0.9"/>
<line x1="527.56" y1="914.4" x2="533.36" y2="914.4" stroke="#222" stroke-width="0.9"/>
<rect x="529.06" y="905.5" width="2.8" height="2.8" fill="#111"/>
<line x1="558.75" y1="899.4" x2="558.75" y2="914.4" stroke="#222" stroke-width="0.9"/>
<line x1="555.85" y1="899.4" x2="561.65" y2="899.4" stroke="#222" stroke-width="0.9"/>
<line x1="555.85" y1="914.4" x2="561.65" y2="914.4" stroke="#222" stroke-width="0.9"/>
<rect x="557.35" y="905.5" width="2.8" height="2.8" fill="#111"/>
<line x1="587.04" y1="899.4" x2="587.04" y2="914.4" stroke="#222" stroke-width="0.9"/>
<line x1="584.14" y1="899.4" x2="589.94" y2="899.4" stroke="#222" stroke-width="0.9"/>
<line x1="584.14" y1="914.4" x2="589.94" y2="914.4" stroke="#222" stroke-width="0.9"/>
<rect x="585.64" y="905.5" width="2.8" height="2.8" fill="#111"/>
<line x1="615.33" y1="899.4" x2="615.33" y2="914.4" stroke="#222" stroke-width="0.9"/>
<line x1="612.43" y1="899.4" x2="618.23" y2="899.4" stroke="#222" stroke-width="0.9"/>
<line x1="612.43" y1="914.4" x2="618.23" y2="914.4" stroke="#222" stroke-width="0.9"/>
<rect x="613.93" y="905.5" width="2.8" height="2.8" fill="#111"/>
<line x1="643.62" y1="899.4" x2="643.62" y2="914.4" stroke="#222" stroke-width="0.9"/>
<line x1="640.72" y1="899.4" x2="646.52" y2="899.4" stroke="#222" stroke-width="0.9"/>
<line x1="640.72" y1="914.4" x2="646.52" y2="914.4" stroke="#222" stroke-width="0.9"/>
<rect x="642.22" y="905.5" width="2.8" height="2.8" fill="#111"/>
<line x1="671.91" y1="899.4" x2="671.91" y2="914.4" stroke="#222" stroke-width="0.9"/>
<line x1="669.01" y1="899.4" x2="674.81" y2="899.4" stroke="#222" stroke-width="0.9"/>
<line x1="669.01" y1="914.4" x2="674.81" y2="914.4" stroke="#222" stroke-width="0.9"/>
<rect x="670.51" y="905.5" width="2.8" height="2.8" fill="#111"/>
<text x="538.5" y="933.1" font-size="12.5" text-anchor="middle" fill="#111" font-family='"Liberation Sans", sans-serif'>n = 5</text>
<clipPath id="hdg"><rect x="410.6" y="737.5" width="94" height="90.5"/></clipPath>
<g clip-path="url(#hdg)">
<rect x="410.6" y="737.5" width="94" height="90.5" fill="#fff"/>
<ellipse cx="455.8" cy="833.5" rx="60.3" ry="56.9" fill="#dfe3ed"/>
<clipPath id="hdgc"><ellipse cx="455.8" cy="833.5" rx="60.3" ry="56.9"/></clipPath>
<path clip-path="url(#hdgc)" d="M390.5,790.7 L416.07,790.7 Q455.8,792.8 495.53,790.7 L521.1,790.7 L521.1,833 L390.5,833 Z" fill="#d8d8d9"/>
<path d="M416.07,790.7 Q455.8,792.8 495.53,790.7" fill="none" stroke="#a4a6ac" stroke-width="0.8"/>
<path d="M423.9,785.2 Q455.8,786.6 487.7,785.2 L487.7,786.4 Q455.8,791 423.9,786.4 Z" fill="#f0c0c8" opacity="0.55"/>
<path d="M423.9,785.2 Q455.8,786.6 487.7,785.2" fill="none" stroke="#e2687e" stroke-width="0.55"/>
<path d="M423.9,785.8 Q455.8,788.8 487.7,785.8" fill="none" stroke="#e2687e" stroke-width="0.55"/>
<path d="M423.9,786.4 Q455.8,791 487.7,786.4" fill="none" stroke="#e2687e" stroke-width="0.55"/>
<ellipse cx="455.8" cy="833.5" rx="60.3" ry="56.9" fill="none" stroke="#5b80d0" stroke-width="0.9"/>
</g>
<rect x="410.8" y="737.7" width="93.6" height="90.1" fill="none" stroke="#888" stroke-width="0.9" stroke-dasharray="1.4,0.9"/>
<g transform="rotate(16.5 458.2 762.3)">
<ellipse cx="458.2" cy="762.3" rx="34.5" ry="8.2" fill="#c9e3b4"/>
<ellipse cx="458.2" cy="762.3" rx="31.8" ry="6.6" fill="#c9561c"/>
<ellipse cx="458.2" cy="762.3" rx="30.41" ry="5.61" fill="none" stroke="#f0a878" stroke-width="0.5"/>
<ellipse cx="458.2" cy="762.3" rx="29.03" ry="4.62" fill="none" stroke="#f0a878" stroke-width="0.5"/>
<ellipse cx="458.2" cy="762.3" rx="27.6" ry="3.6" fill="#ffffff"/>
</g>
<line x1="486.9" y1="771" x2="504.6" y2="775.4" stroke="#cf5a1e" stroke-width="1.7"/>
<line x1="414.5" y1="769.3" x2="487" y2="769.3" stroke="#222" stroke-width="0.9" stroke-dasharray="1.8,1.1"/>
<line x1="417" y1="750" x2="487" y2="769.6" stroke="#222" stroke-width="0.9" stroke-dasharray="1.8,1.1"/>
<text x="446.8" y="767.4" font-size="7.5" text-anchor="start" fill="#222" font-style="italic" font-family='"Liberation Serif", serif'>&#952;</text>
<path d="M461,762.5 Q459.2,765.5 461,768.6" fill="none" stroke="#222" stroke-width="0.7"/>
<text x="457.6" y="845.6" font-size="14" text-anchor="middle" fill="#222" font-family='"Liberation Serif", serif'>d = 5mm</text>
<rect x="531.4" y="710.5" width="148" height="159.2" fill="#fff" stroke="#333" stroke-width="1"/>
<clipPath id="ic531"><rect x="531.4" y="710.5" width="148" height="159.2"/></clipPath>
<g clip-path="url(#ic531)">
<polyline points="531.3,861.19 532.04,861.11 532.78,861.02 533.52,860.93 534.26,860.84 535,860.75 535.74,860.65 536.48,860.55 537.22,860.44 537.96,860.33 538.69,860.22 539.43,860.11 540.17,859.99 540.91,859.87 541.65,859.74 542.39,859.61 543.13,859.48 543.87,859.34 544.61,859.19 545.35,859.04 546.09,858.89 546.83,858.73 547.57,858.56 548.31,858.39 549.05,858.21 549.79,858.03 550.53,857.84 551.27,857.64 552.01,857.43 552.75,857.22 553.48,856.99 554.22,856.76 554.96,856.52 555.7,856.27 556.44,856 557.18,855.73 557.92,855.44 558.66,855.15 559.4,854.84 560.14,854.51 560.88,854.17 561.62,853.82 562.36,853.45 563.1,853.06 563.84,852.65 564.58,852.23 565.32,851.78 566.06,851.31 566.8,850.82 567.54,850.3 568.27,849.76 569.01,849.19 569.75,848.59 570.49,847.95 571.23,847.28 571.97,846.58 572.71,845.83 573.45,845.05 574.19,844.21 574.93,843.33 575.67,842.4 576.41,841.41 577.15,840.36 577.89,839.25 578.63,838.06 579.37,836.81 580.11,835.47 580.85,834.04 581.59,832.53 582.33,830.91 583.06,829.19 583.8,827.35 584.54,825.39 585.28,823.29 586.02,821.05 586.76,818.67 587.5,816.12 588.24,813.39 588.98,810.49 589.72,807.4 590.46,804.11 591.2,800.62 591.94,796.91 592.68,792.99 593.42,788.87 594.16,784.54 594.9,780.03 595.64,775.35 596.38,770.53 597.12,765.62 597.85,760.67 598.59,755.76 599.33,750.95 600.07,746.34 600.81,742.04 601.55,738.15 602.29,734.78 603.03,732.03 603.77,729.99 604.51,728.74 605.25,728.32 605.99,728.74 606.73,729.99 607.47,732.03 608.21,734.78 608.95,738.15 609.69,742.04 610.43,746.34 611.17,750.95 611.91,755.76 612.64,760.67 613.38,765.62 614.12,770.53 614.86,775.35 615.6,780.03 616.34,784.54 617.08,788.87 617.82,792.99 618.56,796.91 619.3,800.62 620.04,804.11 620.78,807.4 621.52,810.49 622.26,813.39 623,816.12 623.74,818.67 624.48,821.05 625.22,823.29 625.96,825.39 626.7,827.35 627.43,829.19 628.17,830.91 628.91,832.53 629.65,834.04 630.39,835.47 631.13,836.81 631.87,838.06 632.61,839.25 633.35,840.36 634.09,841.41 634.83,842.4 635.57,843.33 636.31,844.21 637.05,845.05 637.79,845.83 638.53,846.58 639.27,847.28 640.01,847.95 640.75,848.59 641.49,849.19 642.22,849.76 642.96,850.3 643.7,850.82 644.44,851.31 645.18,851.78 645.92,852.23 646.66,852.65 647.4,853.06 648.14,853.45 648.88,853.82 649.62,854.17 650.36,854.51 651.1,854.84 651.84,855.15 652.58,855.44 653.32,855.73 654.06,856 654.8,856.27 655.54,856.52 656.28,856.76 657.01,856.99 657.75,857.22 658.49,857.43 659.23,857.64 659.97,857.84 660.71,858.03 661.45,858.21 662.19,858.39 662.93,858.56 663.67,858.73 664.41,858.89 665.15,859.04 665.89,859.19 666.63,859.34 667.37,859.48 668.11,859.61 668.85,859.74 669.59,859.87 670.33,859.99 671.07,860.11 671.8,860.22 672.54,860.33 673.28,860.44 674.02,860.55 674.76,860.65 675.5,860.75 676.24,860.84 676.98,860.93 677.72,861.02 678.46,861.11 679.2,861.19" fill="none" stroke="#111" stroke-width="1.1" stroke-linejoin="round"/>
<polyline points="531.3,861.31 532.04,861.23 532.78,861.14 533.52,861.06 534.26,860.97 535,860.87 535.74,860.78 536.48,860.68 537.22,860.58 537.96,860.47 538.69,860.37 539.43,860.25 540.17,860.14 540.91,860.02 541.65,859.9 542.39,859.77 543.13,859.64 543.87,859.5 544.61,859.36 545.35,859.22 546.09,859.07 546.83,858.91 547.57,858.75 548.31,858.58 549.05,858.41 549.79,858.23 550.53,858.04 551.27,857.85 552.01,857.65 552.75,857.44 553.48,857.22 554.22,856.99 554.96,856.76 555.7,856.51 556.44,856.26 557.18,855.99 557.92,855.72 558.66,855.43 559.4,855.12 560.14,854.81 560.88,854.48 561.62,854.13 562.36,853.77 563.1,853.4 563.84,853 564.58,852.59 565.32,852.15 566.06,851.7 566.8,851.22 567.54,850.71 568.27,850.19 569.01,849.63 569.75,849.04 570.49,848.43 571.23,847.78 571.97,847.09 572.71,846.36 573.45,845.6 574.19,844.79 574.93,843.93 575.67,843.02 576.41,842.06 577.15,841.04 577.89,839.95 578.63,838.8 579.37,837.58 580.11,836.28 580.85,834.89 581.59,833.42 582.33,831.84 583.06,830.17 583.8,828.38 584.54,826.47 585.28,824.43 586.02,822.25 586.76,819.93 587.5,817.45 588.24,814.8 588.98,811.97 589.72,808.97 590.46,805.76 591.2,802.36 591.94,798.76 592.68,794.95 593.42,790.93 594.16,786.72 594.9,782.33 595.64,777.78 596.38,773.09 597.12,768.31 597.85,763.5 598.59,758.71 599.33,754.04 600.07,749.55 600.81,745.37 601.55,741.58 602.29,738.3 603.03,735.63 603.77,733.65 604.51,732.43 605.25,732.02 605.99,732.43 606.73,733.65 607.47,735.63 608.21,738.3 608.95,741.58 609.69,745.37 610.43,749.55 611.17,754.04 611.91,758.71 612.64,763.5 613.38,768.31 614.12,773.09 614.86,777.78 615.6,782.33 616.34,786.72 617.08,790.93 617.82,794.95 618.56,798.76 619.3,802.36 620.04,805.76 620.78,808.97 621.52,811.97 622.26,814.8 623,817.45 623.74,819.93 624.48,822.25 625.22,824.43 625.96,826.47 626.7,828.38 627.43,830.17 628.17,831.84 628.91,833.42 629.65,834.89 630.39,836.28 631.13,837.58 631.87,838.8 632.61,839.95 633.35,841.04 634.09,842.06 634.83,843.02 635.57,843.93 636.31,844.79 637.05,845.6 637.79,846.36 638.53,847.09 639.27,847.78 640.01,848.43 640.75,849.04 641.49,849.63 642.22,850.19 642.96,850.71 643.7,851.22 644.44,851.7 645.18,852.15 645.92,852.59 646.66,853 647.4,853.4 648.14,853.77 648.88,854.13 649.62,854.48 650.36,854.81 651.1,855.12 651.84,855.43 652.58,855.72 653.32,855.99 654.06,856.26 654.8,856.51 655.54,856.76 656.28,856.99 657.01,857.22 657.75,857.44 658.49,857.65 659.23,857.85 659.97,858.04 660.71,858.23 661.45,858.41 662.19,858.58 662.93,858.75 663.67,858.91 664.41,859.07 665.15,859.22 665.89,859.36 666.63,859.5 667.37,859.64 668.11,859.77 668.85,859.9 669.59,860.02 670.33,860.14 671.07,860.25 671.8,860.37 672.54,860.47 673.28,860.58 674.02,860.68 674.76,860.78 675.5,860.87 676.24,860.97 676.98,861.06 677.72,861.14 678.46,861.23 679.2,861.31" fill="none" stroke="#e03030" stroke-width="1.1" stroke-linejoin="round"/>
<polyline points="531.3,861.46 532.04,861.38 532.78,861.3 533.52,861.21 534.26,861.13 535,861.04 535.74,860.95 536.48,860.85 537.22,860.75 537.96,860.65 538.69,860.55 539.43,860.44 540.17,860.33 540.91,860.22 541.65,860.1 542.39,859.97 543.13,859.85 543.87,859.72 544.61,859.58 545.35,859.44 546.09,859.3 546.83,859.15 547.57,858.99 548.31,858.83 549.05,858.66 549.79,858.49 550.53,858.31 551.27,858.12 552.01,857.93 552.75,857.73 553.48,857.52 554.22,857.3 554.96,857.07 555.7,856.83 556.44,856.59 557.18,856.33 557.92,856.06 558.66,855.78 559.4,855.49 560.14,855.19 560.88,854.87 561.62,854.54 562.36,854.19 563.1,853.83 563.84,853.45 564.58,853.05 565.32,852.63 566.06,852.19 566.8,851.73 567.54,851.24 568.27,850.73 569.01,850.19 569.75,849.63 570.49,849.03 571.23,848.41 571.97,847.74 572.71,847.05 573.45,846.31 574.19,845.52 574.93,844.7 575.67,843.82 576.41,842.89 577.15,841.91 577.89,840.86 578.63,839.75 579.37,838.57 580.11,837.32 580.85,835.98 581.59,834.56 582.33,833.04 583.06,831.42 583.8,829.7 584.54,827.86 585.28,825.89 586.02,823.79 586.76,821.55 587.5,819.16 588.24,816.6 588.98,813.88 589.72,810.98 590.46,807.89 591.2,804.61 591.94,801.14 592.68,797.46 593.42,793.59 594.16,789.53 594.9,785.29 595.64,780.9 596.38,776.38 597.12,771.77 597.85,767.13 598.59,762.52 599.33,758 600.07,753.68 600.81,749.64 601.55,745.99 602.29,742.83 603.03,740.25 603.77,738.34 604.51,737.17 605.25,736.77 605.99,737.17 606.73,738.34 607.47,740.25 608.21,742.83 608.95,745.99 609.69,749.64 610.43,753.68 611.17,758 611.91,762.52 612.64,767.13 613.38,771.77 614.12,776.38 614.86,780.9 615.6,785.29 616.34,789.53 617.08,793.59 617.82,797.46 618.56,801.14 619.3,804.61 620.04,807.89 620.78,810.98 621.52,813.88 622.26,816.6 623,819.16 623.74,821.55 624.48,823.79 625.22,825.89 625.96,827.86 626.7,829.7 627.43,831.42 628.17,833.04 628.91,834.56 629.65,835.98 630.39,837.32 631.13,838.57 631.87,839.75 632.61,840.86 633.35,841.91 634.09,842.89 634.83,843.82 635.57,844.7 636.31,845.52 637.05,846.31 637.79,847.05 638.53,847.74 639.27,848.41 640.01,849.03 640.75,849.63 641.49,850.19 642.22,850.73 642.96,851.24 643.7,851.73 644.44,852.19 645.18,852.63 645.92,853.05 646.66,853.45 647.4,853.83 648.14,854.19 648.88,854.54 649.62,854.87 650.36,855.19 651.1,855.49 651.84,855.78 652.58,856.06 653.32,856.33 654.06,856.59 654.8,856.83 655.54,857.07 656.28,857.3 657.01,857.52 657.75,857.73 658.49,857.93 659.23,858.12 659.97,858.31 660.71,858.49 661.45,858.66 662.19,858.83 662.93,858.99 663.67,859.15 664.41,859.3 665.15,859.44 665.89,859.58 666.63,859.72 667.37,859.85 668.11,859.97 668.85,860.1 669.59,860.22 670.33,860.33 671.07,860.44 671.8,860.55 672.54,860.65 673.28,860.75 674.02,860.85 674.76,860.95 675.5,861.04 676.24,861.13 676.98,861.21 677.72,861.3 678.46,861.38 679.2,861.46" fill="none" stroke="#2a2aee" stroke-width="1.1" stroke-linejoin="round"/>
<polyline points="531.3,861.67 532.04,861.59 532.78,861.51 533.52,861.43 534.26,861.35 535,861.27 535.74,861.18 536.48,861.09 537.22,861 537.96,860.9 538.69,860.8 539.43,860.7 540.17,860.6 540.91,860.49 541.65,860.37 542.39,860.26 543.13,860.14 543.87,860.01 544.61,859.89 545.35,859.75 546.09,859.62 546.83,859.47 547.57,859.33 548.31,859.17 549.05,859.01 549.79,858.85 550.53,858.68 551.27,858.5 552.01,858.32 552.75,858.12 553.48,857.93 554.22,857.72 554.96,857.5 555.7,857.28 556.44,857.05 557.18,856.8 557.92,856.55 558.66,856.28 559.4,856.01 560.14,855.72 560.88,855.42 561.62,855.1 562.36,854.77 563.1,854.43 563.84,854.06 564.58,853.68 565.32,853.29 566.06,852.87 566.8,852.43 567.54,851.97 568.27,851.49 569.01,850.98 569.75,850.44 570.49,849.88 571.23,849.28 571.97,848.65 572.71,847.99 573.45,847.29 574.19,846.55 574.93,845.76 575.67,844.93 576.41,844.05 577.15,843.12 577.89,842.13 578.63,841.07 579.37,839.95 580.11,838.76 580.85,837.5 581.59,836.15 582.33,834.71 583.06,833.17 583.8,831.53 584.54,829.79 585.28,827.92 586.02,825.93 586.76,823.8 587.5,821.53 588.24,819.11 588.98,816.53 589.72,813.78 590.46,810.85 591.2,807.73 591.94,804.44 592.68,800.95 593.42,797.28 594.16,793.42 594.9,789.41 595.64,785.24 596.38,780.95 597.12,776.58 597.85,772.18 598.59,767.8 599.33,763.52 600.07,759.42 600.81,755.59 601.55,752.12 602.29,749.12 603.03,746.67 603.77,744.86 604.51,743.75 605.25,743.37 605.99,743.75 606.73,744.86 607.47,746.67 608.21,749.12 608.95,752.12 609.69,755.59 610.43,759.42 611.17,763.52 611.91,767.8 612.64,772.18 613.38,776.58 614.12,780.95 614.86,785.24 615.6,789.41 616.34,793.42 617.08,797.28 617.82,800.95 618.56,804.44 619.3,807.73 620.04,810.85 620.78,813.78 621.52,816.53 622.26,819.11 623,821.53 623.74,823.8 624.48,825.93 625.22,827.92 625.96,829.79 626.7,831.53 627.43,833.17 628.17,834.71 628.91,836.15 629.65,837.5 630.39,838.76 631.13,839.95 631.87,841.07 632.61,842.13 633.35,843.12 634.09,844.05 634.83,844.93 635.57,845.76 636.31,846.55 637.05,847.29 637.79,847.99 638.53,848.65 639.27,849.28 640.01,849.88 640.75,850.44 641.49,850.98 642.22,851.49 642.96,851.97 643.7,852.43 644.44,852.87 645.18,853.29 645.92,853.68 646.66,854.06 647.4,854.43 648.14,854.77 648.88,855.1 649.62,855.42 650.36,855.72 651.1,856.01 651.84,856.28 652.58,856.55 653.32,856.8 654.06,857.05 654.8,857.28 655.54,857.5 656.28,857.72 657.01,857.93 657.75,858.12 658.49,858.32 659.23,858.5 659.97,858.68 660.71,858.85 661.45,859.01 662.19,859.17 662.93,859.33 663.67,859.47 664.41,859.62 665.15,859.75 665.89,859.89 666.63,860.01 667.37,860.14 668.11,860.26 668.85,860.37 669.59,860.49 670.33,860.6 671.07,860.7 671.8,860.8 672.54,860.9 673.28,861 674.02,861.09 674.76,861.18 675.5,861.27 676.24,861.35 676.98,861.43 677.72,861.51 678.46,861.59 679.2,861.67" fill="none" stroke="#ff40ff" stroke-width="1.1" stroke-linejoin="round"/>
<polyline points="531.3,861.91 532.04,861.84 532.78,861.77 533.52,861.69 534.26,861.62 535,861.54 535.74,861.46 536.48,861.37 537.22,861.28 537.96,861.19 538.69,861.1 539.43,861.01 540.17,860.91 540.91,860.81 541.65,860.7 542.39,860.59 543.13,860.48 543.87,860.36 544.61,860.24 545.35,860.12 546.09,859.99 546.83,859.86 547.57,859.72 548.31,859.58 549.05,859.43 549.79,859.27 550.53,859.11 551.27,858.95 552.01,858.77 552.75,858.59 553.48,858.41 554.22,858.21 554.96,858.01 555.7,857.8 556.44,857.58 557.18,857.36 557.92,857.12 558.66,856.87 559.4,856.61 560.14,856.34 560.88,856.06 561.62,855.76 562.36,855.46 563.1,855.13 563.84,854.79 564.58,854.44 565.32,854.07 566.06,853.68 566.8,853.27 567.54,852.83 568.27,852.38 569.01,851.91 569.75,851.4 570.49,850.87 571.23,850.32 571.97,849.73 572.71,849.11 573.45,848.45 574.19,847.76 574.93,847.02 575.67,846.25 576.41,845.42 577.15,844.55 577.89,843.62 578.63,842.63 579.37,841.58 580.11,840.47 580.85,839.28 581.59,838.02 582.33,836.67 583.06,835.23 583.8,833.7 584.54,832.07 585.28,830.32 586.02,828.45 586.76,826.46 587.5,824.34 588.24,822.07 588.98,819.65 589.72,817.07 590.46,814.33 591.2,811.42 591.94,808.33 592.68,805.07 593.42,801.63 594.16,798.02 594.9,794.26 595.64,790.36 596.38,786.34 597.12,782.25 597.85,778.13 598.59,774.03 599.33,770.02 600.07,766.18 600.81,762.6 601.55,759.35 602.29,756.54 603.03,754.25 603.77,752.56 604.51,751.51 605.25,751.16 605.99,751.51 606.73,752.56 607.47,754.25 608.21,756.54 608.95,759.35 609.69,762.6 610.43,766.18 611.17,770.02 611.91,774.03 612.64,778.13 613.38,782.25 614.12,786.34 614.86,790.36 615.6,794.26 616.34,798.02 617.08,801.63 617.82,805.07 618.56,808.33 619.3,811.42 620.04,814.33 620.78,817.07 621.52,819.65 622.26,822.07 623,824.34 623.74,826.46 624.48,828.45 625.22,830.32 625.96,832.07 626.7,833.7 627.43,835.23 628.17,836.67 628.91,838.02 629.65,839.28 630.39,840.47 631.13,841.58 631.87,842.63 632.61,843.62 633.35,844.55 634.09,845.42 634.83,846.25 635.57,847.02 636.31,847.76 637.05,848.45 637.79,849.11 638.53,849.73 639.27,850.32 640.01,850.87 640.75,851.4 641.49,851.91 642.22,852.38 642.96,852.83 643.7,853.27 644.44,853.68 645.18,854.07 645.92,854.44 646.66,854.79 647.4,855.13 648.14,855.46 648.88,855.76 649.62,856.06 650.36,856.34 651.1,856.61 651.84,856.87 652.58,857.12 653.32,857.36 654.06,857.58 654.8,857.8 655.54,858.01 656.28,858.21 657.01,858.41 657.75,858.59 658.49,858.77 659.23,858.95 659.97,859.11 660.71,859.27 661.45,859.43 662.19,859.58 662.93,859.72 663.67,859.86 664.41,859.99 665.15,860.12 665.89,860.24 666.63,860.36 667.37,860.48 668.11,860.59 668.85,860.7 669.59,860.81 670.33,860.91 671.07,861.01 671.8,861.1 672.54,861.19 673.28,861.28 674.02,861.37 674.76,861.46 675.5,861.54 676.24,861.62 676.98,861.69 677.72,861.77 678.46,861.84 679.2,861.91" fill="none" stroke="#2ea02e" stroke-width="1.1" stroke-linejoin="round"/>
<polyline points="531.3,862.19 532.04,862.12 532.78,862.05 533.52,861.98 534.26,861.91 535,861.84 535.74,861.76 536.48,861.69 537.22,861.61 537.96,861.52 538.69,861.44 539.43,861.35 540.17,861.26 540.91,861.16 541.65,861.07 542.39,860.97 543.13,860.86 543.87,860.76 544.61,860.64 545.35,860.53 546.09,860.41 546.83,860.29 547.57,860.16 548.31,860.03 549.05,859.89 549.79,859.75 550.53,859.6 551.27,859.45 552.01,859.29 552.75,859.12 553.48,858.95 554.22,858.77 554.96,858.58 555.7,858.39 556.44,858.19 557.18,857.98 557.92,857.76 558.66,857.53 559.4,857.29 560.14,857.04 560.88,856.78 561.62,856.51 562.36,856.22 563.1,855.92 563.84,855.61 564.58,855.28 565.32,854.94 566.06,854.58 566.8,854.2 567.54,853.8 568.27,853.38 569.01,852.94 569.75,852.48 570.49,851.99 571.23,851.47 571.97,850.93 572.71,850.36 573.45,849.75 574.19,849.11 574.93,848.43 575.67,847.71 576.41,846.95 577.15,846.14 577.89,845.29 578.63,844.38 579.37,843.41 580.11,842.38 580.85,841.28 581.59,840.11 582.33,838.87 583.06,837.54 583.8,836.12 584.54,834.61 585.28,833 586.02,831.28 586.76,829.44 587.5,827.48 588.24,825.38 588.98,823.15 589.72,820.77 590.46,818.23 591.2,815.54 591.94,812.69 592.68,809.67 593.42,806.5 594.16,803.16 594.9,799.69 595.64,796.08 596.38,792.38 597.12,788.6 597.85,784.79 598.59,781 599.33,777.3 600.07,773.75 600.81,770.44 601.55,767.44 602.29,764.85 603.03,762.73 603.77,761.16 604.51,760.2 605.25,759.88 605.99,760.2 606.73,761.16 607.47,762.73 608.21,764.85 608.95,767.44 609.69,770.44 610.43,773.75 611.17,777.3 611.91,781 612.64,784.79 613.38,788.6 614.12,792.38 614.86,796.08 615.6,799.69 616.34,803.16 617.08,806.5 617.82,809.67 618.56,812.69 619.3,815.54 620.04,818.23 620.78,820.77 621.52,823.15 622.26,825.38 623,827.48 623.74,829.44 624.48,831.28 625.22,833 625.96,834.61 626.7,836.12 627.43,837.54 628.17,838.87 628.91,840.11 629.65,841.28 630.39,842.38 631.13,843.41 631.87,844.38 632.61,845.29 633.35,846.14 634.09,846.95 634.83,847.71 635.57,848.43 636.31,849.11 637.05,849.75 637.79,850.36 638.53,850.93 639.27,851.47 640.01,851.99 640.75,852.48 641.49,852.94 642.22,853.38 642.96,853.8 643.7,854.2 644.44,854.58 645.18,854.94 645.92,855.28 646.66,855.61 647.4,855.92 648.14,856.22 648.88,856.51 649.62,856.78 650.36,857.04 651.1,857.29 651.84,857.53 652.58,857.76 653.32,857.98 654.06,858.19 654.8,858.39 655.54,858.58 656.28,858.77 657.01,858.95 657.75,859.12 658.49,859.29 659.23,859.45 659.97,859.6 660.71,859.75 661.45,859.89 662.19,860.03 662.93,860.16 663.67,860.29 664.41,860.41 665.15,860.53 665.89,860.64 666.63,860.76 667.37,860.86 668.11,860.97 668.85,861.07 669.59,861.16 670.33,861.26 671.07,861.35 671.8,861.44 672.54,861.52 673.28,861.61 674.02,861.69 674.76,861.76 675.5,861.84 676.24,861.91 676.98,861.98 677.72,862.05 678.46,862.12 679.2,862.19" fill="none" stroke="#3a4a9a" stroke-width="1.1" stroke-linejoin="round"/>
<polyline points="531.3,862.52 532.04,862.46 532.78,862.4 533.52,862.34 534.26,862.27 535,862.21 535.74,862.14 536.48,862.07 537.22,862 537.96,861.92 538.69,861.84 539.43,861.76 540.17,861.68 540.91,861.6 541.65,861.51 542.39,861.42 543.13,861.33 543.87,861.23 544.61,861.13 545.35,861.03 546.09,860.92 546.83,860.81 547.57,860.69 548.31,860.57 549.05,860.45 549.79,860.32 550.53,860.19 551.27,860.05 552.01,859.91 552.75,859.76 553.48,859.6 554.22,859.44 554.96,859.28 555.7,859.1 556.44,858.92 557.18,858.73 557.92,858.53 558.66,858.33 559.4,858.11 560.14,857.89 560.88,857.65 561.62,857.41 562.36,857.15 563.1,856.88 563.84,856.6 564.58,856.3 565.32,855.99 566.06,855.67 566.8,855.33 567.54,854.97 568.27,854.59 569.01,854.2 569.75,853.78 570.49,853.34 571.23,852.88 571.97,852.39 572.71,851.87 573.45,851.33 574.19,850.75 574.93,850.14 575.67,849.49 576.41,848.81 577.15,848.08 577.89,847.31 578.63,846.49 579.37,845.62 580.11,844.69 580.85,843.7 581.59,842.65 582.33,841.53 583.06,840.34 583.8,839.06 584.54,837.7 585.28,836.25 586.02,834.7 586.76,833.04 587.5,831.28 588.24,829.39 588.98,827.38 589.72,825.24 590.46,822.96 591.2,820.54 591.94,817.97 592.68,815.26 593.42,812.4 594.16,809.4 594.9,806.27 595.64,803.03 596.38,799.69 597.12,796.29 597.85,792.86 598.59,789.45 599.33,786.12 600.07,782.93 600.81,779.94 601.55,777.25 602.29,774.91 603.03,773.01 603.77,771.6 604.51,770.73 605.25,770.44 605.99,770.73 606.73,771.6 607.47,773.01 608.21,774.91 608.95,777.25 609.69,779.94 610.43,782.93 611.17,786.12 611.91,789.45 612.64,792.86 613.38,796.29 614.12,799.69 614.86,803.03 615.6,806.27 616.34,809.4 617.08,812.4 617.82,815.26 618.56,817.97 619.3,820.54 620.04,822.96 620.78,825.24 621.52,827.38 622.26,829.39 623,831.28 623.74,833.04 624.48,834.7 625.22,836.25 625.96,837.7 626.7,839.06 627.43,840.34 628.17,841.53 628.91,842.65 629.65,843.7 630.39,844.69 631.13,845.62 631.87,846.49 632.61,847.31 633.35,848.08 634.09,848.81 634.83,849.49 635.57,850.14 636.31,850.75 637.05,851.33 637.79,851.87 638.53,852.39 639.27,852.88 640.01,853.34 640.75,853.78 641.49,854.2 642.22,854.59 642.96,854.97 643.7,855.33 644.44,855.67 645.18,855.99 645.92,856.3 646.66,856.6 647.4,856.88 648.14,857.15 648.88,857.41 649.62,857.65 650.36,857.89 651.1,858.11 651.84,858.33 652.58,858.53 653.32,858.73 654.06,858.92 654.8,859.1 655.54,859.28 656.28,859.44 657.01,859.6 657.75,859.76 658.49,859.91 659.23,860.05 659.97,860.19 660.71,860.32 661.45,860.45 662.19,860.57 662.93,860.69 663.67,860.81 664.41,860.92 665.15,861.03 665.89,861.13 666.63,861.23 667.37,861.33 668.11,861.42 668.85,861.51 669.59,861.6 670.33,861.68 671.07,861.76 671.8,861.84 672.54,861.92 673.28,862 674.02,862.07 674.76,862.14 675.5,862.21 676.24,862.27 676.98,862.34 677.72,862.4 678.46,862.46 679.2,862.52" fill="none" stroke="#a040ff" stroke-width="1.1" stroke-linejoin="round"/>
<polyline points="531.3,862.89 532.04,862.83 532.78,862.78 533.52,862.73 534.26,862.67 535,862.61 535.74,862.55 536.48,862.49 537.22,862.43 537.96,862.36 538.69,862.3 539.43,862.23 540.17,862.15 540.91,862.08 541.65,862 542.39,861.92 543.13,861.84 543.87,861.76 544.61,861.67 545.35,861.58 546.09,861.49 546.83,861.39 547.57,861.29 548.31,861.18 549.05,861.07 549.79,860.96 550.53,860.85 551.27,860.73 552.01,860.6 552.75,860.47 553.48,860.33 554.22,860.19 554.96,860.04 555.7,859.89 556.44,859.73 557.18,859.57 557.92,859.39 558.66,859.21 559.4,859.02 560.14,858.83 560.88,858.62 561.62,858.41 562.36,858.18 563.1,857.95 563.84,857.7 564.58,857.44 565.32,857.17 566.06,856.88 566.8,856.59 567.54,856.27 568.27,855.94 569.01,855.59 569.75,855.23 570.49,854.84 571.23,854.44 571.97,854.01 572.71,853.56 573.45,853.08 574.19,852.57 574.93,852.04 575.67,851.47 576.41,850.87 577.15,850.23 577.89,849.56 578.63,848.84 579.37,848.07 580.11,847.26 580.85,846.4 581.59,845.48 582.33,844.49 583.06,843.45 583.8,842.33 584.54,841.14 585.28,839.87 586.02,838.51 586.76,837.06 587.5,835.51 588.24,833.86 588.98,832.09 589.72,830.22 590.46,828.22 591.2,826.09 591.94,823.84 592.68,821.47 593.42,818.96 594.16,816.33 594.9,813.59 595.64,810.75 596.38,807.82 597.12,804.84 597.85,801.84 598.59,798.85 599.33,795.93 600.07,793.13 600.81,790.52 601.55,788.16 602.29,786.11 603.03,784.44 603.77,783.21 604.51,782.45 605.25,782.19 605.99,782.45 606.73,783.21 607.47,784.44 608.21,786.11 608.95,788.16 609.69,790.52 610.43,793.13 611.17,795.93 611.91,798.85 612.64,801.84 613.38,804.84 614.12,807.82 614.86,810.75 615.6,813.59 616.34,816.33 617.08,818.96 617.82,821.47 618.56,823.84 619.3,826.09 620.04,828.22 620.78,830.22 621.52,832.09 622.26,833.86 623,835.51 623.74,837.06 624.48,838.51 625.22,839.87 625.96,841.14 626.7,842.33 627.43,843.45 628.17,844.49 628.91,845.48 629.65,846.4 630.39,847.26 631.13,848.07 631.87,848.84 632.61,849.56 633.35,850.23 634.09,850.87 634.83,851.47 635.57,852.04 636.31,852.57 637.05,853.08 637.79,853.56 638.53,854.01 639.27,854.44 640.01,854.84 640.75,855.23 641.49,855.59 642.22,855.94 642.96,856.27 643.7,856.59 644.44,856.88 645.18,857.17 645.92,857.44 646.66,857.7 647.4,857.95 648.14,858.18 648.88,858.41 649.62,858.62 650.36,858.83 651.1,859.02 651.84,859.21 652.58,859.39 653.32,859.57 654.06,859.73 654.8,859.89 655.54,860.04 656.28,860.19 657.01,860.33 657.75,860.47 658.49,860.6 659.23,860.73 659.97,860.85 660.71,860.96 661.45,861.07 662.19,861.18 662.93,861.29 663.67,861.39 664.41,861.49 665.15,861.58 665.89,861.67 666.63,861.76 667.37,861.84 668.11,861.92 668.85,862 669.59,862.08 670.33,862.15 671.07,862.23 671.8,862.3 672.54,862.36 673.28,862.43 674.02,862.49 674.76,862.55 675.5,862.61 676.24,862.67 676.98,862.73 677.72,862.78 678.46,862.83 679.2,862.89" fill="none" stroke="#8030b0" stroke-width="1.1" stroke-linejoin="round"/>
<polyline points="531.3,863.32 532.04,863.27 532.78,863.23 533.52,863.18 534.26,863.14 535,863.09 535.74,863.04 536.48,862.99 537.22,862.93 537.96,862.88 538.69,862.82 539.43,862.77 540.17,862.71 540.91,862.64 541.65,862.58 542.39,862.51 543.13,862.45 543.87,862.37 544.61,862.3 545.35,862.23 546.09,862.15 546.83,862.07 547.57,861.98 548.31,861.89 549.05,861.8 549.79,861.71 550.53,861.61 551.27,861.51 552.01,861.41 552.75,861.3 553.48,861.18 554.22,861.07 554.96,860.94 555.7,860.82 556.44,860.68 557.18,860.54 557.92,860.4 558.66,860.25 559.4,860.09 560.14,859.93 560.88,859.75 561.62,859.58 562.36,859.39 563.1,859.19 563.84,858.98 564.58,858.77 565.32,858.54 566.06,858.3 566.8,858.05 567.54,857.79 568.27,857.52 569.01,857.23 569.75,856.92 570.49,856.6 571.23,856.26 571.97,855.9 572.71,855.52 573.45,855.13 574.19,854.7 574.93,854.26 575.67,853.78 576.41,853.28 577.15,852.75 577.89,852.18 578.63,851.58 579.37,850.95 580.11,850.27 580.85,849.55 581.59,848.78 582.33,847.96 583.06,847.08 583.8,846.15 584.54,845.15 585.28,844.09 586.02,842.96 586.76,841.74 587.5,840.45 588.24,839.07 588.98,837.6 589.72,836.03 590.46,834.36 591.2,832.59 591.94,830.71 592.68,828.72 593.42,826.63 594.16,824.44 594.9,822.15 595.64,819.77 596.38,817.33 597.12,814.84 597.85,812.33 598.59,809.84 599.33,807.4 600.07,805.06 600.81,802.88 601.55,800.9 602.29,799.19 603.03,797.8 603.77,796.77 604.51,796.13 605.25,795.92 605.99,796.13 606.73,796.77 607.47,797.8 608.21,799.19 608.95,800.9 609.69,802.88 610.43,805.06 611.17,807.4 611.91,809.84 612.64,812.33 613.38,814.84 614.12,817.33 614.86,819.77 615.6,822.15 616.34,824.44 617.08,826.63 617.82,828.72 618.56,830.71 619.3,832.59 620.04,834.36 620.78,836.03 621.52,837.6 622.26,839.07 623,840.45 623.74,841.74 624.48,842.96 625.22,844.09 625.96,845.15 626.7,846.15 627.43,847.08 628.17,847.96 628.91,848.78 629.65,849.55 630.39,850.27 631.13,850.95 631.87,851.58 632.61,852.18 633.35,852.75 634.09,853.28 634.83,853.78 635.57,854.26 636.31,854.7 637.05,855.13 637.79,855.52 638.53,855.9 639.27,856.26 640.01,856.6 640.75,856.92 641.49,857.23 642.22,857.52 642.96,857.79 643.7,858.05 644.44,858.3 645.18,858.54 645.92,858.77 646.66,858.98 647.4,859.19 648.14,859.39 648.88,859.58 649.62,859.75 650.36,859.93 651.1,860.09 651.84,860.25 652.58,860.4 653.32,860.54 654.06,860.68 654.8,860.82 655.54,860.94 656.28,861.07 657.01,861.18 657.75,861.3 658.49,861.41 659.23,861.51 659.97,861.61 660.71,861.71 661.45,861.8 662.19,861.89 662.93,861.98 663.67,862.07 664.41,862.15 665.15,862.23 665.89,862.3 666.63,862.37 667.37,862.45 668.11,862.51 668.85,862.58 669.59,862.64 670.33,862.71 671.07,862.77 671.8,862.82 672.54,862.88 673.28,862.93 674.02,862.99 674.76,863.04 675.5,863.09 676.24,863.14 676.98,863.18 677.72,863.23 678.46,863.27 679.2,863.32" fill="none" stroke="#902828" stroke-width="1.1" stroke-linejoin="round"/>
<polyline points="531.3,863.77 532.04,863.74 532.78,863.7 533.52,863.67 534.26,863.63 535,863.59 535.74,863.55 536.48,863.51 537.22,863.47 537.96,863.43 538.69,863.38 539.43,863.34 540.17,863.29 540.91,863.24 541.65,863.19 542.39,863.14 543.13,863.08 543.87,863.03 544.61,862.97 545.35,862.91 546.09,862.85 546.83,862.78 547.57,862.72 548.31,862.65 549.05,862.58 549.79,862.5 550.53,862.42 551.27,862.34 552.01,862.26 552.75,862.18 553.48,862.09 554.22,861.99 554.96,861.89 555.7,861.79 556.44,861.69 557.18,861.58 557.92,861.46 558.66,861.34 559.4,861.22 560.14,861.09 560.88,860.95 561.62,860.81 562.36,860.66 563.1,860.51 563.84,860.34 564.58,860.17 565.32,859.99 566.06,859.81 566.8,859.61 567.54,859.4 568.27,859.18 569.01,858.95 569.75,858.71 570.49,858.46 571.23,858.19 571.97,857.91 572.71,857.61 573.45,857.29 574.19,856.96 574.93,856.6 575.67,856.23 576.41,855.83 577.15,855.41 577.89,854.96 578.63,854.49 579.37,853.98 580.11,853.45 580.85,852.88 581.59,852.27 582.33,851.62 583.06,850.93 583.8,850.19 584.54,849.4 585.28,848.56 586.02,847.66 586.76,846.7 587.5,845.68 588.24,844.59 588.98,843.42 589.72,842.18 590.46,840.86 591.2,839.46 591.94,837.97 592.68,836.4 593.42,834.74 594.16,833.01 594.9,831.2 595.64,829.32 596.38,827.38 597.12,825.41 597.85,823.43 598.59,821.45 599.33,819.52 600.07,817.68 600.81,815.95 601.55,814.39 602.29,813.03 603.03,811.93 603.77,811.11 604.51,810.61 605.25,810.44 605.99,810.61 606.73,811.11 607.47,811.93 608.21,813.03 608.95,814.39 609.69,815.95 610.43,817.68 611.17,819.52 611.91,821.45 612.64,823.43 613.38,825.41 614.12,827.38 614.86,829.32 615.6,831.2 616.34,833.01 617.08,834.74 617.82,836.4 618.56,837.97 619.3,839.46 620.04,840.86 620.78,842.18 621.52,843.42 622.26,844.59 623,845.68 623.74,846.7 624.48,847.66 625.22,848.56 625.96,849.4 626.7,850.19 627.43,850.93 628.17,851.62 628.91,852.27 629.65,852.88 630.39,853.45 631.13,853.98 631.87,854.49 632.61,854.96 633.35,855.41 634.09,855.83 634.83,856.23 635.57,856.6 636.31,856.96 637.05,857.29 637.79,857.61 638.53,857.91 639.27,858.19 640.01,858.46 640.75,858.71 641.49,858.95 642.22,859.18 642.96,859.4 643.7,859.61 644.44,859.81 645.18,859.99 645.92,860.17 646.66,860.34 647.4,860.51 648.14,860.66 648.88,860.81 649.62,860.95 650.36,861.09 651.1,861.22 651.84,861.34 652.58,861.46 653.32,861.58 654.06,861.69 654.8,861.79 655.54,861.89 656.28,861.99 657.01,862.09 657.75,862.18 658.49,862.26 659.23,862.34 659.97,862.42 660.71,862.5 661.45,862.58 662.19,862.65 662.93,862.72 663.67,862.78 664.41,862.85 665.15,862.91 665.89,862.97 666.63,863.03 667.37,863.08 668.11,863.14 668.85,863.19 669.59,863.24 670.33,863.29 671.07,863.34 671.8,863.38 672.54,863.43 673.28,863.47 674.02,863.51 674.76,863.55 675.5,863.59 676.24,863.63 676.98,863.67 677.72,863.7 678.46,863.74 679.2,863.77" fill="none" stroke="#8a8a20" stroke-width="1.1" stroke-linejoin="round"/>
<line x1="605.25" y1="710.5" x2="605.25" y2="869.7" stroke="#5b8fd8" stroke-width="0.9" stroke-dasharray="3,1.5,0.8,1.5"/>
</g>
<rect x="531.4" y="710.5" width="148" height="159.2" fill="none" stroke="#333" stroke-width="1"/>
<line x1="531.4" y1="865.5" x2="533.6" y2="865.5" stroke="#333" stroke-width="0.9"/>
<text x="531" y="868.5" font-size="7.9" text-anchor="end" fill="#333" font-family='"Liberation Sans", sans-serif'>0</text>
<line x1="531.4" y1="799.49" x2="533.6" y2="799.49" stroke="#333" stroke-width="0.9"/>
<text x="531" y="802.49" font-size="7.9" text-anchor="end" fill="#333" font-family='"Liberation Sans", sans-serif'>50</text>
<line x1="531.4" y1="733.47" x2="533.6" y2="733.47" stroke="#333" stroke-width="0.9"/>
<text x="531" y="736.47" font-size="7.9" text-anchor="end" fill="#333" font-family='"Liberation Sans", sans-serif'>100</text>
<line x1="531.3" y1="869.7" x2="531.3" y2="867.5" stroke="#333" stroke-width="0.9"/>
<text x="531.3" y="878.3" font-size="7.9" text-anchor="middle" fill="#333" font-family='"Liberation Sans", sans-serif'>420</text>
<line x1="568.27" y1="869.7" x2="568.27" y2="867.5" stroke="#333" stroke-width="0.9"/>
<text x="568.27" y="878.3" font-size="7.9" text-anchor="middle" fill="#333" font-family='"Liberation Sans", sans-serif'>430</text>
<line x1="605.25" y1="869.7" x2="605.25" y2="867.5" stroke="#333" stroke-width="0.9"/>
<text x="605.25" y="878.3" font-size="7.9" text-anchor="middle" fill="#333" font-family='"Liberation Sans", sans-serif'>440</text>
<line x1="642.22" y1="869.7" x2="642.22" y2="867.5" stroke="#333" stroke-width="0.9"/>
<text x="642.22" y="878.3" font-size="7.9" text-anchor="middle" fill="#333" font-family='"Liberation Sans", sans-serif'>450</text>
<line x1="679.2" y1="869.7" x2="679.2" y2="867.5" stroke="#333" stroke-width="0.9"/>
<clipPath id="icx531"><rect x="0" y="0" width="682.4" height="971"/></clipPath>
<g clip-path="url(#icx531)">
<text x="679.2" y="878.3" font-size="7.9" text-anchor="middle" fill="#333" font-family='"Liberation Sans", sans-serif'>460</text>
</g>
<text x="605.7" y="889.2" font-size="9" text-anchor="middle" fill="#333" font-family='"Liberation Sans", sans-serif'>Frequency (MHz)</text>
<text x="517.4" y="794.2" font-size="9.4" text-anchor="middle" fill="#333" transform="rotate(-90 517.4 794.2)" font-family='"Liberation Sans", sans-serif'>Impedance real part (&#937;)</text>
<line x1="636.4" y1="718.4" x2="649.4" y2="718.4" stroke="#111" stroke-width="1.2"/>
<text x="664.3" y="720.7" font-size="6.5" text-anchor="end" fill="#333" font-family='"Liberation Sans", sans-serif'>0&#176;</text>
<line x1="636.4" y1="726.28" x2="649.4" y2="726.28" stroke="#e03030" stroke-width="1.2"/>
<text x="664.3" y="728.58" font-size="6.5" text-anchor="end" fill="#333" font-family='"Liberation Sans", sans-serif'>5&#176;</text>
<line x1="636.4" y1="734.16" x2="649.4" y2="734.16" stroke="#2a2aee" stroke-width="1.2"/>
<text x="664.3" y="736.46" font-size="6.5" text-anchor="end" fill="#333" font-family='"Liberation Sans", sans-serif'>10&#176;</text>
<line x1="636.4" y1="742.04" x2="649.4" y2="742.04" stroke="#ff40ff" stroke-width="1.2"/>
<text x="664.3" y="744.34" font-size="6.5" text-anchor="end" fill="#333" font-family='"Liberation Sans", sans-serif'>15&#176;</text>
<line x1="636.4" y1="749.92" x2="649.4" y2="749.92" stroke="#2ea02e" stroke-width="1.2"/>
<text x="664.3" y="752.22" font-size="6.5" text-anchor="end" fill="#333" font-family='"Liberation Sans", sans-serif'>20&#176;</text>
<line x1="636.4" y1="757.8" x2="649.4" y2="757.8" stroke="#3a4a9a" stroke-width="1.2"/>
<text x="664.3" y="760.1" font-size="6.5" text-anchor="end" fill="#333" font-family='"Liberation Sans", sans-serif'>25&#176;</text>
<line x1="636.4" y1="765.68" x2="649.4" y2="765.68" stroke="#a040ff" stroke-width="1.2"/>
<text x="664.3" y="767.98" font-size="6.5" text-anchor="end" fill="#333" font-family='"Liberation Sans", sans-serif'>30&#176;</text>
<line x1="636.4" y1="773.56" x2="649.4" y2="773.56" stroke="#8030b0" stroke-width="1.2"/>
<text x="664.3" y="775.86" font-size="6.5" text-anchor="end" fill="#333" font-family='"Liberation Sans", sans-serif'>35&#176;</text>
<line x1="636.4" y1="781.44" x2="649.4" y2="781.44" stroke="#902828" stroke-width="1.2"/>
<text x="664.3" y="783.74" font-size="6.5" text-anchor="end" fill="#333" font-family='"Liberation Sans", sans-serif'>40&#176;</text>
<line x1="636.4" y1="789.32" x2="649.4" y2="789.32" stroke="#8a8a20" stroke-width="1.2"/>
<text x="664.3" y="791.62" font-size="6.5" text-anchor="end" fill="#333" font-family='"Liberation Sans", sans-serif'>45&#176;</text>
</svg></body></html>
